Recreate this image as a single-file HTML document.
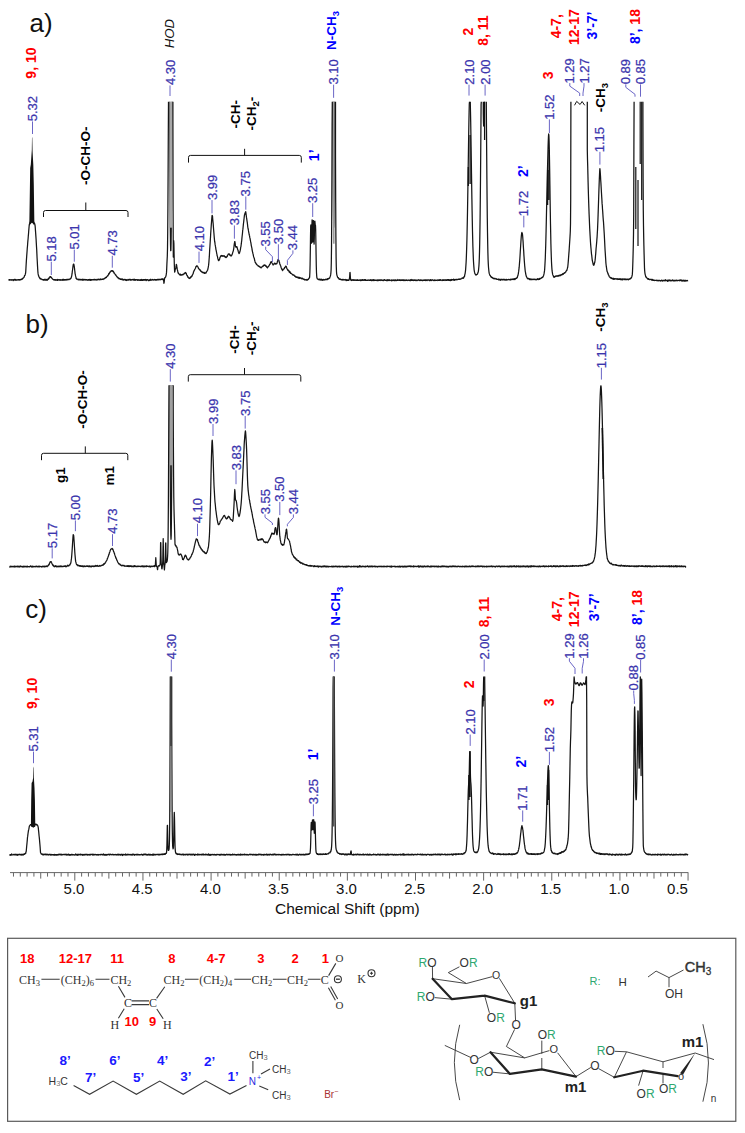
<!DOCTYPE html>
<html><head><meta charset="utf-8"><style>
html,body{margin:0;padding:0;background:#fff;}
svg{display:block;}
.sp{fill:none;stroke:#151515;stroke-width:1.25;stroke-linejoin:round;}
.nl{font-family:"Liberation Sans",sans-serif;font-size:13px;fill:#3b35ad;stroke:#3b35ad;stroke-width:0.25;}
.cn{fill:none;stroke:#5a55c0;stroke-width:0.9;}
.rd{font-family:"Liberation Sans",sans-serif;font-size:14px;font-weight:bold;fill:#f00;}
.bl{font-family:"Liberation Sans",sans-serif;font-size:13.5px;font-weight:bold;fill:#00f;}
.bk{font-family:"Liberation Sans",sans-serif;font-size:13.5px;font-weight:bold;fill:#000;}
.hod{font-family:"Liberation Sans",sans-serif;font-size:13.2px;font-style:italic;fill:#111;}
.pl{font-family:"Liberation Sans",sans-serif;font-size:26px;fill:#111;}
.br{fill:none;stroke:#111;stroke-width:1;}
.sf{font-family:"Liberation Serif",serif;font-size:12px;fill:#333;}
.sl{fill:none;stroke:#3a3a3a;stroke-width:1.1;}
.ss{font-family:"Liberation Sans",sans-serif;font-size:10px;fill:#333;}
.bb{font-family:"Liberation Sans",sans-serif;font-weight:bold;fill:#1a1aff;}
.sg{font-family:"Liberation Sans",sans-serif;fill:#333;}
.sgb{font-family:"Liberation Sans",sans-serif;font-weight:bold;fill:#222;}
.sgl{fill:none;stroke:#333;stroke-width:0.9;}
.sgb2{fill:none;stroke:#222;stroke-width:2.2;stroke-linecap:round;}
.ax{font-family:"Liberation Sans",sans-serif;font-size:14px;fill:#111;}
</style></head><body>
<svg width="745" height="1133" viewBox="0 0 745 1133">
<rect width="745" height="1133" fill="#fff"/>
<polyline class="sp" points="8.5,279.80 8.7,279.68 8.9,279.80 9.1,280.21 9.3,279.66 9.5,279.78 9.7,280.02 9.9,279.74 10.1,279.80 10.3,279.81 10.5,279.88 10.7,279.75 10.9,280.07 11.1,279.93 11.3,280.01 11.5,279.74 11.7,279.88 11.9,279.96 12.1,280.08 12.3,279.95 12.5,279.89 12.7,279.96 12.9,279.56 13.1,279.64 13.3,280.56 13.5,280.36 13.7,279.93 13.9,279.99 14.1,279.83 14.3,279.83 14.5,279.35 14.7,280.16 14.9,279.97 15.1,279.36 15.3,279.71 15.5,279.70 15.7,280.00 15.9,280.28 16.1,279.82 16.3,279.83 16.5,280.16 16.7,280.02 16.9,279.87 17.1,280.08 17.3,279.87 17.5,279.81 17.7,279.82 17.9,279.95 18.1,279.67 18.3,279.59 18.5,279.73 18.7,280.01 18.9,279.62 19.1,279.92 19.3,279.57 19.5,280.05 19.7,279.54 19.9,279.75 20.1,280.02 20.3,279.74 20.5,279.59 20.7,279.47 20.9,279.71 21.1,279.66 21.3,279.25 21.5,279.33 21.7,279.06 21.9,278.84 22.1,279.34 22.3,278.76 22.5,278.39 22.7,278.64 22.9,278.61 23.1,278.05 23.3,277.98 23.5,277.61 23.7,277.69 23.9,277.70 24.1,276.98 24.3,276.58 24.5,275.76 24.7,275.39 24.9,275.39 25.1,274.93 25.3,274.08 25.5,273.61 25.7,272.25 25.9,268.98 26.1,265.20 26.3,261.86 26.5,258.87 26.7,256.15 26.9,253.40 27.1,250.68 27.3,247.71 27.5,246.02 27.7,243.05 27.9,240.65 28.1,238.71 28.3,236.01 28.5,233.98 28.7,231.10 28.9,228.84 29.1,226.43 29.3,224.67 29.5,224.01 29.7,223.67 29.9,223.29 30.1,222.04 30.3,222.19 30.5,222.15 30.7,221.82 30.9,221.80 31.1,221.45 31.3,221.58 31.5,221.53 31.7,221.67 31.9,221.36 32.1,221.73 32.3,221.33 32.5,221.16 32.7,221.98 32.9,222.29 33.1,221.61 33.3,221.22 33.5,222.22 33.7,222.42 33.9,222.17 34.1,222.79 34.3,223.05 34.5,223.44 34.7,223.73 34.9,224.57 35.1,225.65 35.3,227.95 35.5,230.86 35.7,233.64 35.9,236.61 36.1,239.41 36.3,242.98 36.5,246.45 36.7,249.49 36.9,254.00 37.1,258.20 37.3,261.83 37.5,265.62 37.7,269.07 37.9,271.83 38.1,273.69 38.3,275.01 38.5,275.23 38.7,276.15 38.9,276.72 39.1,277.10 39.3,277.34 39.5,277.17 39.7,278.17 39.9,278.09 40.1,278.89 40.3,278.55 40.5,278.50 40.7,278.95 40.9,279.20 41.1,279.12 41.3,279.12 41.5,279.22 41.7,278.95 41.9,279.44 42.1,279.68 42.3,279.61 42.5,279.63 42.7,279.62 42.9,279.69 43.1,279.67 43.3,280.16 43.5,279.56 43.7,279.93 43.9,280.10 44.1,279.66 44.3,279.50 44.5,279.71 44.7,279.80 44.9,280.07 45.1,279.12 45.3,279.61 45.5,280.11 45.7,280.01 45.9,279.79 46.1,280.19 46.3,279.74 46.5,279.88 46.7,279.44 46.9,279.48 47.1,280.36 47.3,279.62 47.5,279.97 47.7,279.21 47.9,279.34 48.1,279.11 48.3,279.35 48.5,278.44 48.7,278.17 48.9,278.69 49.1,278.06 49.3,278.03 49.5,277.58 49.7,277.61 49.9,276.58 50.1,277.09 50.3,276.79 50.5,276.55 50.7,276.88 50.9,276.91 51.1,277.18 51.3,277.32 51.5,277.86 51.7,277.97 51.9,278.20 52.1,278.50 52.3,278.65 52.5,278.96 52.7,278.89 52.9,279.32 53.1,279.41 53.3,279.64 53.5,279.69 53.7,279.94 53.9,279.54 54.1,279.99 54.3,279.92 54.5,279.67 54.7,279.67 54.9,279.88 55.1,280.30 55.3,279.70 55.5,279.74 55.7,280.17 55.9,279.63 56.1,280.00 56.3,280.11 56.5,279.80 56.7,279.88 56.9,279.78 57.1,280.24 57.3,279.38 57.5,279.99 57.7,280.22 57.9,279.69 58.1,279.93 58.3,279.76 58.5,279.93 58.7,279.86 58.9,279.78 59.1,280.03 59.3,279.67 59.5,279.96 59.7,280.06 59.9,279.82 60.1,279.73 60.3,279.90 60.5,280.05 60.7,279.68 60.9,280.28 61.1,280.09 61.3,279.82 61.5,280.17 61.7,279.82 61.9,279.84 62.1,279.60 62.3,280.05 62.5,279.98 62.7,279.73 62.9,280.43 63.1,279.04 63.3,279.98 63.5,279.99 63.7,279.59 63.9,279.81 64.1,280.24 64.3,279.63 64.5,279.57 64.7,279.89 64.9,279.84 65.1,279.64 65.3,279.99 65.5,279.64 65.7,279.69 65.9,279.90 66.1,280.07 66.3,279.77 66.5,279.92 66.7,279.44 66.9,279.64 67.1,279.47 67.3,279.62 67.5,279.57 67.7,279.81 67.9,279.43 68.1,279.13 68.3,279.62 68.5,279.67 68.7,279.53 68.9,279.57 69.1,279.59 69.3,279.33 69.5,279.39 69.7,278.89 69.9,279.17 70.1,278.98 70.3,278.70 70.5,278.83 70.7,278.16 70.9,278.37 71.1,277.99 71.3,277.33 71.5,276.56 71.7,275.99 71.9,274.56 72.1,273.69 72.3,271.47 72.5,270.24 72.7,268.72 72.9,267.17 73.1,265.59 73.3,264.45 73.5,264.05 73.7,264.02 73.9,264.44 74.1,265.63 74.3,266.71 74.5,268.28 74.7,270.22 74.9,271.69 75.1,273.60 75.3,274.39 75.5,275.64 75.7,276.40 75.9,276.83 76.1,278.35 76.3,278.14 76.5,278.79 76.7,278.60 76.9,279.26 77.1,279.18 77.3,279.11 77.5,279.09 77.7,279.29 77.9,279.56 78.1,279.54 78.3,279.22 78.5,279.48 78.7,279.93 78.9,279.33 79.1,279.46 79.3,279.37 79.5,279.69 79.7,279.42 79.9,279.90 80.1,279.51 80.3,279.79 80.5,279.51 80.7,279.44 80.9,279.89 81.1,279.72 81.3,279.71 81.5,279.43 81.7,279.56 81.9,280.05 82.1,279.63 82.3,279.57 82.5,279.23 82.7,280.19 82.9,279.90 83.1,279.44 83.3,280.12 83.5,280.08 83.7,279.66 83.9,279.53 84.1,279.96 84.3,279.66 84.5,279.77 84.7,279.42 84.9,279.80 85.1,279.56 85.3,280.03 85.5,279.85 85.7,279.83 85.9,279.52 86.1,279.67 86.3,280.00 86.5,279.64 86.7,279.62 86.9,279.84 87.1,279.88 87.3,279.86 87.5,280.24 87.7,279.77 87.9,279.76 88.1,280.03 88.3,279.63 88.5,280.16 88.7,279.95 88.9,279.93 89.1,279.32 89.3,280.21 89.5,279.67 89.7,279.58 89.9,279.72 90.1,279.51 90.3,280.06 90.5,280.38 90.7,279.61 90.9,280.10 91.1,279.89 91.3,280.10 91.5,279.54 91.7,279.58 91.9,279.98 92.1,279.57 92.3,279.76 92.5,279.83 92.7,279.77 92.9,279.84 93.1,279.63 93.3,279.70 93.5,279.87 93.7,279.52 93.9,279.93 94.1,279.70 94.3,279.66 94.5,279.39 94.7,279.89 94.9,279.32 95.1,279.71 95.3,279.80 95.5,279.91 95.7,279.59 95.9,279.72 96.1,280.01 96.3,280.01 96.5,279.86 96.7,279.89 96.9,279.44 97.1,279.36 97.3,279.48 97.5,279.60 97.7,279.79 97.9,279.67 98.1,279.45 98.3,279.13 98.5,279.43 98.7,279.72 98.9,279.63 99.1,279.75 99.3,279.81 99.5,279.65 99.7,279.55 99.9,279.12 100.1,279.56 100.3,279.22 100.5,279.10 100.7,279.50 100.9,279.10 101.1,279.31 101.3,279.57 101.5,279.37 101.7,279.41 101.9,279.44 102.1,279.40 102.3,279.28 102.5,279.17 102.7,279.46 102.9,279.20 103.1,279.53 103.3,279.02 103.5,278.87 103.7,278.92 103.9,278.82 104.1,278.66 104.3,278.89 104.5,278.68 104.7,278.39 104.9,278.15 105.1,278.18 105.3,277.51 105.5,278.02 105.7,277.60 105.9,277.36 106.1,277.53 106.3,277.52 106.5,277.40 106.7,276.85 106.9,276.39 107.1,276.36 107.3,276.14 107.5,276.02 107.7,275.51 107.9,275.91 108.1,275.03 108.3,274.79 108.5,274.84 108.7,273.65 108.9,274.23 109.1,273.85 109.3,273.57 109.5,272.69 109.7,272.90 109.9,272.23 110.1,271.98 110.3,271.80 110.5,271.96 110.7,271.57 110.9,270.81 111.1,271.40 111.3,271.16 111.5,270.90 111.7,270.60 111.9,270.72 112.1,270.62 112.3,271.12 112.5,270.71 112.7,270.93 112.9,271.63 113.1,271.04 113.3,271.06 113.5,272.06 113.7,272.11 113.9,272.05 114.1,273.05 114.3,273.47 114.5,273.60 114.7,273.72 114.9,274.03 115.1,274.04 115.3,274.43 115.5,275.11 115.7,274.95 115.9,274.91 116.1,275.36 116.3,275.68 116.5,276.19 116.7,276.19 116.9,276.92 117.1,276.72 117.3,277.14 117.5,277.04 117.7,277.39 117.9,277.96 118.1,277.82 118.3,277.71 118.5,278.44 118.7,278.43 118.9,278.61 119.1,278.90 119.3,278.39 119.5,278.40 119.7,278.62 119.9,278.84 120.1,278.99 120.3,278.98 120.5,279.29 120.7,278.94 120.9,278.95 121.1,279.02 121.3,279.43 121.5,279.32 121.7,279.41 121.9,278.95 122.1,279.39 122.3,279.93 122.5,279.38 122.7,279.03 122.9,279.35 123.1,279.32 123.3,279.55 123.5,280.07 123.7,280.04 123.9,279.91 124.1,279.65 124.3,279.55 124.5,279.47 124.7,279.74 124.9,279.42 125.1,279.74 125.3,279.85 125.5,279.47 125.7,279.92 125.9,280.39 126.1,279.98 126.3,279.69 126.5,280.49 126.7,279.82 126.9,279.82 127.1,280.10 127.3,280.12 127.5,279.87 127.7,279.90 127.9,279.45 128.1,279.68 128.3,280.17 128.5,279.99 128.7,279.61 128.9,279.31 129.1,279.70 129.3,279.72 129.5,279.33 129.7,279.81 129.9,279.88 130.1,280.16 130.3,279.94 130.5,279.27 130.7,280.18 130.9,279.82 131.1,280.18 131.3,279.80 131.5,279.61 131.7,279.90 131.9,279.65 132.1,279.66 132.3,279.73 132.5,279.41 132.7,279.65 132.9,279.92 133.1,280.02 133.3,280.06 133.5,279.74 133.7,279.94 133.9,279.18 134.1,279.40 134.3,279.92 134.5,279.95 134.7,279.44 134.9,280.34 135.1,279.98 135.3,279.63 135.5,280.10 135.7,279.99 135.9,279.96 136.1,279.71 136.3,279.84 136.5,279.78 136.7,279.73 136.9,279.87 137.1,279.60 137.3,280.06 137.5,280.24 137.7,280.33 137.9,280.29 138.1,280.02 138.3,279.63 138.5,279.84 138.7,280.04 138.9,280.15 139.1,280.02 139.3,279.99 139.5,280.03 139.7,280.25 139.9,280.01 140.1,279.64 140.3,280.43 140.5,279.95 140.7,280.42 140.9,279.84 141.1,280.08 141.3,280.41 141.5,279.87 141.7,279.44 141.9,279.86 142.1,279.60 142.3,279.91 142.5,280.43 142.7,279.77 142.9,280.00 143.1,280.26 143.3,279.69 143.5,279.82 143.7,280.02 143.9,279.67 144.1,280.11 144.3,279.73 144.5,280.12 144.7,279.75 144.9,280.16 145.1,279.51 145.3,279.82 145.5,279.53 145.7,280.09 145.9,280.00 146.1,279.67 146.3,280.57 146.5,280.15 146.7,279.62 146.9,279.76 147.1,279.63 147.3,279.95 147.5,279.73 147.7,280.06 147.9,280.21 148.1,280.29 148.3,280.01 148.5,280.00 148.7,280.02 148.9,280.75 149.1,280.36 149.3,279.99 149.5,279.79 149.7,280.00 149.9,280.07 150.1,280.43 150.3,279.34 150.5,280.12 150.7,279.42 150.9,279.45 151.1,279.77 151.3,279.98 151.5,279.80 151.7,280.12 151.9,279.76 152.1,279.82 152.3,279.69 152.5,279.58 152.7,279.38 152.9,279.91 153.1,279.54 153.3,280.00 153.5,280.02 153.7,279.94 153.9,280.03 154.1,279.54 154.3,279.54 154.5,279.45 154.7,279.77 154.9,279.69 155.1,279.90 155.3,280.03 155.5,279.63 155.7,279.66 155.9,280.00 156.1,279.57 156.3,280.14 156.5,279.74 156.7,279.85 156.9,279.81 157.1,279.94 157.3,279.42 157.5,279.51 157.7,279.34 157.9,279.59 158.1,279.94 158.3,279.69 158.5,279.88 158.7,279.46 158.9,279.25 159.1,279.46 159.3,279.67 159.5,279.60 159.7,279.43 159.9,279.83 160.1,279.40 160.3,279.37 160.5,279.53 160.7,279.47 160.9,279.30 161.1,279.51 161.3,279.48 161.5,279.05 161.7,279.15 161.9,278.75 162.1,279.37 162.3,279.53 162.5,278.81 162.7,278.76 162.9,279.15 163.1,279.31 163.3,279.02 163.5,279.92 163.7,280.97 163.9,283.29 164.1,282.68 164.3,281.05 164.5,278.94 164.7,277.77 164.9,277.87 165.1,277.34 165.3,277.41 165.5,277.15 165.7,276.93 165.9,275.84 166.1,275.49 166.3,274.03 166.5,272.64 166.7,268.65 166.9,263.87 167.1,259.98 167.3,256.28 167.5,248.69 167.7,232.92 167.9,208.22 168.1,173.77 168.3,133.73 168.5,101.70"/><polyline class="sp" points="169.7,101.70 169.7,131.95 169.9,172.02 170.1,204.56 170.3,228.26 170.5,244.04 170.7,250.67 170.9,250.32 171.1,242.09 171.3,225.61 171.5,199.47 171.7,163.85 171.9,120.57 172.1,101.70"/><polyline class="sp" points="172.9,101.70 172.9,120.10 173.1,210.95 173.3,257.11 173.5,251.18 173.7,240.64 173.9,243.91 174.1,254.54 174.3,263.70 174.5,269.40 174.7,272.16 174.9,271.59 175.1,270.18 175.3,269.27 175.5,269.20 175.7,268.22 175.9,267.86 176.1,266.44 176.3,264.41 176.5,264.72 176.7,265.48 176.9,267.50 177.1,268.44 177.3,269.46 177.5,270.17 177.7,270.99 177.9,272.28 178.1,272.37 178.3,273.35 178.5,273.33 178.7,273.42 178.9,273.72 179.1,273.93 179.3,274.61 179.5,274.65 179.7,274.86 179.9,274.67 180.1,274.63 180.3,275.14 180.5,274.12 180.7,275.07 180.9,275.15 181.1,274.89 181.3,274.82 181.5,274.84 181.7,275.10 181.9,274.52 182.1,274.82 182.3,274.40 182.5,274.37 182.7,274.98 182.9,274.84 183.1,274.77 183.3,274.35 183.5,274.25 183.7,274.03 183.9,274.11 184.1,273.61 184.3,273.17 184.5,273.67 184.7,273.22 184.9,272.98 185.1,272.98 185.3,272.94 185.5,272.47 185.7,272.72 185.9,273.06 186.1,273.77 186.3,273.39 186.5,274.27 186.7,274.93 186.9,275.29 187.1,275.73 187.3,275.44 187.5,276.21 187.7,276.52 187.9,277.36 188.1,276.92 188.3,277.65 188.5,277.92 188.7,277.69 188.9,278.22 189.1,277.88 189.3,277.82 189.5,278.52 189.7,278.04 189.9,278.31 190.1,277.82 190.3,277.43 190.5,277.84 190.7,276.87 190.9,277.20 191.1,277.20 191.3,276.72 191.5,276.26 191.7,276.56 191.9,275.97 192.1,276.06 192.3,275.09 192.5,274.96 192.7,274.65 192.9,273.79 193.1,273.84 193.3,273.07 193.5,271.95 193.7,271.88 193.9,270.97 194.1,270.74 194.3,270.48 194.5,269.94 194.7,269.44 194.9,269.11 195.1,268.76 195.3,268.28 195.5,268.00 195.7,267.18 195.9,266.72 196.1,266.29 196.3,266.66 196.5,265.81 196.7,265.92 196.9,266.27 197.1,265.99 197.3,265.99 197.5,266.31 197.7,266.57 197.9,266.85 198.1,267.22 198.3,267.82 198.5,268.69 198.7,268.69 198.9,268.70 199.1,269.15 199.3,269.09 199.5,269.30 199.7,269.72 199.9,269.50 200.1,270.44 200.3,270.19 200.5,270.76 200.7,271.05 200.9,270.91 201.1,271.40 201.3,271.21 201.5,271.88 201.7,271.72 201.9,272.08 202.1,272.04 202.3,272.19 202.5,272.50 202.7,272.16 202.9,272.75 203.1,272.79 203.3,272.43 203.5,272.50 203.7,272.67 203.9,272.84 204.1,272.43 204.3,273.37 204.5,273.31 204.7,273.42 204.9,272.98 205.1,273.16 205.3,272.96 205.5,272.96 205.7,273.14 205.9,273.12 206.1,272.92 206.3,271.84 206.5,271.81 206.7,271.53 206.9,271.36 207.1,270.90 207.3,270.49 207.5,270.02 207.7,270.02 207.9,268.79 208.1,268.09 208.3,266.98 208.5,265.89 208.7,264.15 208.9,262.12 209.1,259.17 209.3,256.91 209.5,253.25 209.7,249.22 209.9,246.76 210.1,243.52 210.3,240.12 210.5,237.23 210.7,233.50 210.9,230.77 211.1,227.78 211.3,224.78 211.5,222.36 211.7,219.46 211.9,217.13 212.1,215.40 212.3,215.69 212.5,216.06 212.7,218.72 212.9,220.94 213.1,222.86 213.3,225.36 213.5,228.03 213.7,230.55 213.9,233.03 214.1,235.64 214.3,237.85 214.5,240.10 214.7,241.72 214.9,242.48 215.1,244.41 215.3,245.50 215.5,246.63 215.7,247.59 215.9,249.35 216.1,250.15 216.3,251.12 216.5,252.03 216.7,253.53 216.9,253.97 217.1,255.70 217.3,255.93 217.5,256.85 217.7,257.74 217.9,259.00 218.1,259.14 218.3,260.12 218.5,260.55 218.7,260.61 218.9,260.48 219.1,259.96 219.3,259.41 219.5,259.66 219.7,258.72 219.9,257.79 220.1,257.40 220.3,256.81 220.5,256.87 220.7,255.93 220.9,256.38 221.1,255.91 221.3,255.62 221.5,255.49 221.7,255.83 221.9,255.74 222.1,256.11 222.3,256.08 222.5,255.67 222.7,255.96 222.9,255.99 223.1,256.31 223.3,255.92 223.5,255.80 223.7,256.16 223.9,256.10 224.1,255.64 224.3,256.12 224.5,256.39 224.7,256.80 224.9,256.87 225.1,256.98 225.3,256.76 225.5,257.42 225.7,256.94 225.9,257.69 226.1,257.54 226.3,257.13 226.5,257.21 226.7,257.09 226.9,256.59 227.1,256.08 227.3,256.24 227.5,255.49 227.7,255.08 227.9,254.81 228.1,254.22 228.3,254.32 228.5,254.11 228.7,253.96 228.9,253.83 229.1,254.18 229.3,253.92 229.5,254.75 229.7,254.45 229.9,255.25 230.1,255.33 230.3,255.43 230.5,255.21 230.7,255.65 230.9,256.06 231.1,255.63 231.3,255.90 231.5,255.84 231.7,255.23 231.9,254.93 232.1,254.26 232.3,254.12 232.5,253.31 232.7,252.62 232.9,252.04 233.1,251.42 233.3,250.87 233.5,249.74 233.7,248.87 233.9,247.24 234.1,245.70 234.3,243.90 234.5,242.77 234.7,241.66 234.9,241.56 235.1,242.95 235.3,244.50 235.5,246.21 235.7,246.63 235.9,246.99 236.1,247.27 236.3,246.67 236.5,246.74 236.7,246.91 236.9,246.71 237.1,247.34 237.3,248.03 237.5,249.02 237.7,249.62 237.9,250.19 238.1,250.44 238.3,251.71 238.5,252.16 238.7,252.59 238.9,253.47 239.1,253.57 239.3,252.51 239.5,253.14 239.7,252.02 239.9,251.66 240.1,250.80 240.3,250.16 240.5,248.87 240.7,247.39 240.9,246.85 241.1,245.25 241.3,243.97 241.5,241.94 241.7,240.77 241.9,238.41 242.1,236.49 242.3,234.73 242.5,233.04 242.7,230.29 242.9,229.17 243.1,227.24 243.3,225.12 243.5,223.22 243.7,221.87 243.9,219.87 244.1,218.24 244.3,216.37 244.5,214.74 244.7,214.81 244.9,213.40 245.1,213.69 245.3,212.43 245.5,212.39 245.7,211.68 245.9,212.90 246.1,214.40 246.3,215.88 246.5,217.43 246.7,218.58 246.9,220.08 247.1,221.36 247.3,222.65 247.5,224.37 247.7,226.30 247.9,227.75 248.1,228.76 248.3,229.46 248.5,230.90 248.7,232.04 248.9,232.86 249.1,234.24 249.3,235.15 249.5,235.70 249.7,236.87 249.9,237.88 250.1,238.67 250.3,239.90 250.5,240.97 250.7,241.99 250.9,242.83 251.1,244.09 251.3,245.54 251.5,246.46 251.7,247.35 251.9,248.15 252.1,249.99 252.3,250.66 252.5,251.81 252.7,252.48 252.9,253.45 253.1,254.00 253.3,255.04 253.5,256.11 253.7,256.90 253.9,257.44 254.1,258.19 254.3,258.43 254.5,259.31 254.7,260.69 254.9,260.94 255.1,261.95 255.3,262.56 255.5,262.45 255.7,262.92 255.9,263.68 256.1,263.30 256.3,264.22 256.5,264.51 256.7,264.28 256.9,264.59 257.1,264.88 257.3,265.03 257.5,265.13 257.7,265.38 257.9,265.54 258.1,266.13 258.3,266.15 258.5,265.82 258.7,266.32 258.9,266.19 259.1,266.20 259.3,266.79 259.5,266.82 259.7,266.55 259.9,267.05 260.1,266.91 260.3,267.11 260.5,267.40 260.7,267.68 260.9,267.88 261.1,267.91 261.3,267.41 261.5,267.26 261.7,267.24 261.9,266.79 262.1,266.95 262.3,266.34 262.5,266.46 262.7,266.35 262.9,266.20 263.1,266.08 263.3,265.28 263.5,266.17 263.7,265.58 263.9,265.19 264.1,265.21 264.3,265.38 264.5,264.79 264.7,265.45 264.9,265.50 265.1,265.07 265.3,265.68 265.5,266.07 265.7,265.47 265.9,265.74 266.1,266.00 266.3,266.57 266.5,266.66 266.7,267.19 266.9,266.72 267.1,267.12 267.3,267.24 267.5,267.96 267.7,267.22 267.9,266.93 268.1,266.80 268.3,266.67 268.5,266.58 268.7,266.35 268.9,265.78 269.1,265.50 269.3,265.21 269.5,265.04 269.7,264.22 269.9,264.53 270.1,263.81 270.3,263.51 270.5,262.68 270.7,262.20 270.9,261.93 271.1,261.85 271.3,262.32 271.5,261.54 271.7,262.19 271.9,262.71 272.1,263.10 272.3,263.63 272.5,263.84 272.7,264.18 272.9,264.53 273.1,265.10 273.3,264.41 273.5,264.19 273.7,264.05 273.9,264.08 274.1,263.78 274.3,263.49 274.5,263.74 274.7,263.16 274.9,263.96 275.1,263.79 275.3,263.74 275.5,264.20 275.7,263.94 275.9,263.47 276.1,263.56 276.3,263.91 276.5,263.53 276.7,263.75 276.9,263.53 277.1,262.76 277.3,262.16 277.5,261.21 277.7,261.08 277.9,259.87 278.1,259.83 278.3,259.35 278.5,260.08 278.7,260.17 278.9,260.60 279.1,261.08 279.3,262.36 279.5,262.41 279.7,263.43 279.9,264.32 280.1,264.41 280.3,265.21 280.5,265.51 280.7,265.78 280.9,266.74 281.1,267.61 281.3,268.12 281.5,268.35 281.7,268.87 281.9,269.52 282.1,269.78 282.3,269.66 282.5,269.35 282.7,270.60 282.9,269.69 283.1,269.78 283.3,269.33 283.5,269.07 283.7,269.01 283.9,269.00 284.1,268.82 284.3,268.67 284.5,267.65 284.7,267.74 284.9,267.51 285.1,267.11 285.3,267.08 285.5,266.43 285.7,266.04 285.9,266.09 286.1,266.93 286.3,266.50 286.5,267.44 286.7,268.18 286.9,268.50 287.1,268.91 287.3,269.10 287.5,269.70 287.7,270.11 287.9,270.08 288.1,269.80 288.3,270.72 288.5,270.68 288.7,271.02 288.9,270.61 289.1,271.98 289.3,271.45 289.5,272.26 289.7,272.29 289.9,272.37 290.1,271.74 290.3,272.91 290.5,273.38 290.7,272.76 290.9,273.46 291.1,273.48 291.3,273.59 291.5,273.72 291.7,273.94 291.9,273.98 292.1,274.10 292.3,274.13 292.5,274.59 292.7,274.81 292.9,275.03 293.1,274.75 293.3,275.04 293.5,275.02 293.7,275.16 293.9,275.00 294.1,275.50 294.3,275.49 294.5,276.11 294.7,276.20 294.9,276.13 295.1,276.47 295.3,276.11 295.5,276.73 295.7,276.48 295.9,277.22 296.1,276.98 296.3,276.89 296.5,276.96 296.7,277.43 296.9,277.04 297.1,276.90 297.3,277.06 297.5,277.45 297.7,277.50 297.9,277.72 298.1,277.33 298.3,277.18 298.5,277.73 298.7,278.08 298.9,277.66 299.1,277.59 299.3,278.49 299.5,277.83 299.7,277.37 299.9,277.76 300.1,277.87 300.3,277.96 300.5,277.84 300.7,278.39 300.9,278.41 301.1,278.15 301.3,278.47 301.5,278.28 301.7,278.88 301.9,278.26 302.1,278.30 302.3,278.55 302.5,278.58 302.7,278.28 302.9,279.02 303.1,279.05 303.3,279.18 303.5,279.11 303.7,279.35 303.9,279.19 304.1,279.46 304.3,279.76 304.5,279.88 304.7,279.28 304.9,279.68 305.1,279.79 305.3,279.78 305.5,279.85 305.7,279.66 305.9,279.71 306.1,279.98 306.3,280.02 306.5,280.06 306.7,280.07 306.9,279.38 307.1,279.92 307.3,280.16 307.5,279.82 307.7,279.75 307.9,279.41 308.1,279.63 308.3,279.19 308.5,279.12 308.7,278.76 308.9,278.37 309.1,277.97 309.3,277.99 309.5,277.91 309.7,276.07 309.9,272.06 310.1,263.90 310.3,251.92 310.5,237.04 310.7,226.19 310.9,224.90 311.1,232.91 311.3,241.85 311.5,243.18 311.7,236.02 311.9,225.57 312.1,219.88 312.3,224.84 312.5,235.60 312.7,242.07 312.9,239.57 313.1,229.86 313.3,220.51 313.5,220.73 313.7,230.09 313.9,240.48 314.1,244.10 314.3,238.50 314.5,228.13 314.7,221.44 314.9,221.25 315.1,223.53 315.3,224.67 315.5,225.56 315.7,230.51 315.9,242.31 316.1,255.02 316.3,266.32 316.5,272.83 316.7,275.85 316.9,277.86 317.1,277.96 317.3,278.83 317.5,278.78 317.7,279.08 317.9,279.16 318.1,279.20 318.3,279.34 318.5,279.65 318.7,279.23 318.9,279.32 319.1,279.22 319.3,279.23 319.5,279.94 319.7,279.31 319.9,279.33 320.1,279.81 320.3,279.43 320.5,279.34 320.7,279.85 320.9,280.07 321.1,279.82 321.3,279.04 321.5,279.69 321.7,280.05 321.9,279.81 322.1,280.00 322.3,279.85 322.5,279.72 322.7,280.39 322.9,279.65 323.1,279.38 323.3,279.78 323.5,279.82 323.7,279.44 323.9,280.02 324.1,280.00 324.3,280.03 324.5,279.70 324.7,279.55 324.9,279.65 325.1,279.47 325.3,279.38 325.5,279.44 325.7,279.74 325.9,279.58 326.1,279.17 326.3,279.71 326.5,279.47 326.7,279.47 326.9,279.36 327.1,279.54 327.3,279.55 327.5,278.51 327.7,278.84 327.9,279.17 328.1,278.92 328.3,278.63 328.5,278.77 328.7,278.40 328.9,278.56 329.1,278.31 329.3,278.04 329.5,277.89 329.7,278.10 329.9,277.13 330.1,276.65 330.3,276.07 330.5,275.75 330.7,274.43 330.9,272.80 331.1,270.01 331.3,263.09 331.5,248.03 331.7,222.04 331.9,180.26 332.1,126.34 332.3,101.70"/><polyline class="sp" points="333.1,101.70 333.1,124.01 333.3,174.59 333.5,211.04 333.7,227.27 333.9,222.16 334.1,195.20 334.3,150.34 334.5,101.70"/><polyline class="sp" points="335.5,101.70 335.5,154.66 335.7,202.76 335.9,236.95 336.1,256.98 336.3,266.84 336.5,271.86 336.7,274.03 336.9,275.12 337.1,275.91 337.3,276.17 337.5,277.22 337.7,277.27 337.9,277.80 338.1,277.60 338.3,277.53 338.5,278.28 338.7,278.10 338.9,278.80 339.1,279.19 339.3,279.22 339.5,279.40 339.7,279.33 339.9,279.23 340.1,278.95 340.3,279.13 340.5,279.24 340.7,279.51 340.9,279.64 341.1,279.49 341.3,279.50 341.5,279.51 341.7,279.51 341.9,279.67 342.1,280.15 342.3,279.97 342.5,279.92 342.7,279.31 342.9,279.87 343.1,279.61 343.3,279.43 343.5,279.73 343.7,279.93 343.9,279.92 344.1,280.12 344.3,279.80 344.5,279.60 344.7,279.76 344.9,279.72 345.1,279.74 345.3,279.43 345.5,280.10 345.7,279.91 345.9,279.78 346.1,279.65 346.3,280.57 346.5,280.10 346.7,280.03 346.9,280.24 347.1,279.77 347.3,279.93 347.5,280.09 347.7,280.40 347.9,280.32 348.1,280.23 348.3,279.86 348.5,280.26 348.7,280.45 348.9,280.26 349.1,279.96 349.3,279.16 349.5,278.02 349.7,276.26 349.9,272.61 350.1,272.50 350.3,275.83 350.5,278.69 350.7,279.93 350.9,279.97 351.1,280.40 351.3,279.92 351.5,279.82 351.7,280.51 351.9,280.07 352.1,279.99 352.3,279.76 352.5,279.74 352.7,279.89 352.9,280.27 353.1,280.20 353.3,279.81 353.5,280.26 353.7,280.13 353.9,279.73 354.1,280.09 354.3,280.47 354.5,280.20 354.7,279.97 354.9,280.18 355.1,279.85 355.3,279.82 355.5,280.30 355.7,280.27 355.9,280.17 356.1,280.45 356.3,280.06 356.5,280.20 356.7,279.96 356.9,280.30 357.1,280.38 357.3,279.70 357.5,280.38 357.7,280.31 357.9,280.35 358.1,280.24 358.3,280.39 358.5,280.18 358.7,280.34 358.9,280.27 359.1,280.08 359.3,280.00 359.5,280.06 359.7,280.36 359.9,280.08 360.1,280.21 360.3,280.20 360.5,280.61 360.7,280.01 360.9,280.21 361.1,279.75 361.3,280.02 361.5,280.46 361.7,280.53 361.9,279.90 362.1,280.40 362.3,280.01 362.5,280.26 362.7,279.66 362.9,280.17 363.1,279.81 363.3,279.86 363.5,280.31 363.7,280.27 363.9,279.82 364.1,280.19 364.3,280.41 364.5,279.89 364.7,279.55 364.9,280.20 365.1,279.84 365.3,280.23 365.5,279.85 365.7,280.25 365.9,279.86 366.1,280.06 366.3,280.24 366.5,280.13 366.7,280.33 366.9,280.47 367.1,280.46 367.3,280.21 367.5,280.46 367.7,280.08 367.9,280.06 368.1,280.07 368.3,280.31 368.5,280.18 368.7,280.20 368.9,279.86 369.1,280.39 369.3,280.29 369.5,280.25 369.7,280.23 369.9,280.38 370.1,280.35 370.3,279.94 370.5,280.35 370.7,279.96 370.9,279.69 371.1,279.87 371.3,280.65 371.5,280.00 371.7,280.08 371.9,280.06 372.1,280.60 372.3,280.01 372.5,280.47 372.7,279.87 372.9,279.93 373.1,279.56 373.3,280.30 373.5,280.58 373.7,279.94 373.9,279.98 374.1,280.30 374.3,279.86 374.5,280.03 374.7,280.53 374.9,280.29 375.1,280.32 375.3,280.23 375.5,280.16 375.7,280.38 375.9,280.25 376.1,280.06 376.3,280.22 376.5,280.27 376.7,280.28 376.9,280.23 377.1,280.69 377.3,280.17 377.5,280.47 377.7,280.18 377.9,280.58 378.1,279.98 378.3,280.15 378.5,280.55 378.7,280.15 378.9,280.40 379.1,279.76 379.3,280.09 379.5,280.41 379.7,280.15 379.9,280.22 380.1,279.91 380.3,280.12 380.5,280.08 380.7,280.49 380.9,280.01 381.1,279.69 381.3,280.05 381.5,280.22 381.7,280.17 381.9,280.45 382.1,280.17 382.3,280.49 382.5,280.20 382.7,280.31 382.9,280.42 383.1,280.07 383.3,280.59 383.5,280.22 383.7,280.54 383.9,279.76 384.1,279.72 384.3,280.00 384.5,279.74 384.7,280.07 384.9,280.08 385.1,280.32 385.3,280.44 385.5,280.18 385.7,280.35 385.9,280.32 386.1,280.03 386.3,280.25 386.5,280.61 386.7,280.27 386.9,280.41 387.1,280.29 387.3,280.49 387.5,279.92 387.7,279.74 387.9,280.50 388.1,280.06 388.3,280.07 388.5,280.49 388.7,280.19 388.9,279.87 389.1,280.01 389.3,279.81 389.5,280.51 389.7,280.41 389.9,280.15 390.1,280.13 390.3,280.21 390.5,280.32 390.7,280.32 390.9,280.37 391.1,280.11 391.3,280.91 391.5,279.82 391.7,280.36 391.9,280.58 392.1,280.09 392.3,280.58 392.5,280.13 392.7,280.33 392.9,280.08 393.1,280.03 393.3,279.90 393.5,280.35 393.7,280.30 393.9,280.23 394.1,280.58 394.3,280.08 394.5,280.20 394.7,280.56 394.9,279.93 395.1,279.89 395.3,280.56 395.5,280.09 395.7,279.92 395.9,280.02 396.1,280.47 396.3,280.58 396.5,280.26 396.7,280.35 396.9,280.23 397.1,280.26 397.3,280.10 397.5,280.37 397.7,280.27 397.9,279.49 398.1,280.26 398.3,280.05 398.5,280.16 398.7,280.18 398.9,280.46 399.1,280.10 399.3,280.25 399.5,280.03 399.7,279.72 399.9,280.19 400.1,280.04 400.3,280.49 400.5,280.20 400.7,279.85 400.9,280.25 401.1,280.39 401.3,280.18 401.5,280.28 401.7,280.29 401.9,280.33 402.1,279.74 402.3,280.45 402.5,280.34 402.7,280.38 402.9,279.92 403.1,280.30 403.3,279.91 403.5,280.19 403.7,280.24 403.9,280.60 404.1,279.93 404.3,280.10 404.5,280.13 404.7,280.26 404.9,280.34 405.1,280.55 405.3,280.00 405.5,280.17 405.7,280.32 405.9,280.39 406.1,280.20 406.3,280.26 406.5,279.82 406.7,280.04 406.9,280.38 407.1,280.51 407.3,280.29 407.5,280.46 407.7,280.21 407.9,280.13 408.1,280.07 408.3,280.13 408.5,280.28 408.7,280.08 408.9,280.45 409.1,280.25 409.3,280.03 409.5,280.16 409.7,280.55 409.9,280.52 410.1,280.63 410.3,279.78 410.5,280.62 410.7,280.26 410.9,279.77 411.1,279.96 411.3,279.90 411.5,280.35 411.7,280.04 411.9,279.47 412.1,280.24 412.3,280.12 412.5,280.30 412.7,280.23 412.9,280.13 413.1,279.88 413.3,280.45 413.5,280.58 413.7,280.22 413.9,280.17 414.1,279.87 414.3,280.04 414.5,280.38 414.7,280.08 414.9,279.94 415.1,280.15 415.3,280.31 415.5,280.05 415.7,280.31 415.9,280.69 416.1,279.89 416.3,280.54 416.5,280.30 416.7,280.30 416.9,280.30 417.1,280.29 417.3,280.58 417.5,280.09 417.7,280.21 417.9,280.21 418.1,279.95 418.3,279.94 418.5,279.88 418.7,279.76 418.9,280.11 419.1,280.60 419.3,280.16 419.5,280.21 419.7,280.20 419.9,280.37 420.1,280.44 420.3,280.02 420.5,279.97 420.7,280.49 420.9,280.08 421.1,280.26 421.3,280.31 421.5,280.04 421.7,280.23 421.9,280.35 422.1,280.20 422.3,280.71 422.5,280.36 422.7,280.32 422.9,280.56 423.1,280.17 423.3,280.14 423.5,280.36 423.7,280.25 423.9,280.04 424.1,279.95 424.3,280.40 424.5,280.12 424.7,279.95 424.9,280.22 425.1,280.40 425.3,280.40 425.5,280.29 425.7,280.47 425.9,279.70 426.1,280.35 426.3,280.11 426.5,280.16 426.7,280.05 426.9,280.30 427.1,280.53 427.3,279.79 427.5,280.22 427.7,280.17 427.9,280.15 428.1,279.89 428.3,280.01 428.5,279.91 428.7,279.99 428.9,280.16 429.1,280.13 429.3,280.38 429.5,280.68 429.7,280.25 429.9,280.46 430.1,279.55 430.3,279.80 430.5,279.90 430.7,280.33 430.9,279.67 431.1,280.61 431.3,280.49 431.5,280.38 431.7,280.42 431.9,280.15 432.1,280.13 432.3,279.70 432.5,279.93 432.7,279.87 432.9,280.07 433.1,280.21 433.3,280.35 433.5,280.55 433.7,280.39 433.9,280.27 434.1,279.98 434.3,280.59 434.5,280.51 434.7,280.11 434.9,280.43 435.1,280.08 435.3,280.27 435.5,280.35 435.7,280.49 435.9,280.18 436.1,280.34 436.3,280.31 436.5,280.31 436.7,280.11 436.9,280.12 437.1,280.58 437.3,280.19 437.5,280.05 437.7,279.89 437.9,279.95 438.1,280.09 438.3,280.43 438.5,280.33 438.7,279.91 438.9,280.31 439.1,279.88 439.3,279.81 439.5,280.39 439.7,280.02 439.9,280.15 440.1,279.62 440.3,279.91 440.5,280.25 440.7,280.01 440.9,280.34 441.1,280.15 441.3,280.06 441.5,280.07 441.7,280.03 441.9,280.33 442.1,280.56 442.3,280.19 442.5,280.32 442.7,280.27 442.9,279.55 443.1,279.79 443.3,280.13 443.5,280.44 443.7,280.40 443.9,279.98 444.1,279.80 444.3,280.14 444.5,280.03 444.7,280.00 444.9,279.79 445.1,280.52 445.3,280.01 445.5,279.94 445.7,279.80 445.9,279.94 446.1,280.31 446.3,280.17 446.5,280.41 446.7,279.97 446.9,279.97 447.1,279.88 447.3,280.25 447.5,280.29 447.7,279.62 447.9,279.95 448.1,279.55 448.3,279.87 448.5,280.34 448.7,279.77 448.9,279.66 449.1,280.07 449.3,280.43 449.5,279.78 449.7,279.98 449.9,279.86 450.1,280.60 450.3,279.81 450.5,280.60 450.7,280.12 450.9,279.68 451.1,280.35 451.3,280.35 451.5,279.99 451.7,279.45 451.9,279.45 452.1,280.00 452.3,279.59 452.5,279.69 452.7,279.75 452.9,279.72 453.1,279.98 453.3,279.59 453.5,279.51 453.7,279.09 453.9,279.53 454.1,280.36 454.3,280.03 454.5,279.63 454.7,279.69 454.9,280.15 455.1,279.71 455.3,279.75 455.5,279.66 455.7,279.66 455.9,279.38 456.1,279.23 456.3,279.40 456.5,279.83 456.7,279.75 456.9,279.68 457.1,279.51 457.3,279.58 457.5,279.53 457.7,279.65 457.9,279.16 458.1,279.16 458.3,279.10 458.5,279.33 458.7,279.17 458.9,279.47 459.1,279.47 459.3,279.31 459.5,278.99 459.7,279.14 459.9,279.34 460.1,278.99 460.3,278.86 460.5,278.87 460.7,279.03 460.9,278.79 461.1,278.85 461.3,278.76 461.5,278.64 461.7,278.36 461.9,278.01 462.1,277.99 462.3,278.14 462.5,278.30 462.7,278.17 462.9,278.04 463.1,277.56 463.3,278.39 463.5,277.47 463.7,277.84 463.9,277.11 464.1,276.49 464.3,276.69 464.5,276.58 464.7,275.10 464.9,274.29 465.1,273.57 465.3,272.11 465.5,270.98 465.7,268.38 465.9,265.58 466.1,262.49 466.3,258.42 466.5,253.10 466.7,247.04 466.9,240.30 467.1,231.39 467.3,221.99 467.5,211.43 467.7,199.41 467.9,186.90 468.1,173.74 468.3,160.54 468.5,146.79 468.7,134.39 468.9,122.29 469.1,112.36 469.3,104.07 469.5,101.70"/><polyline class="sp" points="470.3,101.70 470.3,103.43 470.5,111.98 470.7,122.01 470.9,133.84 471.1,146.78 471.3,160.04 471.5,173.55 471.7,186.78 471.9,199.24 472.1,210.78 472.3,220.96 472.5,231.17 472.7,239.15 472.9,246.78 473.1,252.04 473.3,257.52 473.5,261.48 473.7,264.46 473.9,267.12 474.1,269.75 474.3,270.78 474.5,272.14 474.7,272.80 474.9,273.55 475.1,273.86 475.3,274.29 475.5,274.61 475.7,274.41 475.9,275.15 476.1,274.89 476.3,274.98 476.5,274.71 476.7,274.67 476.9,274.45 477.1,274.34 477.3,274.10 477.5,274.11 477.7,273.34 477.9,272.79 478.1,272.40 478.3,271.60 478.5,270.45 478.7,268.24 478.9,266.29 479.1,262.93 479.3,258.43 479.5,252.03 479.7,243.42 479.9,231.41 480.1,217.75 480.3,199.56 480.5,178.83 480.7,155.40 480.9,130.43 481.1,104.54 481.3,101.70"/><polyline class="sp" points="483.3,101.70 483.3,113.57 483.5,123.07 483.7,126.04 483.9,123.17 484.1,113.88 484.3,101.70"/><polyline class="sp" points="486.3,101.70 486.3,104.20 486.5,130.28 486.7,155.59 486.9,179.26 487.1,199.94 487.3,218.05 487.5,232.23 487.7,243.73 487.9,252.94 488.1,259.75 488.3,263.85 488.5,267.23 488.7,269.26 488.9,271.24 489.1,272.59 489.3,273.69 489.5,274.06 489.7,274.72 489.9,275.29 490.1,275.43 490.3,275.46 490.5,275.99 490.7,276.54 490.9,276.43 491.1,277.00 491.3,277.32 491.5,276.98 491.7,277.40 491.9,277.14 492.1,277.48 492.3,277.89 492.5,277.75 492.7,277.59 492.9,278.07 493.1,278.38 493.3,278.37 493.5,278.50 493.7,278.67 493.9,278.77 494.1,278.41 494.3,278.30 494.5,278.73 494.7,278.50 494.9,278.53 495.1,278.38 495.3,278.90 495.5,278.99 495.7,278.84 495.9,278.96 496.1,278.95 496.3,278.74 496.5,279.20 496.7,279.07 496.9,279.41 497.1,279.23 497.3,279.39 497.5,279.44 497.7,279.33 497.9,279.41 498.1,279.23 498.3,279.14 498.5,279.74 498.7,279.14 498.9,279.96 499.1,279.37 499.3,279.27 499.5,279.63 499.7,279.54 499.9,279.69 500.1,279.29 500.3,280.32 500.5,279.78 500.7,280.04 500.9,279.52 501.1,279.25 501.3,279.29 501.5,279.43 501.7,279.55 501.9,279.81 502.1,279.32 502.3,279.48 502.5,279.86 502.7,279.97 502.9,279.82 503.1,279.40 503.3,279.36 503.5,279.28 503.7,279.88 503.9,279.78 504.1,279.35 504.3,279.64 504.5,279.51 504.7,280.04 504.9,279.80 505.1,279.72 505.3,279.81 505.5,279.82 505.7,280.13 505.9,279.32 506.1,279.69 506.3,280.09 506.5,279.45 506.7,279.71 506.9,279.54 507.1,279.77 507.3,279.92 507.5,279.91 507.7,279.63 507.9,279.52 508.1,279.59 508.3,279.54 508.5,279.40 508.7,279.62 508.9,279.44 509.1,279.41 509.3,279.61 509.5,279.69 509.7,279.77 509.9,279.96 510.1,280.03 510.3,279.31 510.5,279.63 510.7,279.75 510.9,279.21 511.1,279.35 511.3,279.56 511.5,279.31 511.7,279.59 511.9,279.44 512.1,279.05 512.3,279.22 512.5,279.53 512.7,279.27 512.9,279.12 513.1,279.42 513.3,279.47 513.5,278.86 513.7,279.37 513.9,279.59 514.1,279.19 514.3,278.61 514.5,278.98 514.7,278.85 514.9,279.57 515.1,279.11 515.3,278.60 515.5,278.93 515.7,278.42 515.9,278.53 516.1,278.44 516.3,277.98 516.5,278.37 516.7,278.17 516.9,277.79 517.1,277.48 517.3,277.60 517.5,276.43 517.7,276.14 517.9,275.58 518.1,274.57 518.3,273.85 518.5,272.29 518.7,271.19 518.9,269.41 519.1,267.95 519.3,265.68 519.5,263.14 519.7,260.85 519.9,257.94 520.1,254.77 520.3,251.32 520.5,248.19 520.7,244.96 520.9,242.02 521.1,239.02 521.3,236.36 521.5,234.69 521.7,233.20 521.9,232.42 522.1,233.07 522.3,233.33 522.5,234.62 522.7,236.56 522.9,239.32 523.1,241.85 523.3,245.34 523.5,248.42 523.7,251.17 523.9,255.09 524.1,257.79 524.3,260.65 524.5,263.25 524.7,265.73 524.9,267.56 525.1,269.85 525.3,271.52 525.5,272.45 525.7,274.04 525.9,274.62 526.1,275.51 526.3,276.35 526.5,276.81 526.7,277.18 526.9,277.40 527.1,277.95 527.3,278.08 527.5,278.57 527.7,278.44 527.9,278.98 528.1,278.62 528.3,278.82 528.5,278.27 528.7,278.54 528.9,278.96 529.1,278.74 529.3,278.96 529.5,279.36 529.7,279.72 529.9,278.88 530.1,279.09 530.3,279.71 530.5,279.09 530.7,279.05 530.9,279.47 531.1,279.13 531.3,279.77 531.5,279.42 531.7,279.37 531.9,279.20 532.1,279.31 532.3,279.36 532.5,279.29 532.7,279.60 532.9,279.07 533.1,279.53 533.3,279.25 533.5,279.46 533.7,279.52 533.9,279.31 534.1,279.35 534.3,279.12 534.5,279.19 534.7,279.59 534.9,279.32 535.1,279.41 535.3,279.63 535.5,279.70 535.7,279.35 535.9,279.54 536.1,279.74 536.3,279.40 536.5,279.30 536.7,279.32 536.9,279.62 537.1,279.45 537.3,278.94 537.5,279.45 537.7,279.31 537.9,278.63 538.1,279.08 538.3,279.26 538.5,279.59 538.7,278.99 538.9,279.37 539.1,278.99 539.3,279.15 539.5,279.30 539.7,278.41 539.9,278.79 540.1,278.47 540.3,278.44 540.5,278.73 540.7,278.44 540.9,278.46 541.1,278.04 541.3,278.06 541.5,278.14 541.7,277.51 541.9,277.65 542.1,277.51 542.3,277.64 542.5,277.15 542.7,277.40 542.9,276.66 543.1,276.71 543.3,276.07 543.5,275.74 543.7,275.06 543.9,274.30 544.1,273.46 544.3,272.20 544.5,270.90 544.7,268.82 544.9,265.22 545.1,261.83 545.3,257.92 545.5,251.74 545.7,246.09 545.9,238.55 546.1,230.48 546.3,221.78 546.5,212.43 546.7,203.55 546.9,194.02 547.1,185.27 547.3,176.81 547.5,168.85 547.7,161.11 547.9,153.54 548.1,146.04 548.3,140.39 548.5,135.75 548.7,133.99 548.9,135.58 549.1,140.45 549.3,148.71 549.5,159.86 549.7,172.23 549.9,185.23 550.1,199.41 550.3,212.07 550.5,224.00 550.7,233.80 550.9,243.67 551.1,250.86 551.3,256.74 551.5,262.04 551.7,265.61 551.9,268.62 552.1,270.93 552.3,272.22 552.5,273.28 552.7,274.41 552.9,274.97 553.1,275.38 553.3,275.70 553.5,276.67 553.7,276.49 553.9,276.97 554.1,277.37 554.3,277.11 554.5,276.71 554.7,276.72 554.9,276.96 555.1,276.16 555.3,276.33 555.5,276.33 555.7,276.34 555.9,276.03 556.1,276.19 556.3,275.78 556.5,275.96 556.7,275.85 556.9,276.05 557.1,276.32 557.3,275.79 557.5,276.15 557.7,275.89 557.9,275.84 558.1,276.00 558.3,275.55 558.5,276.09 558.7,275.33 558.9,275.81 559.1,275.37 559.3,275.24 559.5,275.73 559.7,275.63 559.9,275.15 560.1,275.26 560.3,275.21 560.5,275.61 560.7,275.49 560.9,274.86 561.1,274.55 561.3,275.00 561.5,274.94 561.7,274.58 561.9,274.42 562.1,274.30 562.3,274.44 562.5,274.71 562.7,273.75 562.9,274.12 563.1,273.57 563.3,274.26 563.5,273.56 563.7,273.65 563.9,273.68 564.1,273.04 564.3,272.83 564.5,273.15 564.7,272.69 564.9,272.95 565.1,272.65 565.3,272.36 565.5,272.16 565.7,271.68 565.9,271.88 566.1,271.05 566.3,270.72 566.5,270.64 566.7,270.46 566.9,270.28 567.1,269.16 567.3,268.71 567.5,267.81 567.7,267.23 567.9,265.51 568.1,263.53 568.3,261.14 568.5,258.51 568.7,255.89 568.9,253.17 569.1,250.86 569.3,247.54 569.5,244.56 569.7,241.47 569.9,238.46 570.1,235.11 570.3,231.57 570.5,223.91 570.7,199.72 570.9,101.70"/><polyline class="sp" points="587.3,101.70 587.3,149.63 587.5,159.22 587.7,165.70 587.9,174.09 588.1,182.17 588.3,189.80 588.5,196.83 588.7,203.00 588.9,208.54 589.1,214.09 589.3,218.57 589.5,223.52 589.7,228.21 589.9,231.76 590.1,235.50 590.3,238.97 590.5,242.24 590.7,244.84 590.9,247.33 591.1,249.48 591.3,252.01 591.5,254.04 591.7,255.12 591.9,257.03 592.1,258.83 592.3,260.50 592.5,261.30 592.7,262.08 592.9,263.09 593.1,263.91 593.3,264.76 593.5,264.87 593.7,265.32 593.9,265.04 594.1,264.61 594.3,264.04 594.5,262.67 594.7,262.75 594.9,261.34 595.1,260.19 595.3,258.35 595.5,255.81 595.7,253.85 595.9,251.09 596.1,248.21 596.3,246.55 596.5,244.11 596.7,242.04 596.9,239.14 597.1,236.83 597.3,233.32 597.5,229.95 597.7,225.16 597.9,220.56 598.1,214.87 598.3,208.89 598.5,203.08 598.7,196.85 598.9,190.60 599.1,185.13 599.3,179.75 599.5,175.11 599.7,170.53 599.9,168.61 600.1,170.31 600.3,173.07 600.5,176.11 600.7,179.91 600.9,182.67 601.1,186.20 601.3,189.89 601.5,193.21 601.7,196.60 601.9,199.80 602.1,203.65 602.3,205.53 602.5,208.95 602.7,211.42 602.9,214.54 603.1,217.49 603.3,220.08 603.5,221.95 603.7,225.10 603.9,228.48 604.1,231.52 604.3,234.86 604.5,238.81 604.7,242.83 604.9,246.73 605.1,250.55 605.3,253.39 605.5,256.64 605.7,259.55 605.9,263.01 606.1,264.78 606.3,266.48 606.5,267.53 606.7,269.08 606.9,270.28 607.1,271.45 607.3,271.63 607.5,272.40 607.7,272.73 607.9,273.68 608.1,273.40 608.3,274.71 608.5,274.85 608.7,275.30 608.9,275.51 609.1,276.19 609.3,276.70 609.5,277.00 609.7,276.81 609.9,277.20 610.1,277.32 610.3,277.75 610.5,277.63 610.7,277.73 610.9,277.74 611.1,278.36 611.3,278.28 611.5,277.75 611.7,278.37 611.9,278.37 612.1,278.53 612.3,278.87 612.5,278.83 612.7,278.53 612.9,278.84 613.1,278.21 613.3,279.14 613.5,279.28 613.7,278.92 613.9,279.15 614.1,278.52 614.3,278.98 614.5,278.76 614.7,279.26 614.9,278.76 615.1,278.78 615.3,278.64 615.5,278.91 615.7,278.85 615.9,278.95 616.1,278.77 616.3,279.12 616.5,278.89 616.7,279.18 616.9,278.88 617.1,279.13 617.3,279.24 617.5,279.26 617.7,278.73 617.9,279.50 618.1,279.49 618.3,278.97 618.5,279.39 618.7,279.27 618.9,279.28 619.1,278.60 619.3,279.34 619.5,279.37 619.7,279.29 619.9,279.14 620.1,279.09 620.3,279.59 620.5,279.11 620.7,278.74 620.9,279.69 621.1,279.10 621.3,279.06 621.5,279.22 621.7,279.32 621.9,279.86 622.1,278.98 622.3,279.37 622.5,279.34 622.7,278.99 622.9,279.89 623.1,279.32 623.3,279.16 623.5,279.13 623.7,279.17 623.9,278.81 624.1,279.26 624.3,279.08 624.5,279.14 624.7,279.71 624.9,279.53 625.1,278.82 625.3,279.41 625.5,279.36 625.7,279.68 625.9,279.44 626.1,279.68 626.3,279.51 626.5,279.22 626.7,279.57 626.9,279.52 627.1,279.03 627.3,279.25 627.5,279.24 627.7,279.12 627.9,279.50 628.1,279.46 628.3,279.86 628.5,279.14 628.7,279.33 628.9,279.23 629.1,279.43 629.3,278.93 629.5,278.84 629.7,278.86 629.9,279.20 630.1,278.91 630.3,278.59 630.5,278.68 630.7,278.24 630.9,277.94 631.1,278.19 631.3,277.82 631.5,277.65 631.7,276.87 631.9,276.47 632.1,275.50 632.3,274.66 632.5,271.69 632.7,266.66 632.9,260.86 633.1,253.75 633.3,245.49 633.5,234.26 633.7,214.21 633.9,146.44 634.1,101.70"/><polyline class="sp" points="642.9,101.70 642.9,113.55 643.1,178.61 643.3,210.24 643.5,225.89 643.7,237.13 643.9,245.97 644.1,253.98 644.3,261.03 644.5,267.87 644.7,270.98 644.9,272.86 645.1,274.11 645.3,274.90 645.5,275.64 645.7,276.69 645.9,276.52 646.1,277.35 646.3,277.14 646.5,277.65 646.7,277.63 646.9,277.93 647.1,278.33 647.3,278.31 647.5,278.92 647.7,279.04 647.9,278.93 648.1,278.61 648.3,279.23 648.5,279.27 648.7,278.78 648.9,279.24 649.1,279.30 649.3,279.61 649.5,279.37 649.7,279.29 649.9,279.49 650.1,279.33 650.3,279.48 650.5,279.34 650.7,279.43 650.9,279.71 651.1,279.50 651.3,279.30 651.5,279.71 651.7,280.13 651.9,279.81 652.1,279.94 652.3,279.28 652.5,279.77 652.7,280.27 652.9,280.07 653.1,279.69 653.3,280.37 653.5,280.23 653.7,280.13 653.9,280.20 654.1,280.33 654.3,280.18 654.5,280.59 654.7,280.40 654.9,280.43 655.1,280.38 655.3,280.40 655.5,280.34 655.7,280.45 655.9,280.48 656.1,280.30 656.3,280.19 656.5,280.18 656.7,280.73 656.9,280.39 657.1,280.28 657.3,280.54 657.5,280.37 657.7,280.55 657.9,280.41 658.1,280.90 658.3,280.41 658.5,280.65 658.7,280.72 658.9,280.62 659.1,280.30 659.3,280.31 659.5,280.49 659.7,280.34 659.9,280.66 660.1,280.87 660.3,281.02 660.5,280.57 660.7,280.59 660.9,280.55 661.1,280.54 661.3,280.25 661.5,280.79 661.7,280.75 661.9,280.08 662.1,280.37 662.3,280.64 662.5,281.07 662.7,280.77 662.9,280.65 663.1,280.58 663.3,280.52 663.5,280.62 663.7,280.28 663.9,280.86 664.1,280.64 664.3,280.73 664.5,280.37 664.7,280.52 664.9,280.37 665.1,280.55 665.3,279.63 665.5,280.39 665.7,280.75 665.9,280.57 666.1,280.67 666.3,280.38 666.5,280.32 666.7,280.47 666.9,280.61 667.1,280.73 667.3,280.17 667.5,280.29 667.7,281.30 667.9,280.55 668.1,280.78 668.3,280.66 668.5,280.14 668.7,280.85 668.9,280.83 669.1,279.95 669.3,280.69 669.5,280.63 669.7,280.28 669.9,280.69 670.1,280.56 670.3,280.50 670.5,280.21 670.7,280.97 670.9,280.77 671.1,280.60 671.3,280.34 671.5,280.73 671.7,280.45 671.9,280.69 672.1,280.67 672.3,280.25 672.5,280.63 672.7,279.83 672.9,280.48 673.1,280.29 673.3,280.38 673.5,280.96 673.7,280.95 673.9,280.45 674.1,280.85 674.3,280.71 674.5,280.65 674.7,280.80 674.9,280.27 675.1,280.38 675.3,280.53 675.5,280.43 675.7,280.80 675.9,280.35 676.1,280.78 676.3,280.18 676.5,280.74 676.7,280.71 676.9,280.28 677.1,280.41 677.3,280.81 677.5,280.42 677.7,280.57 677.9,280.57 678.1,280.42 678.3,280.42 678.5,280.32 678.7,280.45 678.9,280.49 679.1,280.60 679.3,280.20 679.5,280.77 679.7,280.10 679.9,280.03 680.1,280.03 680.3,280.61 680.5,280.05 680.7,280.29 680.9,280.31 681.1,279.75 681.3,280.53 681.5,280.43 681.7,280.89 681.9,281.13 682.1,280.50 682.3,280.47 682.5,280.40 682.7,280.50 682.9,281.08 683.1,280.48 683.3,280.30 683.5,280.18 683.7,280.82 683.9,280.80 684.1,280.75 684.3,280.74 684.5,280.99 684.7,280.75 684.9,280.18 685.1,280.85 685.3,281.05 685.5,280.65 685.7,280.71 685.9,280.41 686.1,280.77 686.3,280.63 686.5,280.79 686.7,280.83 686.9,280.49 687.1,280.55 687.3,280.60 687.5,280.46 687.7,280.79 687.9,280.58"/>
<polyline class="sp" style="stroke-width:1.0" points="574.5,105.3 576.7,101.4 580.1,104.5 582.1,101.5 584.7,105.3"/>
<path d="M470.1,135V184 M468.3,167V186 M549.0,150V200 M547.6,170V205 M484.6,101.7V140" stroke="#111" stroke-width="1.3" fill="none"/>
<path d="M635.8,167V229 M638.0,180V246 M640.2,101.7V164 M641.7,101.7V200" stroke="#111" stroke-width="1.2" fill="none"/>
<rect x="169.4" y="101.7" width="2.8" height="126" fill="#a8a8a8"/>
<polygon points="29.3,225.5 29.7,200 30.2,168 30.8,164.5 31.8,150 32.0,137.5 32.3,137.5 32.6,152 33.3,164.5 33.8,185 34.4,225.5 32,222.5" fill="#111"/>
<rect x="333.0" y="101.7" width="1.6" height="142" fill="#9a9a9a"/>
<text class="nl" style="font-size:13.0px" transform="translate(37.00,121.33) rotate(-90)">5.32</text><line class="cn" x1="32.50" y1="121.42" x2="32.50" y2="134.00"/>
<text class="nl" style="font-size:13.0px" transform="translate(55.80,261.62) rotate(-90)">5.18</text><line class="cn" x1="51.30" y1="261.73" x2="51.30" y2="275.00"/>
<text class="nl" style="font-size:13.0px" transform="translate(78.80,249.53) rotate(-90)">5.01</text><line class="cn" x1="74.30" y1="249.62" x2="74.30" y2="261.70"/>
<text class="nl" style="font-size:13.0px" transform="translate(116.80,255.45) rotate(-90)">4.73</text><line class="cn" x1="112.30" y1="255.80" x2="112.30" y2="267.70"/>
<text class="nl" style="font-size:13.0px" transform="translate(174.50,85.11) rotate(-90)">4.30</text><line class="cn" x1="170.00" y1="85.46" x2="170.00" y2="96.00"/>
<text class="nl" style="font-size:13.0px" transform="translate(203.50,251.26) rotate(-90)">4.10</text><line class="cn" x1="199.00" y1="251.61" x2="199.00" y2="262.90"/>
<text class="nl" style="font-size:13.0px" transform="translate(216.50,199.97) rotate(-90)">3.99</text><line class="cn" x1="212.00" y1="200.07" x2="212.00" y2="213.40"/>
<text class="nl" style="font-size:13.0px" transform="translate(238.90,225.32) rotate(-90)">3.83</text><line class="cn" x1="234.40" y1="225.42" x2="234.40" y2="238.70"/>
<text class="nl" style="font-size:13.0px" transform="translate(250.30,196.39) rotate(-90)">3.75</text><line class="cn" x1="245.80" y1="196.49" x2="245.80" y2="209.70"/>
<text class="nl" style="font-size:13.0px" transform="translate(270.20,246.59) rotate(-90)">3.55</text><polyline class="cn" points="265.70,246.69 265.70,249.69 272.40,256.69 272.40,262.00"/>
<text class="nl" style="font-size:13.0px" transform="translate(282.90,244.19) rotate(-90)">3.50</text><line class="cn" x1="278.40" y1="244.29" x2="278.40" y2="260.50"/>
<text class="nl" style="font-size:13.0px" transform="translate(297.40,250.25) rotate(-90)">3.44</text><polyline class="cn" points="292.90,250.35 292.90,253.35 287.40,260.35 287.40,265.00"/>
<text class="nl" style="font-size:13.0px" transform="translate(317.20,203.09) rotate(-90)">3.25</text><line class="cn" x1="312.70" y1="203.19" x2="312.70" y2="217.00"/>
<text class="nl" style="font-size:13.0px" transform="translate(338.10,84.59) rotate(-90)">3.10</text><line class="cn" x1="333.60" y1="84.69" x2="333.60" y2="97.80"/>
<text class="nl" style="font-size:13.0px" transform="translate(473.50,84.70) rotate(-90)">2.10</text><line class="cn" x1="469.00" y1="84.67" x2="469.00" y2="95.60"/>
<text class="nl" style="font-size:13.0px" transform="translate(489.60,84.70) rotate(-90)">2.00</text><line class="cn" x1="485.10" y1="84.67" x2="485.10" y2="95.60"/>
<text class="nl" style="font-size:13.0px" transform="translate(528.36,216.18) rotate(-90)">1.72</text><line class="cn" x1="523.80" y1="215.78" x2="523.80" y2="227.40"/>
<text class="nl" style="font-size:13.0px" transform="translate(553.90,119.78) rotate(-90)">1.52</text><line class="cn" x1="549.40" y1="119.38" x2="549.40" y2="133.00"/>
<text class="nl" style="font-size:13.0px" transform="translate(574.30,83.53) rotate(-90)">1.29</text><polyline class="cn" points="569.80,83.12 569.80,86.12 579.70,93.12 579.70,96.00"/>
<text class="nl" style="font-size:13.0px" transform="translate(588.56,83.53) rotate(-90)">1.27</text><polyline class="cn" points="584.00,83.12 584.00,86.12 583.00,93.12 583.00,96.00"/>
<text class="nl" style="font-size:13.0px" transform="translate(604.34,152.24) rotate(-90)">1.15</text><line class="cn" x1="599.90" y1="151.84" x2="599.90" y2="164.60"/>
<text class="nl" style="font-size:13.0px" transform="translate(630.30,84.22) rotate(-90)">0.89</text><polyline class="cn" points="625.80,84.32 625.80,87.32 635.00,94.32 635.00,96.70"/>
<text class="nl" style="font-size:13.0px" transform="translate(645.00,84.29) rotate(-90)">0.85</text><line class="cn" x1="640.50" y1="84.39" x2="640.50" y2="96.70"/>
<text class="pl" style="font-size:26px" x="29.44" y="31.60">a)</text>
<text class="rd" style="font-size:14px" transform="translate(35.51,78.66) rotate(-90)">9, 10</text>
<text class="bk" style="font-size:13.5px" transform="translate(90.12,185.05) rotate(-90)">-O-CH-O-</text>
<text class="hod" style="font-size:13.2px" transform="translate(174.11,48.29) rotate(-90)">HOD</text>
<text class="bk" style="font-size:13.5px" transform="translate(239.77,128.50) rotate(-90)">-CH-</text><text class="bk" style="font-size:13.5px" transform="translate(256.49,130.53) rotate(-90)">-CH<tspan font-size="9.5px" dy="3.00">2</tspan><tspan dy="-3.00">-</tspan></text>
<text class="bl" style="font-size:14px" transform="translate(319.41,161.16) rotate(-90)">1’</text>
<text class="bl" style="font-size:13.5px" transform="translate(336.12,50.01) rotate(-90)">N-CH<tspan font-size="9.5px" dy="3.00">3</tspan></text>
<text class="rd" style="font-size:14px" transform="translate(472.83,35.52) rotate(-90)">2</text>
<text class="rd" style="font-size:14px" transform="translate(488.41,45.79) rotate(-90)">8, 11</text>
<text class="bl" style="font-size:14px" transform="translate(527.88,177.12) rotate(-90)">2’</text>
<text class="rd" style="font-size:14px" transform="translate(553.41,79.31) rotate(-90)">3</text>
<text class="rd" style="font-size:14px" transform="translate(561.10,38.35) rotate(-90)">4-7,</text>
<text class="rd" style="font-size:14px" transform="translate(578.73,45.00) rotate(-90)">12-17</text>
<text class="bl" style="font-size:14px" transform="translate(596.76,39.55) rotate(-90)">3’-7’</text>
<text class="bk" style="font-size:13.5px" transform="translate(604.62,112.25) rotate(-90)">-CH<tspan font-size="9.5px" dy="3.00">3</tspan></text>

<path class="br" d="M43.5,217.0 L43.5,212.5 Q43.5,210.5 45.5,210.5 L126.0,210.5 Q128.0,210.5 128.0,212.5 L128.0,217.0 M85.8,210.5 L85.8,202.5"/>
<path class="br" d="M188.5,162.6 L188.5,157.4 Q188.5,155.4 190.5,155.4 L299.3,155.4 Q301.3,155.4 301.3,157.4 L301.3,162.6 M244.6,155.4 L244.6,148.8"/>
<polyline class="sp" points="9.4,566.53 9.6,566.71 9.8,566.68 10.0,567.19 10.2,566.13 10.4,566.29 10.6,566.66 10.8,566.38 11.0,566.51 11.2,566.72 11.4,566.33 11.6,566.65 11.8,566.66 12.0,566.77 12.2,566.46 12.4,566.60 12.6,566.44 12.8,566.73 13.0,566.54 13.2,566.80 13.4,566.37 13.6,566.53 13.8,566.49 14.0,566.47 14.2,566.83 14.4,566.38 14.6,566.06 14.8,566.98 15.0,567.01 15.2,566.95 15.4,566.36 15.6,566.54 15.8,566.30 16.0,566.39 16.2,566.52 16.4,566.50 16.6,566.61 16.8,566.36 17.0,566.85 17.2,566.68 17.4,566.51 17.6,566.12 17.8,566.76 18.0,566.84 18.2,566.71 18.4,566.33 18.6,566.63 18.8,566.24 19.0,567.04 19.2,566.29 19.4,566.31 19.6,566.92 19.8,566.53 20.0,566.26 20.2,566.55 20.4,566.32 20.6,565.97 20.8,566.50 21.0,566.64 21.2,566.76 21.4,566.41 21.6,566.62 21.8,566.61 22.0,566.59 22.2,566.40 22.4,566.83 22.6,566.95 22.8,567.17 23.0,566.27 23.2,566.55 23.4,566.19 23.6,566.57 23.8,566.75 24.0,566.44 24.2,566.58 24.4,566.88 24.6,566.78 24.8,566.12 25.0,566.47 25.2,566.46 25.4,566.63 25.6,566.73 25.8,566.34 26.0,566.59 26.2,566.75 26.4,566.59 26.6,566.79 26.8,566.51 27.0,566.28 27.2,566.77 27.4,566.20 27.6,566.73 27.8,566.52 28.0,566.77 28.2,566.61 28.4,566.55 28.6,566.67 28.8,566.73 29.0,566.73 29.2,566.76 29.4,566.95 29.6,566.62 29.8,566.45 30.0,566.33 30.2,566.39 30.4,565.94 30.6,566.47 30.8,566.67 31.0,566.08 31.2,566.81 31.4,566.31 31.6,566.79 31.8,566.46 32.0,567.04 32.2,566.32 32.4,566.59 32.6,566.79 32.8,566.13 33.0,566.36 33.2,566.53 33.4,566.73 33.6,566.56 33.8,566.59 34.0,566.36 34.2,566.34 34.4,566.71 34.6,566.68 34.8,566.67 35.0,566.88 35.2,566.69 35.4,566.56 35.6,566.37 35.8,566.21 36.0,566.74 36.2,566.40 36.4,566.65 36.6,566.02 36.8,566.55 37.0,566.41 37.2,566.77 37.4,566.73 37.6,566.48 37.8,566.63 38.0,566.44 38.2,566.92 38.4,566.36 38.6,566.75 38.8,566.09 39.0,566.60 39.2,566.25 39.4,566.87 39.6,566.41 39.8,566.74 40.0,566.64 40.2,566.51 40.4,566.59 40.6,566.45 40.8,566.32 41.0,566.35 41.2,566.53 41.4,566.85 41.6,566.70 41.8,566.55 42.0,567.03 42.2,566.31 42.4,566.55 42.6,566.55 42.8,566.25 43.0,566.32 43.2,566.43 43.4,566.73 43.6,566.40 43.8,566.38 44.0,566.69 44.2,566.20 44.4,566.33 44.6,566.94 44.8,566.41 45.0,566.75 45.2,566.15 45.4,566.22 45.6,566.69 45.8,566.62 46.0,566.36 46.2,566.43 46.4,565.98 46.6,566.15 46.8,566.38 47.0,566.12 47.2,566.73 47.4,566.07 47.6,565.85 47.8,566.00 48.0,565.99 48.2,565.49 48.4,564.92 48.6,565.08 48.8,565.10 49.0,564.10 49.2,564.53 49.4,563.50 49.6,563.33 49.8,562.51 50.0,562.55 50.2,561.66 50.4,561.67 50.6,562.04 50.8,562.10 51.0,561.82 51.2,561.66 51.4,562.30 51.6,562.72 51.8,563.23 52.0,563.43 52.2,563.95 52.4,564.37 52.6,565.05 52.8,564.82 53.0,565.04 53.2,565.93 53.4,565.21 53.6,565.74 53.8,566.16 54.0,566.59 54.2,566.02 54.4,566.09 54.6,566.41 54.8,566.74 55.0,566.03 55.2,566.47 55.4,566.46 55.6,565.64 55.8,565.82 56.0,566.12 56.2,566.48 56.4,566.21 56.6,566.95 56.8,566.35 57.0,566.57 57.2,566.71 57.4,566.78 57.6,566.26 57.8,566.37 58.0,566.35 58.2,566.18 58.4,566.60 58.6,566.70 58.8,566.83 59.0,566.47 59.2,566.20 59.4,566.42 59.6,566.22 59.8,566.68 60.0,566.50 60.2,566.57 60.4,566.69 60.6,565.91 60.8,566.16 61.0,566.56 61.2,566.55 61.4,566.37 61.6,566.71 61.8,566.24 62.0,566.67 62.2,566.43 62.4,566.59 62.6,566.45 62.8,566.65 63.0,566.71 63.2,566.55 63.4,566.47 63.6,566.36 63.8,566.26 64.0,565.89 64.2,566.06 64.4,566.31 64.6,566.06 64.8,566.40 65.0,565.85 65.2,566.06 65.4,566.52 65.6,565.98 65.8,565.94 66.0,566.80 66.2,566.29 66.4,566.20 66.6,566.54 66.8,566.30 67.0,566.24 67.2,565.84 67.4,565.86 67.6,565.24 67.8,565.95 68.0,565.52 68.2,565.73 68.4,565.63 68.6,565.92 68.8,566.03 69.0,565.66 69.2,565.18 69.4,564.86 69.6,564.96 69.8,564.81 70.0,564.92 70.2,564.02 70.4,563.67 70.6,563.60 70.8,562.76 71.0,562.05 71.2,560.20 71.4,558.89 71.6,557.08 71.8,554.62 72.0,551.91 72.2,549.10 72.4,546.08 72.6,542.83 72.8,539.89 73.0,536.79 73.2,534.63 73.4,535.01 73.6,535.15 73.8,536.80 74.0,539.69 74.2,542.45 74.4,546.04 74.6,548.69 74.8,552.15 75.0,554.68 75.2,556.87 75.4,559.09 75.6,561.00 75.8,561.91 76.0,562.54 76.2,563.47 76.4,563.92 76.6,564.65 76.8,564.64 77.0,564.73 77.2,565.08 77.4,564.75 77.6,565.39 77.8,565.70 78.0,565.93 78.2,565.31 78.4,565.67 78.6,565.46 78.8,565.65 79.0,565.40 79.2,565.53 79.4,565.98 79.6,565.85 79.8,565.68 80.0,566.29 80.2,565.64 80.4,565.72 80.6,565.80 80.8,566.12 81.0,566.01 81.2,566.38 81.4,566.10 81.6,566.28 81.8,566.12 82.0,566.28 82.2,566.09 82.4,565.88 82.6,566.51 82.8,565.96 83.0,566.70 83.2,566.75 83.4,566.24 83.6,566.22 83.8,566.12 84.0,566.64 84.2,566.25 84.4,566.21 84.6,565.93 84.8,566.27 85.0,566.12 85.2,566.50 85.4,566.30 85.6,566.37 85.8,566.09 86.0,566.51 86.2,566.47 86.4,566.12 86.6,565.82 86.8,566.17 87.0,566.19 87.2,566.35 87.4,566.00 87.6,566.13 87.8,565.83 88.0,566.18 88.2,566.50 88.4,566.41 88.6,566.51 88.8,566.58 89.0,565.95 89.2,566.06 89.4,566.57 89.6,565.81 89.8,566.19 90.0,566.49 90.2,566.15 90.4,566.26 90.6,566.44 90.8,566.73 91.0,566.23 91.2,566.16 91.4,566.88 91.6,566.09 91.8,566.07 92.0,566.34 92.2,566.19 92.4,566.28 92.6,566.42 92.8,566.29 93.0,565.86 93.2,566.55 93.4,566.13 93.6,566.13 93.8,566.35 94.0,566.28 94.2,566.51 94.4,566.37 94.6,566.14 94.8,566.06 95.0,566.35 95.2,565.36 95.4,566.26 95.6,566.07 95.8,566.15 96.0,566.19 96.2,565.75 96.4,566.19 96.6,565.72 96.8,565.76 97.0,566.29 97.2,565.76 97.4,566.17 97.6,565.31 97.8,566.08 98.0,566.20 98.2,566.43 98.4,566.26 98.6,566.06 98.8,566.15 99.0,566.19 99.2,566.03 99.4,565.89 99.6,565.45 99.8,566.21 100.0,565.90 100.2,565.97 100.4,566.08 100.6,565.99 100.8,565.86 101.0,565.42 101.2,565.60 101.4,565.64 101.6,565.30 101.8,565.33 102.0,565.39 102.2,565.17 102.4,565.40 102.6,564.96 102.8,564.91 103.0,565.03 103.2,565.12 103.4,564.32 103.6,564.54 103.8,563.66 104.0,564.43 104.2,563.88 104.4,564.01 104.6,563.63 104.8,563.27 105.0,563.43 105.2,563.00 105.4,562.65 105.6,562.36 105.8,561.91 106.0,561.45 106.2,561.13 106.4,560.88 106.6,560.61 106.8,560.36 107.0,559.80 107.2,559.26 107.4,558.45 107.6,558.19 107.8,557.86 108.0,556.83 108.2,556.62 108.4,556.02 108.6,555.29 108.8,554.52 109.0,554.64 109.2,553.72 109.4,552.81 109.6,552.37 109.8,551.94 110.0,551.33 110.2,550.35 110.4,550.35 110.6,549.64 110.8,549.25 111.0,549.25 111.2,548.78 111.4,548.83 111.6,548.76 111.8,548.85 112.0,548.39 112.2,548.81 112.4,549.03 112.6,549.42 112.8,549.00 113.0,549.63 113.2,550.26 113.4,550.87 113.6,551.57 113.8,551.65 114.0,552.21 114.2,553.20 114.4,553.15 114.6,553.84 114.8,554.88 115.0,555.37 115.2,555.94 115.4,556.38 115.6,557.03 115.8,557.96 116.0,557.73 116.2,558.54 116.4,558.82 116.6,559.30 116.8,560.13 117.0,560.44 117.2,560.76 117.4,561.14 117.6,561.75 117.8,562.21 118.0,562.37 118.2,562.89 118.4,563.11 118.6,563.74 118.8,563.45 119.0,563.95 119.2,564.04 119.4,564.11 119.6,564.19 119.8,563.95 120.0,564.52 120.2,565.05 120.4,564.78 120.6,565.08 120.8,564.93 121.0,565.29 121.2,565.37 121.4,565.40 121.6,565.49 121.8,565.86 122.0,565.62 122.2,565.51 122.4,565.25 122.6,565.67 122.8,565.73 123.0,565.53 123.2,565.57 123.4,565.34 123.6,565.62 123.8,565.80 124.0,565.48 124.2,565.46 124.4,565.98 124.6,565.84 124.8,566.32 125.0,566.01 125.2,566.16 125.4,566.01 125.6,566.09 125.8,566.03 126.0,566.02 126.2,565.89 126.4,565.97 126.6,566.18 126.8,566.37 127.0,565.75 127.2,565.72 127.4,566.20 127.6,565.95 127.8,566.48 128.0,566.50 128.2,566.19 128.4,565.76 128.6,566.40 128.8,566.36 129.0,565.75 129.2,566.64 129.4,566.01 129.6,566.06 129.8,566.24 130.0,566.14 130.2,565.54 130.4,566.49 130.6,566.29 130.8,566.28 131.0,566.39 131.2,566.56 131.4,565.83 131.6,566.18 131.8,566.68 132.0,566.42 132.2,566.15 132.4,566.16 132.6,566.62 132.8,566.29 133.0,566.20 133.2,566.18 133.4,566.18 133.6,566.74 133.8,565.82 134.0,566.24 134.2,565.84 134.4,565.58 134.6,566.34 134.8,566.61 135.0,566.09 135.2,566.35 135.4,566.42 135.6,566.57 135.8,565.89 136.0,566.43 136.2,566.67 136.4,566.43 136.6,566.61 136.8,566.29 137.0,566.43 137.2,566.60 137.4,566.18 137.6,566.50 137.8,566.16 138.0,566.02 138.2,566.43 138.4,566.50 138.6,566.29 138.8,566.12 139.0,566.35 139.2,566.31 139.4,566.36 139.6,566.27 139.8,566.20 140.0,566.53 140.2,566.48 140.4,566.34 140.6,566.52 140.8,566.32 141.0,566.22 141.2,566.37 141.4,566.51 141.6,566.56 141.8,565.92 142.0,566.14 142.2,566.64 142.4,566.57 142.6,565.90 142.8,565.99 143.0,566.33 143.2,566.08 143.4,566.74 143.6,566.37 143.8,566.18 144.0,566.83 144.2,566.56 144.4,566.17 144.6,566.08 144.8,566.51 145.0,566.29 145.2,565.97 145.4,566.46 145.6,566.70 145.8,566.38 146.0,566.46 146.2,566.04 146.4,566.32 146.6,566.56 146.8,565.76 147.0,566.49 147.2,566.24 147.4,566.19 147.6,566.16 147.8,566.31 148.0,566.21 148.2,566.37 148.4,566.71 148.6,566.41 148.8,566.40 149.0,566.39 149.2,566.31 149.4,566.50 149.6,566.01 149.8,565.95 150.0,566.89 150.2,566.34 150.4,566.51 150.6,566.99 150.8,566.23 151.0,566.48 151.2,566.42 151.4,566.49 151.6,566.05 151.8,566.01 152.0,566.24 152.2,566.13 152.4,566.33 152.6,566.26 152.8,566.48 153.0,566.28 153.2,566.46 153.4,566.18 153.6,566.06 153.8,566.17 154.0,565.94 154.2,565.55 154.4,566.72 154.6,566.16 154.8,566.26 155.0,566.14 155.2,566.10 155.4,564.48 155.6,560.82 155.8,557.71 156.0,560.82 156.2,564.63 156.4,566.34 156.6,565.76 156.8,566.23 157.0,566.66 157.2,567.32 157.4,569.32 157.6,569.70 157.8,567.17 158.0,566.83 158.2,566.22 158.4,566.06 158.6,565.70 158.8,565.69 159.0,565.90 159.2,566.06 159.4,565.89 159.6,565.39 159.8,565.01 160.0,564.90 160.2,563.41 160.4,555.66 160.6,542.69 160.8,542.68 161.0,555.94 161.2,563.06 161.4,565.14 161.6,566.51 161.8,568.72 162.0,568.91 162.2,567.31 162.4,565.69 162.6,564.12 162.8,560.16 163.0,547.98 163.2,538.56 163.4,548.47 163.6,559.74 163.8,563.70 164.0,565.47 164.2,567.59 164.4,569.84 164.6,567.83 164.8,564.91 165.0,564.39 165.2,561.97 165.4,555.30 165.6,543.18 165.8,542.93 166.0,554.68 166.2,561.61 166.4,562.57 166.6,562.43 166.8,561.72 167.0,561.69 167.2,560.76 167.4,559.32 167.6,556.42 167.8,552.32 168.0,543.20 168.2,526.49 168.4,501.07 168.6,463.20 168.8,417.27 169.0,385.30"/><polyline class="sp" points="170.0,385.30 170.0,414.95 170.2,460.69 170.4,496.93 170.6,521.74 170.8,535.26 171.0,539.29 171.2,535.77 171.4,521.57 171.6,497.44 171.8,461.32 172.0,416.25 172.2,385.30"/><polyline class="sp" points="173.2,385.30 173.2,406.81 173.4,446.96 173.6,477.58 173.8,497.68 174.0,509.22 174.2,516.87 174.4,523.02 174.6,530.37 174.8,536.93 175.0,544.17 175.2,544.99 175.4,545.05 175.6,545.81 175.8,545.22 176.0,545.80 176.2,546.64 176.4,547.07 176.6,546.95 176.8,546.95 177.0,547.44 177.2,548.42 177.4,549.25 177.6,550.27 177.8,551.21 178.0,552.75 178.2,553.78 178.4,554.21 178.6,554.73 178.8,554.74 179.0,554.78 179.2,555.16 179.4,554.55 179.6,554.51 179.8,554.30 180.0,554.77 180.2,554.61 180.4,554.11 180.6,554.23 180.8,553.95 181.0,554.52 181.2,554.42 181.4,555.05 181.6,555.39 181.8,556.29 182.0,556.80 182.2,557.43 182.4,558.23 182.6,559.43 182.8,559.14 183.0,559.42 183.2,559.74 183.4,559.51 183.6,558.99 183.8,558.48 184.0,558.31 184.2,558.14 184.4,557.20 184.6,556.78 184.8,555.80 185.0,556.40 185.2,555.20 185.4,555.26 185.6,555.63 185.8,555.44 186.0,556.09 186.2,556.23 186.4,557.08 186.6,557.35 186.8,558.11 187.0,558.72 187.2,558.85 187.4,559.34 187.6,559.34 187.8,559.37 188.0,559.81 188.2,559.73 188.4,559.64 188.6,560.00 188.8,559.37 189.0,559.27 189.2,559.10 189.4,559.15 189.6,559.16 189.8,558.50 190.0,558.13 190.2,557.64 190.4,557.41 190.6,557.01 190.8,556.94 191.0,556.36 191.2,556.30 191.4,555.66 191.6,555.14 191.8,554.23 192.0,554.36 192.2,554.24 192.4,553.07 192.6,553.10 192.8,552.39 193.0,551.93 193.2,551.51 193.4,550.27 193.6,549.70 193.8,549.18 194.0,548.14 194.2,547.35 194.4,546.16 194.6,545.47 194.8,544.63 195.0,543.70 195.2,542.78 195.4,541.79 195.6,541.35 195.8,540.49 196.0,539.80 196.2,538.89 196.4,538.96 196.6,539.76 196.8,539.14 197.0,539.30 197.2,539.46 197.4,539.61 197.6,540.38 197.8,541.77 198.0,541.80 198.2,542.54 198.4,543.14 198.6,543.54 198.8,544.71 199.0,544.63 199.2,545.73 199.4,545.70 199.6,546.01 199.8,545.92 200.0,547.04 200.2,547.65 200.4,547.41 200.6,548.09 200.8,547.86 201.0,548.74 201.2,549.09 201.4,548.85 201.6,549.41 201.8,549.43 202.0,550.28 202.2,549.74 202.4,550.54 202.6,550.42 202.8,551.12 203.0,551.49 203.2,551.40 203.4,551.52 203.6,551.39 203.8,551.91 204.0,552.02 204.2,552.23 204.4,551.80 204.6,552.94 204.8,552.57 205.0,553.05 205.2,553.06 205.4,553.35 205.6,552.99 205.8,553.64 206.0,553.67 206.2,553.33 206.4,553.41 206.6,552.68 206.8,552.27 207.0,552.25 207.2,551.35 207.4,551.14 207.6,550.35 207.8,549.66 208.0,548.47 208.2,548.04 208.4,547.04 208.6,545.48 208.8,543.08 209.0,541.61 209.2,538.82 209.4,535.81 209.6,531.84 209.8,525.52 210.0,518.37 210.2,511.20 210.4,503.91 210.6,495.77 210.8,486.44 211.0,475.85 211.2,466.68 211.4,458.27 211.6,452.04 211.8,446.35 212.0,441.83 212.2,440.08 212.4,441.70 212.6,445.62 212.8,450.20 213.0,455.30 213.2,460.59 213.4,466.93 213.6,473.45 213.8,479.68 214.0,485.22 214.2,488.87 214.4,492.38 214.6,495.88 214.8,499.25 215.0,502.03 215.2,503.66 215.4,505.77 215.6,507.90 215.8,510.04 216.0,511.08 216.2,512.65 216.4,514.34 216.6,515.65 216.8,517.37 217.0,518.00 217.2,519.87 217.4,520.52 217.6,521.64 217.8,522.80 218.0,523.27 218.2,524.39 218.4,524.58 218.6,524.67 218.8,524.73 219.0,524.70 219.2,523.97 219.4,523.77 219.6,523.46 219.8,522.94 220.0,522.32 220.2,521.23 220.4,521.24 220.6,520.83 220.8,520.60 221.0,520.28 221.2,520.14 221.4,519.32 221.6,519.10 221.8,519.11 222.0,518.97 222.2,518.43 222.4,518.23 222.6,518.17 222.8,517.46 223.0,517.17 223.2,516.89 223.4,516.35 223.6,516.40 223.8,515.63 224.0,516.02 224.2,515.50 224.4,515.42 224.6,515.73 224.8,515.81 225.0,516.57 225.2,517.06 225.4,517.21 225.6,517.82 225.8,517.95 226.0,518.48 226.2,518.63 226.4,518.88 226.6,518.91 226.8,518.82 227.0,518.71 227.2,518.45 227.4,517.49 227.6,518.08 227.8,517.34 228.0,516.72 228.2,516.61 228.4,516.19 228.6,516.34 228.8,516.85 229.0,516.78 229.2,517.30 229.4,517.00 229.6,517.23 229.8,518.06 230.0,518.16 230.2,518.71 230.4,519.24 230.6,519.19 230.8,519.67 231.0,519.62 231.2,519.63 231.4,519.70 231.6,519.74 231.8,520.32 232.0,520.32 232.2,520.40 232.4,520.46 232.6,521.38 232.8,520.88 233.0,519.76 233.2,518.30 233.4,515.14 233.6,511.65 233.8,508.82 234.0,505.03 234.2,500.75 234.4,495.71 234.6,491.79 234.8,489.50 235.0,491.74 235.2,495.56 235.4,499.21 235.6,500.24 235.8,500.19 236.0,500.49 236.2,500.67 236.4,501.64 236.6,502.80 236.8,504.42 237.0,506.47 237.2,508.00 237.4,509.38 237.6,510.63 237.8,511.59 238.0,513.38 238.2,513.61 238.4,515.10 238.6,515.29 238.8,516.03 239.0,516.60 239.2,516.15 239.4,515.80 239.6,514.99 239.8,513.92 240.0,513.05 240.2,511.70 240.4,510.14 240.6,508.76 240.8,506.80 241.0,504.95 241.2,502.90 241.4,500.30 241.6,497.36 241.8,493.59 242.0,490.54 242.2,486.16 242.4,482.07 242.6,477.67 242.8,473.70 243.0,469.81 243.2,466.04 243.4,461.51 243.6,457.54 243.8,452.84 244.0,449.15 244.2,444.32 244.4,441.02 244.6,438.82 244.8,436.13 245.0,433.95 245.2,432.00 245.4,430.89 245.6,431.84 245.8,434.49 246.0,437.54 246.2,441.37 246.4,444.90 246.6,449.36 246.8,455.44 247.0,462.00 247.2,468.92 247.4,476.03 247.6,481.21 247.8,485.64 248.0,488.12 248.2,490.95 248.4,492.22 248.6,494.27 248.8,495.56 249.0,496.71 249.2,498.65 249.4,499.81 249.6,500.39 249.8,502.10 250.0,503.26 250.2,504.07 250.4,505.43 250.6,506.28 250.8,507.46 251.0,508.57 251.2,509.33 251.4,510.01 251.6,511.57 251.8,512.16 252.0,513.23 252.2,514.49 252.4,515.41 252.6,516.77 252.8,517.69 253.0,518.47 253.2,519.54 253.4,520.19 253.6,521.82 253.8,522.54 254.0,523.59 254.2,524.41 254.4,525.02 254.6,526.53 254.8,526.92 255.0,528.16 255.2,529.01 255.4,529.67 255.6,531.02 255.8,531.84 256.0,533.04 256.2,534.17 256.4,535.25 256.6,536.57 256.8,537.24 257.0,537.84 257.2,538.55 257.4,539.56 257.6,539.38 257.8,539.77 258.0,540.34 258.2,540.27 258.4,539.86 258.6,540.40 258.8,540.11 259.0,539.90 259.2,539.87 259.4,539.79 259.6,539.62 259.8,539.86 260.0,539.72 260.2,539.02 260.4,539.82 260.6,539.52 260.8,539.32 261.0,539.45 261.2,538.94 261.4,539.18 261.6,538.97 261.8,539.79 262.0,538.82 262.2,538.82 262.4,539.36 262.6,539.00 262.8,539.50 263.0,539.63 263.2,539.74 263.4,540.53 263.6,541.17 263.8,541.26 264.0,541.88 264.2,542.00 264.4,542.15 264.6,542.22 264.8,541.81 265.0,541.95 265.2,542.44 265.4,541.99 265.6,542.74 265.8,542.52 266.0,542.43 266.2,542.13 266.4,542.27 266.6,542.36 266.8,542.17 267.0,542.32 267.2,542.16 267.4,542.66 267.6,542.77 267.8,542.26 268.0,541.70 268.2,541.55 268.4,541.05 268.6,540.72 268.8,540.37 269.0,539.87 269.2,539.83 269.4,538.94 269.6,539.05 269.8,538.41 270.0,538.36 270.2,537.46 270.4,537.49 270.6,536.21 270.8,536.33 271.0,535.36 271.2,534.91 271.4,534.59 271.6,533.63 271.8,533.71 272.0,533.01 272.2,533.56 272.4,533.53 272.6,533.89 272.8,533.35 273.0,533.36 273.2,533.65 273.4,533.86 273.6,534.14 273.8,533.39 274.0,533.82 274.2,534.18 274.4,533.05 274.6,532.57 274.8,530.31 275.0,529.00 275.2,528.07 275.4,527.70 275.6,527.55 275.8,528.17 276.0,528.78 276.2,530.58 276.4,532.10 276.6,533.66 276.8,534.66 277.0,534.78 277.2,533.76 277.4,532.02 277.6,529.08 277.8,526.04 278.0,522.86 278.2,520.21 278.4,518.19 278.6,518.35 278.8,519.72 279.0,522.53 279.2,526.12 279.4,529.98 279.6,533.27 279.8,536.45 280.0,537.50 280.2,539.16 280.4,540.47 280.6,540.93 280.8,542.45 281.0,542.98 281.2,543.75 281.4,544.00 281.6,544.37 281.8,544.29 282.0,544.18 282.2,544.97 282.4,545.31 282.6,544.49 282.8,544.85 283.0,544.73 283.2,545.05 283.4,544.61 283.6,544.49 283.8,544.90 284.0,543.78 284.2,543.21 284.4,542.37 284.6,540.82 284.8,539.29 285.0,538.45 285.2,537.12 285.4,535.26 285.6,534.39 285.8,532.82 286.0,531.66 286.2,530.20 286.4,529.19 286.6,529.29 286.8,530.84 287.0,532.85 287.2,535.69 287.4,537.95 287.6,538.46 287.8,538.61 288.0,538.54 288.2,539.24 288.4,539.35 288.6,539.45 288.8,539.87 289.0,540.22 289.2,540.53 289.4,540.82 289.6,541.66 289.8,542.67 290.0,543.40 290.2,544.80 290.4,545.24 290.6,546.35 290.8,547.51 291.0,549.05 291.2,549.15 291.4,551.38 291.6,551.81 291.8,552.62 292.0,552.95 292.2,554.12 292.4,554.16 292.6,554.65 292.8,555.06 293.0,555.13 293.2,555.32 293.4,555.90 293.6,556.37 293.8,557.16 294.0,556.48 294.2,557.18 294.4,557.82 294.6,557.55 294.8,557.45 295.0,558.06 295.2,558.53 295.4,557.87 295.6,558.48 295.8,558.74 296.0,558.76 296.2,559.75 296.4,559.41 296.6,559.62 296.8,559.18 297.0,560.07 297.2,560.24 297.4,560.63 297.6,560.65 297.8,560.66 298.0,560.70 298.2,560.98 298.4,560.58 298.6,561.12 298.8,561.23 299.0,561.19 299.2,561.52 299.4,561.95 299.6,562.35 299.8,562.00 300.0,562.43 300.2,562.02 300.4,562.67 300.6,563.16 300.8,562.70 301.0,562.55 301.2,562.99 301.4,562.99 301.6,563.10 301.8,562.80 302.0,563.26 302.2,563.44 302.4,563.67 302.6,564.02 302.8,563.33 303.0,563.48 303.2,564.09 303.4,563.78 303.6,563.93 303.8,564.19 304.0,564.25 304.2,564.06 304.4,564.63 304.6,564.54 304.8,564.50 305.0,564.55 305.2,564.68 305.4,564.64 305.6,564.63 305.8,565.06 306.0,564.87 306.2,565.09 306.4,564.64 306.6,565.44 306.8,565.20 307.0,565.02 307.2,565.33 307.4,565.39 307.6,565.50 307.8,565.33 308.0,565.75 308.2,565.52 308.4,565.57 308.6,565.96 308.8,565.56 309.0,565.78 309.2,565.62 309.4,565.51 309.6,565.67 309.8,566.09 310.0,565.73 310.2,566.24 310.4,566.05 310.6,565.46 310.8,565.90 311.0,565.53 311.2,565.99 311.4,565.97 311.6,566.27 311.8,565.77 312.0,566.08 312.2,565.89 312.4,565.96 312.6,565.96 312.8,566.03 313.0,566.14 313.2,566.15 313.4,566.34 313.6,566.72 313.8,566.08 314.0,565.69 314.2,565.96 314.4,565.66 314.6,566.15 314.8,566.53 315.0,566.55 315.2,566.12 315.4,566.24 315.6,566.38 315.8,566.17 316.0,566.59 316.2,566.25 316.4,566.46 316.6,566.36 316.8,566.11 317.0,566.46 317.2,566.08 317.4,566.10 317.6,566.64 317.8,565.87 318.0,566.78 318.2,566.49 318.4,566.29 318.6,567.06 318.8,566.22 319.0,566.20 319.2,566.52 319.4,566.42 319.6,566.44 319.8,566.55 320.0,566.22 320.2,566.59 320.4,566.51 320.6,566.40 320.8,566.28 321.0,566.22 321.2,566.87 321.4,567.01 321.6,566.53 321.8,566.51 322.0,566.77 322.2,566.42 322.4,566.34 322.6,566.40 322.8,566.08 323.0,566.76 323.2,566.49 323.4,566.01 323.6,566.32 323.8,566.78 324.0,566.44 324.2,566.20 324.4,565.97 324.6,566.33 324.8,566.20 325.0,566.78 325.2,566.56 325.4,566.19 325.6,566.74 325.8,566.51 326.0,566.97 326.2,566.12 326.4,566.53 326.6,566.35 326.8,566.88 327.0,566.83 327.2,566.04 327.4,566.58 327.6,566.63 327.8,566.37 328.0,566.36 328.2,566.99 328.4,566.74 328.6,566.48 328.8,566.50 329.0,566.41 329.2,566.61 329.4,566.57 329.6,566.44 329.8,566.67 330.0,566.71 330.2,566.64 330.4,566.49 330.6,566.53 330.8,566.62 331.0,566.56 331.2,566.51 331.4,566.42 331.6,566.40 331.8,566.82 332.0,566.25 332.2,566.90 332.4,566.36 332.6,566.68 332.8,566.35 333.0,566.23 333.2,566.97 333.4,566.35 333.6,566.43 333.8,566.61 334.0,566.40 334.2,566.62 334.4,566.47 334.6,566.76 334.8,566.30 335.0,566.35 335.2,566.31 335.4,566.66 335.6,566.03 335.8,566.00 336.0,566.52 336.2,566.60 336.4,566.60 336.6,566.32 336.8,566.24 337.0,566.69 337.2,567.01 337.4,566.38 337.6,566.51 337.8,566.45 338.0,566.37 338.2,566.78 338.4,566.48 338.6,566.57 338.8,566.40 339.0,566.19 339.2,566.50 339.4,566.72 339.6,566.19 339.8,566.32 340.0,566.55 340.2,566.95 340.4,566.72 340.6,566.46 340.8,566.36 341.0,566.63 341.2,566.39 341.4,566.66 341.6,566.61 341.8,566.37 342.0,566.57 342.2,566.47 342.4,566.28 342.6,566.22 342.8,566.65 343.0,566.57 343.2,566.84 343.4,566.83 343.6,566.43 343.8,566.64 344.0,566.97 344.2,566.37 344.4,566.72 344.6,566.58 344.8,566.40 345.0,566.41 345.2,566.52 345.4,567.01 345.6,566.36 345.8,566.65 346.0,566.86 346.2,567.06 346.4,566.17 346.6,566.47 346.8,566.48 347.0,566.35 347.2,566.52 347.4,566.88 347.6,566.33 347.8,566.25 348.0,566.37 348.2,566.12 348.4,566.03 348.6,566.70 348.8,566.61 349.0,566.28 349.2,566.46 349.4,566.45 349.6,566.27 349.8,566.32 350.0,566.61 350.2,566.47 350.4,566.68 350.6,566.55 350.8,566.78 351.0,566.99 351.2,566.63 351.4,566.65 351.6,566.28 351.8,566.11 352.0,566.49 352.2,566.38 352.4,566.66 352.6,566.73 352.8,566.57 353.0,566.57 353.2,566.42 353.4,566.47 353.6,566.08 353.8,566.55 354.0,566.91 354.2,566.47 354.4,566.66 354.6,566.45 354.8,566.22 355.0,566.66 355.2,566.52 355.4,566.37 355.6,566.73 355.8,566.44 356.0,566.36 356.2,566.29 356.4,566.22 356.6,566.36 356.8,566.40 357.0,566.84 357.2,567.16 357.4,566.74 357.6,566.14 357.8,566.46 358.0,567.06 358.2,566.60 358.4,566.40 358.6,566.96 358.8,566.35 359.0,566.78 359.2,566.23 359.4,566.48 359.6,565.72 359.8,566.82 360.0,566.42 360.2,566.86 360.4,566.20 360.6,566.46 360.8,566.26 361.0,566.46 361.2,566.78 361.4,566.65 361.6,566.80 361.8,566.75 362.0,566.45 362.2,566.22 362.4,566.27 362.6,566.36 362.8,566.63 363.0,566.36 363.2,566.70 363.4,566.44 363.6,566.28 363.8,566.53 364.0,566.60 364.2,566.60 364.4,566.33 364.6,566.56 364.8,566.84 365.0,566.59 365.2,566.75 365.4,566.11 365.6,566.48 365.8,566.85 366.0,566.42 366.2,566.31 366.4,566.39 366.6,566.58 366.8,566.45 367.0,566.42 367.2,566.24 367.4,566.40 367.6,565.92 367.8,566.54 368.0,566.11 368.2,566.48 368.4,566.91 368.6,566.78 368.8,566.94 369.0,566.91 369.2,566.19 369.4,566.65 369.6,566.34 369.8,566.71 370.0,566.49 370.2,566.75 370.4,566.27 370.6,566.55 370.8,566.60 371.0,566.53 371.2,565.94 371.4,566.37 371.6,566.28 371.8,566.79 372.0,566.65 372.2,566.41 372.4,566.95 372.6,566.15 372.8,566.42 373.0,566.49 373.2,566.53 373.4,566.54 373.6,566.61 373.8,566.14 374.0,566.31 374.2,566.17 374.4,566.56 374.6,566.70 374.8,566.15 375.0,566.79 375.2,566.64 375.4,566.31 375.6,566.21 375.8,566.81 376.0,566.55 376.2,566.48 376.4,566.52 376.6,566.70 376.8,566.32 377.0,566.61 377.2,566.54 377.4,567.04 377.6,566.51 377.8,566.97 378.0,566.31 378.2,566.36 378.4,566.61 378.6,566.44 378.8,566.46 379.0,566.52 379.2,566.39 379.4,566.51 379.6,566.60 379.8,566.68 380.0,566.07 380.2,566.43 380.4,566.49 380.6,566.30 380.8,566.58 381.0,566.58 381.2,566.32 381.4,566.23 381.6,566.32 381.8,566.85 382.0,566.47 382.2,566.49 382.4,566.37 382.6,566.70 382.8,566.74 383.0,566.51 383.2,566.70 383.4,566.75 383.6,566.50 383.8,566.25 384.0,566.45 384.2,566.20 384.4,566.73 384.6,566.31 384.8,566.48 385.0,566.70 385.2,566.59 385.4,566.69 385.6,566.53 385.8,566.67 386.0,566.17 386.2,566.57 386.4,566.83 386.6,566.53 386.8,566.39 387.0,566.56 387.2,566.27 387.4,566.71 387.6,566.69 387.8,566.08 388.0,566.48 388.2,566.35 388.4,566.36 388.6,566.34 388.8,566.47 389.0,566.53 389.2,566.21 389.4,566.60 389.6,566.45 389.8,566.31 390.0,566.58 390.2,566.86 390.4,566.37 390.6,566.21 390.8,566.42 391.0,566.89 391.2,566.32 391.4,565.99 391.6,566.86 391.8,567.15 392.0,566.54 392.2,566.46 392.4,566.29 392.6,566.28 392.8,566.45 393.0,566.34 393.2,566.39 393.4,566.45 393.6,566.49 393.8,566.51 394.0,566.30 394.2,566.38 394.4,566.58 394.6,566.21 394.8,566.65 395.0,566.53 395.2,566.44 395.4,566.94 395.6,566.57 395.8,566.27 396.0,566.28 396.2,566.77 396.4,566.68 396.6,566.74 396.8,566.53 397.0,566.49 397.2,566.86 397.4,566.40 397.6,566.46 397.8,566.49 398.0,566.64 398.2,566.52 398.4,566.91 398.6,566.42 398.8,566.42 399.0,566.50 399.2,566.76 399.4,566.16 399.6,566.20 399.8,566.93 400.0,566.37 400.2,566.44 400.4,567.10 400.6,566.35 400.8,566.32 401.0,566.30 401.2,566.43 401.4,566.63 401.6,566.60 401.8,566.35 402.0,566.19 402.2,566.59 402.4,566.54 402.6,566.30 402.8,567.00 403.0,566.36 403.2,566.53 403.4,567.01 403.6,566.28 403.8,566.69 404.0,566.28 404.2,566.14 404.4,566.77 404.6,566.76 404.8,566.47 405.0,566.90 405.2,566.29 405.4,566.43 405.6,566.23 405.8,566.92 406.0,566.42 406.2,566.36 406.4,566.91 406.6,566.25 406.8,566.80 407.0,566.42 407.2,566.79 407.4,566.28 407.6,566.05 407.8,566.45 408.0,566.46 408.2,566.15 408.4,566.57 408.6,566.45 408.8,566.26 409.0,566.36 409.2,566.08 409.4,566.17 409.6,565.99 409.8,566.46 410.0,566.18 410.2,566.66 410.4,566.23 410.6,566.03 410.8,565.88 411.0,566.76 411.2,566.49 411.4,566.28 411.6,566.66 411.8,566.31 412.0,566.32 412.2,566.57 412.4,566.58 412.6,566.67 412.8,566.37 413.0,566.14 413.2,566.38 413.4,565.77 413.6,566.81 413.8,566.59 414.0,566.28 414.2,566.72 414.4,566.36 414.6,566.25 414.8,566.40 415.0,566.50 415.2,566.22 415.4,566.34 415.6,566.27 415.8,566.31 416.0,566.61 416.2,566.71 416.4,566.54 416.6,566.40 416.8,566.49 417.0,566.21 417.2,566.38 417.4,566.21 417.6,566.42 417.8,566.62 418.0,566.24 418.2,566.32 418.4,566.65 418.6,566.55 418.8,565.76 419.0,567.28 419.2,566.17 419.4,566.43 419.6,566.47 419.8,566.52 420.0,566.58 420.2,565.87 420.4,566.56 420.6,566.53 420.8,566.25 421.0,566.36 421.2,566.50 421.4,566.52 421.6,566.78 421.8,566.19 422.0,566.71 422.2,567.05 422.4,566.20 422.6,566.27 422.8,566.37 423.0,566.58 423.2,566.16 423.4,566.72 423.6,567.00 423.8,566.42 424.0,566.26 424.2,566.30 424.4,565.94 424.6,566.25 424.8,566.51 425.0,566.51 425.2,566.24 425.4,566.47 425.6,566.49 425.8,566.90 426.0,566.54 426.2,566.78 426.4,566.40 426.6,566.43 426.8,566.28 427.0,566.01 427.2,566.50 427.4,566.10 427.6,566.74 427.8,566.42 428.0,566.22 428.2,565.97 428.4,566.73 428.6,566.52 428.8,566.42 429.0,566.48 429.2,566.70 429.4,566.86 429.6,566.76 429.8,566.48 430.0,566.79 430.2,566.02 430.4,566.15 430.6,566.93 430.8,566.58 431.0,566.13 431.2,566.10 431.4,566.18 431.6,566.81 431.8,566.55 432.0,566.14 432.2,566.43 432.4,566.57 432.6,566.33 432.8,566.21 433.0,566.42 433.2,566.40 433.4,566.19 433.6,566.60 433.8,566.69 434.0,566.27 434.2,566.76 434.4,566.33 434.6,566.64 434.8,566.25 435.0,566.75 435.2,566.17 435.4,566.39 435.6,566.53 435.8,566.67 436.0,566.50 436.2,566.69 436.4,566.76 436.6,566.19 436.8,566.31 437.0,566.15 437.2,566.80 437.4,566.94 437.6,566.85 437.8,566.29 438.0,566.26 438.2,566.92 438.4,566.20 438.6,566.57 438.8,566.76 439.0,566.48 439.2,566.32 439.4,566.51 439.6,566.50 439.8,566.67 440.0,566.81 440.2,566.55 440.4,566.86 440.6,566.31 440.8,566.67 441.0,566.13 441.2,566.86 441.4,566.11 441.6,566.68 441.8,566.68 442.0,566.38 442.2,566.23 442.4,566.47 442.6,566.55 442.8,565.96 443.0,566.33 443.2,566.76 443.4,566.52 443.6,566.03 443.8,566.38 444.0,566.25 444.2,565.95 444.4,566.61 444.6,566.36 444.8,566.62 445.0,566.46 445.2,566.32 445.4,566.79 445.6,566.42 445.8,566.42 446.0,566.19 446.2,566.61 446.4,566.78 446.6,566.36 446.8,566.74 447.0,566.41 447.2,566.31 447.4,566.68 447.6,566.49 447.8,566.72 448.0,567.17 448.2,566.82 448.4,566.98 448.6,566.45 448.8,566.73 449.0,566.49 449.2,566.47 449.4,566.19 449.6,566.55 449.8,566.56 450.0,566.33 450.2,566.05 450.4,566.48 450.6,566.37 450.8,566.51 451.0,566.63 451.2,566.84 451.4,566.48 451.6,566.52 451.8,566.52 452.0,565.96 452.2,566.54 452.4,566.37 452.6,566.54 452.8,566.16 453.0,566.53 453.2,565.99 453.4,566.52 453.6,566.26 453.8,566.20 454.0,566.51 454.2,566.24 454.4,566.44 454.6,566.64 454.8,566.62 455.0,566.37 455.2,566.01 455.4,566.58 455.6,566.32 455.8,566.66 456.0,566.39 456.2,566.78 456.4,566.65 456.6,566.46 456.8,566.64 457.0,566.52 457.2,566.20 457.4,566.48 457.6,566.63 457.8,566.76 458.0,566.59 458.2,566.16 458.4,566.47 458.6,566.49 458.8,566.27 459.0,566.24 459.2,566.20 459.4,566.54 459.6,566.68 459.8,566.87 460.0,566.62 460.2,566.54 460.4,566.27 460.6,566.37 460.8,566.59 461.0,566.23 461.2,566.77 461.4,566.71 461.6,566.75 461.8,566.72 462.0,566.51 462.2,566.66 462.4,566.64 462.6,566.12 462.8,566.82 463.0,566.71 463.2,566.51 463.4,566.34 463.6,566.33 463.8,566.52 464.0,566.54 464.2,566.52 464.4,566.26 464.6,566.68 464.8,567.04 465.0,566.40 465.2,566.74 465.4,566.46 465.6,566.10 465.8,566.42 466.0,565.99 466.2,566.85 466.4,566.39 466.6,566.35 466.8,566.24 467.0,566.63 467.2,566.41 467.4,566.42 467.6,566.43 467.8,566.79 468.0,566.88 468.2,566.31 468.4,566.36 468.6,566.44 468.8,566.29 469.0,566.18 469.2,566.74 469.4,566.25 469.6,566.07 469.8,566.19 470.0,566.30 470.2,566.27 470.4,566.80 470.6,566.57 470.8,566.18 471.0,566.07 471.2,566.32 471.4,566.55 471.6,566.47 471.8,566.22 472.0,565.93 472.2,566.24 472.4,566.57 472.6,566.28 472.8,566.33 473.0,565.83 473.2,566.28 473.4,566.42 473.6,566.45 473.8,566.74 474.0,566.70 474.2,566.55 474.4,566.63 474.6,566.38 474.8,566.41 475.0,566.20 475.2,566.05 475.4,566.39 475.6,566.48 475.8,566.89 476.0,566.33 476.2,566.26 476.4,566.62 476.6,566.53 476.8,566.60 477.0,566.16 477.2,566.27 477.4,566.12 477.6,566.73 477.8,565.76 478.0,566.64 478.2,566.68 478.4,566.38 478.6,566.57 478.8,565.97 479.0,566.53 479.2,566.60 479.4,566.19 479.6,566.12 479.8,566.64 480.0,566.55 480.2,566.52 480.4,566.47 480.6,566.00 480.8,566.12 481.0,566.16 481.2,566.11 481.4,566.43 481.6,566.21 481.8,566.45 482.0,566.62 482.2,566.01 482.4,566.87 482.6,566.43 482.8,566.58 483.0,566.85 483.2,566.53 483.4,566.42 483.6,566.32 483.8,566.64 484.0,566.24 484.2,566.36 484.4,566.23 484.6,566.92 484.8,566.55 485.0,566.59 485.2,566.29 485.4,566.62 485.6,566.56 485.8,566.72 486.0,566.73 486.2,566.67 486.4,566.19 486.6,566.70 486.8,567.04 487.0,566.36 487.2,566.55 487.4,566.30 487.6,566.30 487.8,566.51 488.0,566.54 488.2,566.57 488.4,566.44 488.6,566.63 488.8,566.39 489.0,566.09 489.2,566.60 489.4,566.59 489.6,566.60 489.8,566.28 490.0,566.27 490.2,566.08 490.4,566.26 490.6,566.40 490.8,566.32 491.0,566.76 491.2,566.29 491.4,566.39 491.6,565.91 491.8,566.09 492.0,566.64 492.2,566.57 492.4,566.21 492.6,566.95 492.8,566.66 493.0,566.34 493.2,566.27 493.4,566.38 493.6,566.14 493.8,566.50 494.0,566.41 494.2,566.48 494.4,566.70 494.6,566.42 494.8,566.57 495.0,566.41 495.2,567.08 495.4,566.40 495.6,566.56 495.8,566.58 496.0,566.42 496.2,566.54 496.4,566.20 496.6,566.12 496.8,566.21 497.0,566.19 497.2,566.34 497.4,566.42 497.6,566.75 497.8,566.52 498.0,566.12 498.2,566.23 498.4,566.55 498.6,566.40 498.8,566.16 499.0,566.46 499.2,566.02 499.4,566.61 499.6,566.23 499.8,566.25 500.0,566.38 500.2,566.35 500.4,566.29 500.6,566.99 500.8,566.30 501.0,566.14 501.2,566.32 501.4,566.14 501.6,566.72 501.8,566.44 502.0,566.34 502.2,566.49 502.4,566.12 502.6,566.30 502.8,566.55 503.0,566.22 503.2,566.22 503.4,566.53 503.6,566.26 503.8,566.32 504.0,566.33 504.2,566.73 504.4,566.10 504.6,566.26 504.8,566.42 505.0,566.33 505.2,566.33 505.4,566.49 505.6,566.56 505.8,566.39 506.0,566.57 506.2,566.54 506.4,566.71 506.6,566.49 506.8,566.17 507.0,566.36 507.2,566.40 507.4,566.49 507.6,566.52 507.8,566.79 508.0,566.00 508.2,566.60 508.4,566.79 508.6,566.32 508.8,566.35 509.0,566.54 509.2,566.78 509.4,566.76 509.6,566.02 509.8,566.44 510.0,566.58 510.2,565.95 510.4,566.55 510.6,566.64 510.8,566.28 511.0,566.32 511.2,566.02 511.4,566.80 511.6,566.34 511.8,566.84 512.0,566.30 512.2,566.58 512.4,566.53 512.6,566.59 512.8,566.20 513.0,566.00 513.2,566.43 513.4,566.47 513.6,566.54 513.8,566.28 514.0,566.67 514.2,565.52 514.4,566.47 514.6,565.98 514.8,566.37 515.0,566.75 515.2,566.80 515.4,566.51 515.6,566.59 515.8,566.47 516.0,566.70 516.2,565.82 516.4,565.88 516.6,566.86 516.8,566.29 517.0,566.11 517.2,566.49 517.4,566.46 517.6,566.13 517.8,566.27 518.0,566.71 518.2,566.10 518.4,566.53 518.6,565.94 518.8,566.65 519.0,566.98 519.2,566.38 519.4,566.10 519.6,566.28 519.8,566.37 520.0,566.64 520.2,566.18 520.4,566.87 520.6,566.21 520.8,566.71 521.0,566.56 521.2,566.74 521.4,566.64 521.6,566.04 521.8,566.71 522.0,566.36 522.2,566.61 522.4,566.15 522.6,566.75 522.8,566.41 523.0,566.18 523.2,565.84 523.4,566.71 523.6,566.63 523.8,566.42 524.0,566.04 524.2,566.67 524.4,566.20 524.6,566.57 524.8,566.67 525.0,566.81 525.2,566.38 525.4,566.16 525.6,566.44 525.8,566.95 526.0,566.55 526.2,566.16 526.4,566.19 526.6,566.34 526.8,566.04 527.0,566.73 527.2,566.72 527.4,565.80 527.6,566.24 527.8,566.46 528.0,566.53 528.2,567.06 528.4,566.19 528.6,566.93 528.8,566.91 529.0,566.42 529.2,566.02 529.4,566.51 529.6,566.31 529.8,566.51 530.0,566.30 530.2,566.83 530.4,565.87 530.6,566.65 530.8,566.26 531.0,566.92 531.2,565.95 531.4,566.29 531.6,565.89 531.8,566.57 532.0,566.13 532.2,566.44 532.4,566.41 532.6,566.07 532.8,566.63 533.0,566.21 533.2,565.90 533.4,565.95 533.6,566.12 533.8,566.31 534.0,566.64 534.2,566.02 534.4,566.56 534.6,566.08 534.8,566.47 535.0,566.38 535.2,566.39 535.4,566.23 535.6,566.50 535.8,566.34 536.0,566.52 536.2,566.25 536.4,566.31 536.6,566.27 536.8,566.60 537.0,566.30 537.2,566.37 537.4,566.23 537.6,566.36 537.8,566.62 538.0,566.19 538.2,566.55 538.4,566.30 538.6,566.90 538.8,566.25 539.0,566.21 539.2,566.61 539.4,566.23 539.6,566.47 539.8,566.02 540.0,566.20 540.2,566.69 540.4,566.42 540.6,566.82 540.8,566.45 541.0,566.23 541.2,566.16 541.4,566.40 541.6,566.43 541.8,566.33 542.0,566.52 542.2,566.28 542.4,566.08 542.6,566.31 542.8,566.14 543.0,566.56 543.2,566.48 543.4,566.27 543.6,565.84 543.8,566.10 544.0,565.92 544.2,566.34 544.4,566.04 544.6,566.78 544.8,566.22 545.0,566.88 545.2,566.03 545.4,566.22 545.6,566.05 545.8,566.24 546.0,566.47 546.2,566.53 546.4,566.29 546.6,565.96 546.8,566.18 547.0,566.47 547.2,566.48 547.4,566.51 547.6,566.39 547.8,566.35 548.0,566.45 548.2,566.33 548.4,566.73 548.6,565.93 548.8,566.26 549.0,565.94 549.2,566.25 549.4,566.37 549.6,566.30 549.8,566.26 550.0,566.49 550.2,566.41 550.4,565.83 550.6,566.08 550.8,566.44 551.0,566.18 551.2,566.52 551.4,565.95 551.6,566.56 551.8,566.08 552.0,566.30 552.2,566.30 552.4,566.51 552.6,566.37 552.8,566.49 553.0,566.52 553.2,566.18 553.4,565.66 553.6,566.38 553.8,566.04 554.0,566.30 554.2,566.47 554.4,565.95 554.6,566.13 554.8,566.00 555.0,566.26 555.2,566.25 555.4,566.49 555.6,566.35 555.8,565.86 556.0,566.85 556.2,566.18 556.4,565.91 556.6,566.07 556.8,566.05 557.0,566.34 557.2,565.99 557.4,565.98 557.6,566.28 557.8,565.84 558.0,566.39 558.2,566.89 558.4,566.26 558.6,566.29 558.8,566.47 559.0,566.37 559.2,566.39 559.4,566.71 559.6,565.94 559.8,566.25 560.0,565.57 560.2,566.25 560.4,566.14 560.6,566.62 560.8,565.98 561.0,566.51 561.2,566.10 561.4,566.00 561.6,566.04 561.8,566.44 562.0,566.43 562.2,566.03 562.4,565.92 562.6,565.86 562.8,566.23 563.0,566.24 563.2,565.76 563.4,566.36 563.6,566.02 563.8,566.29 564.0,566.56 564.2,566.48 564.4,566.09 564.6,566.14 564.8,566.07 565.0,566.28 565.2,566.32 565.4,566.12 565.6,566.23 565.8,566.59 566.0,566.29 566.2,565.75 566.4,566.37 566.6,566.03 566.8,566.19 567.0,565.98 567.2,566.38 567.4,566.48 567.6,566.04 567.8,566.33 568.0,566.16 568.2,566.23 568.4,565.90 568.6,566.08 568.8,566.10 569.0,566.38 569.2,566.52 569.4,566.34 569.6,565.91 569.8,565.94 570.0,565.97 570.2,566.21 570.4,566.36 570.6,565.81 570.8,566.05 571.0,565.96 571.2,566.32 571.4,566.26 571.6,565.92 571.8,565.89 572.0,566.32 572.2,565.99 572.4,566.35 572.6,565.75 572.8,565.88 573.0,565.47 573.2,565.66 573.4,566.20 573.6,565.98 573.8,566.14 574.0,565.98 574.2,565.81 574.4,566.00 574.6,565.98 574.8,566.32 575.0,565.84 575.2,565.98 575.4,565.81 575.6,565.70 575.8,565.94 576.0,565.77 576.2,566.09 576.4,565.69 576.6,565.93 576.8,566.06 577.0,565.96 577.2,566.25 577.4,566.05 577.6,565.98 577.8,565.86 578.0,565.88 578.2,566.01 578.4,565.88 578.6,566.36 578.8,565.79 579.0,565.67 579.2,565.60 579.4,565.51 579.6,565.82 579.8,565.78 580.0,565.86 580.2,565.85 580.4,565.69 580.6,565.37 580.8,566.11 581.0,565.80 581.2,565.59 581.4,565.89 581.6,565.53 581.8,565.95 582.0,565.68 582.2,565.99 582.4,565.49 582.6,565.74 582.8,565.36 583.0,565.58 583.2,565.72 583.4,565.57 583.6,565.41 583.8,565.42 584.0,565.46 584.2,565.46 584.4,565.34 584.6,565.11 584.8,565.43 585.0,565.15 585.2,565.56 585.4,564.97 585.6,565.08 585.8,565.22 586.0,565.19 586.2,565.49 586.4,565.01 586.6,565.05 586.8,565.30 587.0,565.02 587.2,564.72 587.4,564.78 587.6,564.71 587.8,564.86 588.0,564.46 588.2,564.63 588.4,564.35 588.6,563.96 588.8,564.94 589.0,564.50 589.2,564.31 589.4,564.42 589.6,563.91 589.8,564.17 590.0,563.59 590.2,563.73 590.4,563.72 590.6,563.73 590.8,563.41 591.0,563.39 591.2,563.03 591.4,563.17 591.6,562.88 591.8,562.89 592.0,562.76 592.2,563.06 592.4,562.48 592.6,562.18 592.8,562.34 593.0,562.13 593.2,561.57 593.4,561.09 593.6,561.19 593.8,560.24 594.0,559.55 594.2,559.22 594.4,558.36 594.6,557.43 594.8,556.67 595.0,555.12 595.2,553.70 595.4,552.40 595.6,549.95 595.8,547.50 596.0,545.23 596.2,541.58 596.4,538.22 596.6,534.34 596.8,529.58 597.0,524.30 597.2,518.11 597.4,511.94 597.6,504.92 597.8,497.57 598.0,489.16 598.2,480.91 598.4,471.82 598.6,462.26 598.8,452.82 599.0,443.65 599.2,434.17 599.4,424.95 599.6,416.49 599.8,408.27 600.0,401.21 600.2,395.63 600.4,391.27 600.6,387.80 600.8,385.80 601.0,385.85 601.2,387.47 601.4,390.68 601.6,395.73 601.8,401.47 602.0,408.30 602.2,416.42 602.4,424.86 602.6,434.40 602.8,443.81 603.0,452.48 603.2,462.21 603.4,471.50 603.6,480.24 603.8,488.60 604.0,496.53 604.2,505.41 604.4,511.72 604.6,517.98 604.8,524.55 605.0,529.77 605.2,534.05 605.4,537.68 605.6,541.55 605.8,544.42 606.0,547.63 606.2,549.80 606.4,551.71 606.6,553.69 606.8,555.27 607.0,556.47 607.2,558.46 607.4,558.34 607.6,559.62 607.8,559.99 608.0,560.14 608.2,560.67 608.4,561.66 608.6,561.36 608.8,561.60 609.0,561.99 609.2,562.10 609.4,562.34 609.6,563.09 609.8,562.89 610.0,563.06 610.2,563.44 610.4,563.28 610.6,563.59 610.8,563.53 611.0,563.83 611.2,563.46 611.4,563.26 611.6,564.05 611.8,563.98 612.0,564.06 612.2,564.04 612.4,564.27 612.6,564.86 612.8,564.28 613.0,564.46 613.2,564.76 613.4,564.60 613.6,564.74 613.8,564.60 614.0,564.79 614.2,564.83 614.4,564.78 614.6,564.80 614.8,564.90 615.0,564.65 615.2,564.92 615.4,565.21 615.6,564.62 615.8,565.06 616.0,564.73 616.2,565.43 616.4,565.05 616.6,564.79 616.8,564.93 617.0,565.26 617.2,565.45 617.4,565.48 617.6,565.40 617.8,565.62 618.0,565.59 618.2,565.68 618.4,565.70 618.6,565.41 618.8,565.94 619.0,565.47 619.2,565.36 619.4,565.79 619.6,565.80 619.8,565.58 620.0,565.61 620.2,565.38 620.4,566.14 620.6,565.67 620.8,565.32 621.0,565.66 621.2,565.25 621.4,565.16 621.6,565.86 621.8,565.36 622.0,565.62 622.2,565.76 622.4,565.84 622.6,565.84 622.8,566.02 623.0,565.85 623.2,565.58 623.4,565.51 623.6,565.93 623.8,565.71 624.0,565.74 624.2,566.46 624.4,565.70 624.6,566.19 624.8,566.18 625.0,565.69 625.2,565.49 625.4,566.20 625.6,566.15 625.8,566.17 626.0,566.08 626.2,566.05 626.4,566.17 626.6,566.37 626.8,565.53 627.0,566.10 627.2,566.18 627.4,565.77 627.6,566.09 627.8,565.73 628.0,565.81 628.2,565.77 628.4,566.12 628.6,565.87 628.8,566.42 629.0,566.38 629.2,566.03 629.4,566.13 629.6,565.72 629.8,566.13 630.0,566.51 630.2,566.05 630.4,566.15 630.6,566.03 630.8,566.37 631.0,566.28 631.2,566.07 631.4,565.91 631.6,566.00 631.8,565.91 632.0,566.47 632.2,566.16 632.4,566.06 632.6,565.88 632.8,566.05 633.0,566.18 633.2,566.16 633.4,566.15 633.6,566.49 633.8,566.13 634.0,565.94 634.2,565.96 634.4,566.61 634.6,566.15 634.8,566.53 635.0,565.88 635.2,566.02 635.4,565.98 635.6,566.33 635.8,566.65 636.0,566.43 636.2,566.26 636.4,566.55 636.6,566.43 636.8,565.74 637.0,566.51 637.2,566.05 637.4,566.65 637.6,566.13 637.8,565.98 638.0,566.08 638.2,565.89 638.4,565.75 638.6,566.54 638.8,566.14 639.0,566.07 639.2,566.10 639.4,565.81 639.6,566.14 639.8,565.91 640.0,565.92 640.2,566.17 640.4,566.08 640.6,566.41 640.8,566.14 641.0,566.17 641.2,566.26 641.4,566.34 641.6,565.98 641.8,566.25 642.0,565.65 642.2,565.90 642.4,566.04 642.6,566.37 642.8,566.00 643.0,566.19 643.2,566.21 643.4,566.51 643.6,566.09 643.8,566.17 644.0,566.35 644.2,566.40 644.4,566.31 644.6,566.57 644.8,566.38 645.0,565.90 645.2,566.40 645.4,565.67 645.6,566.58 645.8,565.97 646.0,565.98 646.2,565.96 646.4,566.11 646.6,566.65 646.8,565.97 647.0,565.99 647.2,566.24 647.4,566.85 647.6,565.99 647.8,566.49 648.0,566.33 648.2,565.95 648.4,565.93 648.6,566.17 648.8,566.40 649.0,565.84 649.2,565.98 649.4,566.31 649.6,566.51 649.8,566.20 650.0,566.61 650.2,565.83 650.4,566.15 650.6,566.37 650.8,566.18 651.0,566.70 651.2,566.30 651.4,566.44 651.6,566.68 651.8,566.44 652.0,566.20 652.2,566.64 652.4,566.34 652.6,566.65 652.8,566.24 653.0,566.73 653.2,566.11 653.4,566.13 653.6,566.09 653.8,565.84 654.0,566.25 654.2,566.27 654.4,566.15 654.6,566.42 654.8,566.78 655.0,566.61 655.2,566.61 655.4,566.26 655.6,566.46 655.8,566.40 656.0,566.17 656.2,566.26 656.4,565.81 656.6,566.32 656.8,566.55 657.0,565.99 657.2,566.41 657.4,566.33 657.6,566.06 657.8,566.27 658.0,566.14 658.2,566.47 658.4,566.39 658.6,566.15 658.8,566.45 659.0,566.41 659.2,566.32 659.4,565.91 659.6,565.94 659.8,566.25 660.0,566.29 660.2,566.48 660.4,565.98 660.6,566.21 660.8,566.07 661.0,566.66 661.2,566.11 661.4,566.27 661.6,566.12 661.8,566.05 662.0,566.30 662.2,566.40 662.4,566.13 662.6,566.61 662.8,565.95 663.0,566.22 663.2,566.58 663.4,565.98 663.6,566.06 663.8,565.92 664.0,566.05 664.2,566.18 664.4,566.31 664.6,566.57 664.8,566.11 665.0,566.15 665.2,566.41 665.4,566.15 665.6,566.53 665.8,566.04 666.0,566.27 666.2,566.24 666.4,566.49 666.6,566.07 666.8,566.27 667.0,566.45 667.2,566.21 667.4,566.36 667.6,566.05 667.8,566.69 668.0,566.60 668.2,565.80 668.4,566.44 668.6,566.19 668.8,566.41 669.0,566.26 669.2,565.66 669.4,566.81 669.6,566.18 669.8,566.30 670.0,566.31 670.2,566.51 670.4,566.56 670.6,565.98 670.8,566.19 671.0,566.62 671.2,566.32 671.4,566.65 671.6,565.60 671.8,566.23 672.0,566.77 672.2,566.09 672.4,566.17 672.6,566.24 672.8,566.28 673.0,566.46 673.2,566.37 673.4,566.83 673.6,566.00 673.8,565.82 674.0,566.20 674.2,566.17 674.4,566.67 674.6,566.43 674.8,566.68 675.0,566.66 675.2,566.19 675.4,565.97 675.6,566.35 675.8,565.71 676.0,566.12 676.2,566.90 676.4,566.43 676.6,566.00 676.8,566.29 677.0,566.07 677.2,566.76 677.4,566.01 677.6,566.63 677.8,566.25 678.0,565.80 678.2,566.32 678.4,566.39 678.6,566.14 678.8,566.55 679.0,566.58 679.2,566.09 679.4,566.71 679.6,566.65 679.8,565.90 680.0,566.65 680.2,566.23 680.4,566.06 680.6,566.35 680.8,566.61 681.0,566.13 681.2,566.58 681.4,565.81 681.6,565.78 681.8,566.60 682.0,566.20 682.2,566.52 682.4,566.25 682.6,566.41 682.8,566.59 683.0,566.21 683.2,566.76 683.4,566.27 683.6,566.38 683.8,566.54 684.0,566.12 684.2,566.34 684.4,566.43 684.6,566.39 684.8,566.40 685.0,566.11 685.2,566.42 685.4,567.08 685.6,567.13 685.8,566.61 686.0,566.67"/>
<rect x="169.8" y="385.3" width="3.0" height="80" fill="#a0a0a0"/>
<path d="M602.3,428 L603.3,479" stroke="#111" stroke-width="1.6" fill="none"/>
<text class="nl" style="font-size:13.0px" transform="translate(56.64,548.17) rotate(-90)">5.17</text><line class="cn" x1="52.20" y1="548.27" x2="52.20" y2="558.40"/>
<text class="nl" style="font-size:13.0px" transform="translate(79.90,520.34) rotate(-90)">5.00</text><line class="cn" x1="75.40" y1="520.44" x2="75.40" y2="531.20"/>
<text class="nl" style="font-size:13.0px" transform="translate(117.00,533.85) rotate(-90)">4.73</text><line class="cn" x1="112.50" y1="534.20" x2="112.50" y2="546.00"/>
<text class="nl" style="font-size:13.0px" transform="translate(174.80,368.81) rotate(-90)">4.30</text><line class="cn" x1="170.30" y1="369.16" x2="170.30" y2="381.60"/>
<text class="nl" style="font-size:13.0px" transform="translate(202.00,523.36) rotate(-90)">4.10</text><line class="cn" x1="197.50" y1="523.71" x2="197.50" y2="536.10"/>
<text class="nl" style="font-size:13.0px" transform="translate(217.50,423.88) rotate(-90)">3.99</text><line class="cn" x1="213.00" y1="423.98" x2="213.00" y2="436.00"/>
<text class="nl" style="font-size:13.0px" transform="translate(240.50,470.27) rotate(-90)">3.83</text><line class="cn" x1="236.00" y1="470.38" x2="236.00" y2="484.20"/>
<text class="nl" style="font-size:13.0px" transform="translate(249.70,415.94) rotate(-90)">3.75</text><line class="cn" x1="245.20" y1="416.04" x2="245.20" y2="428.60"/>
<text class="nl" style="font-size:13.0px" transform="translate(269.50,514.24) rotate(-90)">3.55</text><polyline class="cn" points="265.00,514.34 265.00,517.34 272.40,523.00 272.40,525.00"/>
<text class="nl" style="font-size:13.0px" transform="translate(284.30,501.84) rotate(-90)">3.50</text><line class="cn" x1="279.80" y1="501.94" x2="279.80" y2="515.10"/>
<text class="nl" style="font-size:13.0px" transform="translate(297.90,514.30) rotate(-90)">3.44</text><polyline class="cn" points="293.40,514.40 293.40,517.40 287.40,524.30 287.40,526.30"/>
<text class="nl" style="font-size:13.0px" transform="translate(605.84,368.24) rotate(-90)">1.15</text><line class="cn" x1="601.40" y1="367.84" x2="601.40" y2="379.60"/>
<text class="pl" style="font-size:26px" x="25.54" y="333.35">b)</text>
<text class="bk" style="font-size:13.5px" transform="translate(87.47,428.80) rotate(-90)">-O-CH-O-</text>
<text class="bk" style="font-size:13.5px" transform="translate(64.85,482.89) rotate(-90)">g1</text>
<text class="bk" style="font-size:13.5px" transform="translate(113.68,485.55) rotate(-90)">m1</text>
<path class="br" d="M41.5,460.2 L41.5,455.3 Q41.5,453.3 43.5,453.3 L125.8,453.3 Q127.8,453.3 127.8,455.3 L127.8,460.2 M85.3,453.3 L85.3,446.4"/>
<text class="bk" style="font-size:13.5px" transform="translate(239.32,353.80) rotate(-90)">-CH-</text><text class="bk" style="font-size:13.5px" transform="translate(256.39,355.18) rotate(-90)">-CH<tspan font-size="9.5px" dy="3.00">2</tspan><tspan dy="-3.00">-</tspan></text>
<path class="br" d="M188.3,381.6 L188.3,376.7 Q188.3,374.7 190.3,374.7 L298.8,374.7 Q300.8,374.7 300.8,376.7 L300.8,381.6 M244.5,374.7 L244.5,368.0"/>
<text class="bk" style="font-size:13.5px" transform="translate(605.42,331.65) rotate(-90)">-CH<tspan font-size="9.5px" dy="3.00">3</tspan></text>
<polyline class="sp" points="9.9,854.19 10.1,855.34 10.3,854.59 10.5,854.84 10.7,854.81 10.9,854.75 11.1,855.20 11.3,854.76 11.5,854.91 11.7,853.87 11.9,854.64 12.1,854.79 12.3,854.77 12.5,854.86 12.7,854.96 12.9,854.79 13.1,854.58 13.3,854.76 13.5,854.46 13.7,854.74 13.9,854.69 14.1,854.31 14.3,854.56 14.5,854.82 14.7,854.73 14.9,854.55 15.1,854.20 15.3,854.75 15.5,854.74 15.7,854.43 15.9,854.90 16.1,854.75 16.3,854.45 16.5,854.53 16.7,854.65 16.9,854.50 17.1,855.37 17.3,854.41 17.5,854.90 17.7,855.07 17.9,854.58 18.1,854.47 18.3,854.75 18.5,854.91 18.7,854.63 18.9,854.64 19.1,854.27 19.3,854.43 19.5,854.57 19.7,854.33 19.9,854.66 20.1,854.83 20.3,854.45 20.5,854.44 20.7,854.64 20.9,854.77 21.1,854.51 21.3,855.19 21.5,854.38 21.7,854.43 21.9,854.95 22.1,854.52 22.3,854.77 22.5,854.33 22.7,855.02 22.9,854.73 23.1,854.31 23.3,854.18 23.5,854.97 23.7,854.51 23.9,854.24 24.1,854.41 24.3,853.77 24.5,854.37 24.7,853.88 24.9,854.12 25.1,853.38 25.3,853.55 25.5,853.39 25.7,853.39 25.9,852.11 26.1,851.81 26.3,850.53 26.5,848.23 26.7,846.00 26.9,844.13 27.1,842.04 27.3,839.88 27.5,837.28 27.7,836.15 27.9,834.42 28.1,832.96 28.3,831.54 28.5,830.28 28.7,829.68 28.9,828.86 29.1,827.58 29.3,826.46 29.5,825.86 29.7,825.49 29.9,825.38 30.1,825.05 30.3,825.02 30.5,824.62 30.7,824.91 30.9,824.58 31.1,824.58 31.3,824.38 31.5,824.44 31.7,823.91 31.9,824.31 32.1,824.51 32.3,825.64 32.5,825.48 32.7,825.82 32.9,825.78 33.1,826.68 33.3,825.95 33.5,826.03 33.7,826.57 33.9,826.35 34.1,826.11 34.3,825.65 34.5,825.24 34.7,824.62 34.9,824.94 35.1,824.49 35.3,824.51 35.5,824.06 35.7,824.32 35.9,824.18 36.1,824.83 36.3,824.65 36.5,824.87 36.7,824.37 36.9,824.68 37.1,825.03 37.3,825.20 37.5,825.11 37.7,825.57 37.9,826.18 38.1,826.94 38.3,827.88 38.5,830.06 38.7,831.76 38.9,833.82 39.1,835.96 39.3,837.69 39.5,839.78 39.7,842.17 39.9,844.33 40.1,846.74 40.3,849.46 40.5,852.38 40.7,852.82 40.9,853.20 41.1,853.80 41.3,853.97 41.5,854.20 41.7,854.17 41.9,853.96 42.1,854.35 42.3,854.35 42.5,854.17 42.7,854.26 42.9,854.05 43.1,855.03 43.3,854.32 43.5,854.68 43.7,854.55 43.9,854.38 44.1,854.33 44.3,854.35 44.5,854.57 44.7,854.22 44.9,854.70 45.1,854.67 45.3,854.44 45.5,854.78 45.7,854.10 45.9,854.39 46.1,854.11 46.3,854.66 46.5,854.76 46.7,854.62 46.9,854.48 47.1,854.82 47.3,854.58 47.5,854.68 47.7,854.27 47.9,854.85 48.1,854.42 48.3,854.85 48.5,854.93 48.7,854.86 48.9,854.99 49.1,854.65 49.3,854.43 49.5,854.65 49.7,854.53 49.9,854.28 50.1,854.62 50.3,854.64 50.5,854.76 50.7,855.09 50.9,854.50 51.1,855.13 51.3,854.53 51.5,854.69 51.7,854.41 51.9,854.71 52.1,854.90 52.3,854.60 52.5,854.83 52.7,854.74 52.9,854.68 53.1,854.72 53.3,854.74 53.5,854.90 53.7,854.74 53.9,855.22 54.1,854.73 54.3,854.99 54.5,854.41 54.7,854.37 54.9,855.18 55.1,854.65 55.3,854.72 55.5,854.95 55.7,854.56 55.9,854.81 56.1,855.13 56.3,854.76 56.5,854.73 56.7,854.66 56.9,855.00 57.1,854.54 57.3,854.51 57.5,854.98 57.7,854.85 57.9,854.71 58.1,854.83 58.3,854.25 58.5,854.64 58.7,854.94 58.9,854.89 59.1,854.70 59.3,854.12 59.5,854.73 59.7,854.66 59.9,854.56 60.1,854.70 60.3,854.12 60.5,854.82 60.7,854.50 60.9,854.65 61.1,854.53 61.3,854.98 61.5,854.25 61.7,854.72 61.9,854.68 62.1,854.92 62.3,854.87 62.5,854.55 62.7,854.44 62.9,854.50 63.1,854.39 63.3,854.51 63.5,854.68 63.7,854.48 63.9,854.54 64.1,854.71 64.3,854.51 64.5,854.37 64.7,854.63 64.9,854.78 65.1,854.51 65.3,854.21 65.5,854.74 65.7,854.71 65.9,854.72 66.1,854.38 66.3,855.15 66.5,854.60 66.7,854.39 66.9,854.89 67.1,854.32 67.3,854.55 67.5,854.83 67.7,854.64 67.9,855.07 68.1,854.83 68.3,854.23 68.5,854.91 68.7,854.23 68.9,854.71 69.1,854.44 69.3,854.68 69.5,855.25 69.7,854.83 69.9,854.64 70.1,854.98 70.3,855.02 70.5,854.60 70.7,854.85 70.9,855.11 71.1,854.86 71.3,854.47 71.5,854.81 71.7,854.45 71.9,854.31 72.1,854.68 72.3,854.97 72.5,855.01 72.7,854.69 72.9,854.47 73.1,854.62 73.3,854.55 73.5,854.80 73.7,854.61 73.9,854.80 74.1,854.77 74.3,855.01 74.5,855.08 74.7,854.81 74.9,854.96 75.1,854.93 75.3,854.52 75.5,854.71 75.7,853.96 75.9,854.45 76.1,854.84 76.3,854.49 76.5,854.60 76.7,854.86 76.9,854.41 77.1,854.88 77.3,855.45 77.5,854.49 77.7,854.84 77.9,854.31 78.1,854.85 78.3,854.98 78.5,854.30 78.7,854.95 78.9,854.63 79.1,854.32 79.3,854.66 79.5,854.71 79.7,854.66 79.9,854.48 80.1,854.89 80.3,854.53 80.5,854.54 80.7,854.10 80.9,854.77 81.1,854.91 81.3,854.50 81.5,854.78 81.7,854.61 81.9,854.65 82.1,854.39 82.3,854.85 82.5,854.71 82.7,855.32 82.9,854.91 83.1,854.30 83.3,854.85 83.5,854.86 83.7,854.99 83.9,854.54 84.1,854.64 84.3,854.98 84.5,854.52 84.7,854.62 84.9,854.50 85.1,854.84 85.3,854.25 85.5,854.58 85.7,854.71 85.9,854.81 86.1,854.75 86.3,854.47 86.5,854.75 86.7,854.41 86.9,854.54 87.1,854.35 87.3,854.48 87.5,854.70 87.7,855.16 87.9,854.61 88.1,854.49 88.3,854.64 88.5,854.54 88.7,854.80 88.9,854.78 89.1,854.92 89.3,854.34 89.5,854.64 89.7,854.81 89.9,855.02 90.1,854.72 90.3,854.32 90.5,854.57 90.7,854.86 90.9,854.33 91.1,854.33 91.3,854.44 91.5,854.49 91.7,854.39 91.9,854.55 92.1,854.49 92.3,854.88 92.5,854.31 92.7,854.62 92.9,854.18 93.1,855.19 93.3,854.51 93.5,854.44 93.7,854.77 93.9,854.57 94.1,854.49 94.3,854.54 94.5,854.82 94.7,854.72 94.9,854.43 95.1,854.36 95.3,854.66 95.5,854.66 95.7,854.63 95.9,854.42 96.1,854.94 96.3,855.01 96.5,854.65 96.7,854.96 96.9,854.83 97.1,854.66 97.3,854.56 97.5,854.95 97.7,854.48 97.9,855.12 98.1,854.54 98.3,855.08 98.5,855.00 98.7,854.52 98.9,854.78 99.1,854.88 99.3,854.79 99.5,854.56 99.7,854.69 99.9,854.69 100.1,854.42 100.3,854.86 100.5,854.80 100.7,854.81 100.9,854.39 101.1,854.43 101.3,854.36 101.5,854.69 101.7,854.72 101.9,854.47 102.1,854.78 102.3,854.47 102.5,854.50 102.7,854.85 102.9,854.70 103.1,854.71 103.3,854.25 103.5,854.03 103.7,854.70 103.9,854.68 104.1,855.25 104.3,854.63 104.5,854.68 104.7,854.95 104.9,854.48 105.1,855.07 105.3,854.73 105.5,854.64 105.7,854.99 105.9,854.46 106.1,854.41 106.3,855.03 106.5,855.03 106.7,854.53 106.9,854.69 107.1,854.98 107.3,854.75 107.5,854.70 107.7,854.71 107.9,854.47 108.1,854.58 108.3,854.24 108.5,854.33 108.7,854.51 108.9,854.41 109.1,854.35 109.3,854.50 109.5,854.98 109.7,854.46 109.9,854.66 110.1,854.27 110.3,854.65 110.5,854.55 110.7,854.59 110.9,854.26 111.1,854.63 111.3,854.74 111.5,854.60 111.7,854.79 111.9,854.64 112.1,854.68 112.3,854.61 112.5,854.20 112.7,854.78 112.9,854.67 113.1,854.73 113.3,854.51 113.5,854.97 113.7,854.85 113.9,854.69 114.1,854.54 114.3,854.69 114.5,854.80 114.7,854.89 114.9,854.55 115.1,854.31 115.3,854.59 115.5,854.63 115.7,854.56 115.9,854.91 116.1,854.75 116.3,854.74 116.5,854.60 116.7,854.68 116.9,854.98 117.1,854.39 117.3,854.25 117.5,854.74 117.7,854.57 117.9,854.61 118.1,854.48 118.3,855.04 118.5,854.27 118.7,854.79 118.9,854.36 119.1,854.65 119.3,854.77 119.5,854.71 119.7,854.45 119.9,854.89 120.1,854.77 120.3,854.79 120.5,855.10 120.7,854.35 120.9,854.53 121.1,854.68 121.3,854.38 121.5,854.91 121.7,854.69 121.9,854.24 122.1,854.43 122.3,855.23 122.5,855.50 122.7,854.93 122.9,854.41 123.1,854.79 123.3,854.73 123.5,854.52 123.7,854.89 123.9,854.62 124.1,854.47 124.3,854.55 124.5,854.57 124.7,854.82 124.9,854.54 125.1,854.78 125.3,854.34 125.5,854.03 125.7,854.85 125.9,855.21 126.1,854.78 126.3,854.58 126.5,854.41 126.7,854.40 126.9,854.86 127.1,854.87 127.3,854.35 127.5,854.94 127.7,854.40 127.9,854.72 128.1,854.48 128.3,854.49 128.5,854.47 128.7,854.46 128.9,854.91 129.1,854.59 129.3,854.66 129.5,854.59 129.7,854.36 129.9,854.73 130.1,854.84 130.3,854.85 130.5,854.74 130.7,854.48 130.9,854.87 131.1,854.38 131.3,854.59 131.5,854.72 131.7,855.00 131.9,854.60 132.1,854.49 132.3,855.11 132.5,854.37 132.7,854.25 132.9,854.58 133.1,854.54 133.3,854.06 133.5,854.36 133.7,854.89 133.9,854.67 134.1,854.70 134.3,854.70 134.5,855.25 134.7,854.47 134.9,854.82 135.1,854.62 135.3,854.70 135.5,854.44 135.7,854.74 135.9,854.86 136.1,854.53 136.3,854.31 136.5,854.74 136.7,854.32 136.9,854.59 137.1,854.79 137.3,854.28 137.5,854.86 137.7,854.40 137.9,854.78 138.1,854.55 138.3,854.97 138.5,854.87 138.7,854.39 138.9,854.61 139.1,854.65 139.3,854.77 139.5,854.54 139.7,855.00 139.9,854.94 140.1,854.69 140.3,854.86 140.5,854.83 140.7,854.67 140.9,854.69 141.1,854.71 141.3,854.24 141.5,854.40 141.7,854.34 141.9,854.66 142.1,854.78 142.3,855.01 142.5,854.74 142.7,855.17 142.9,854.80 143.1,854.46 143.3,854.24 143.5,854.41 143.7,854.86 143.9,854.52 144.1,854.84 144.3,854.44 144.5,854.67 144.7,854.43 144.9,854.00 145.1,854.41 145.3,854.06 145.5,854.60 145.7,854.72 145.9,854.31 146.1,854.21 146.3,854.78 146.5,854.62 146.7,855.00 146.9,854.69 147.1,854.42 147.3,854.66 147.5,854.78 147.7,854.99 147.9,854.54 148.1,854.43 148.3,854.48 148.5,854.57 148.7,854.95 148.9,854.19 149.1,854.64 149.3,854.67 149.5,854.45 149.7,855.17 149.9,854.64 150.1,854.66 150.3,854.53 150.5,854.29 150.7,854.50 150.9,855.08 151.1,854.70 151.3,854.57 151.5,854.58 151.7,854.94 151.9,855.03 152.1,854.48 152.3,854.53 152.5,854.62 152.7,855.04 152.9,854.16 153.1,855.33 153.3,854.70 153.5,854.08 153.7,854.64 153.9,854.54 154.1,854.89 154.3,854.26 154.5,854.92 154.7,854.53 154.9,854.56 155.1,854.85 155.3,854.36 155.5,854.94 155.7,854.75 155.9,854.58 156.1,854.68 156.3,854.45 156.5,854.34 156.7,854.64 156.9,854.70 157.1,854.69 157.3,854.65 157.5,854.35 157.7,854.60 157.9,854.44 158.1,854.56 158.3,854.75 158.5,854.31 158.7,854.78 158.9,854.52 159.1,854.14 159.3,854.78 159.5,854.52 159.7,854.89 159.9,854.62 160.1,854.86 160.3,854.56 160.5,854.60 160.7,854.42 160.9,854.05 161.1,854.37 161.3,854.26 161.5,854.43 161.7,854.47 161.9,854.60 162.1,854.83 162.3,854.35 162.5,853.94 162.7,854.21 162.9,854.44 163.1,853.88 163.3,854.37 163.5,854.40 163.7,854.52 163.9,854.42 164.1,854.21 164.3,853.61 164.5,854.12 164.7,854.27 164.9,854.11 165.1,853.94 165.3,854.24 165.5,853.68 165.7,853.41 165.9,853.35 166.1,853.08 166.3,853.24 166.5,852.72 166.7,850.20 166.9,845.28 167.1,836.25 167.3,825.51 167.5,825.38 167.7,835.19 167.9,844.57 168.1,849.29 168.3,850.41 168.5,850.46 168.7,850.11 168.9,849.83 169.1,848.82 169.3,845.52 169.5,839.04 169.7,822.80 169.9,790.84 170.1,739.35 170.3,676.50"/><polyline class="sp" points="171.7,676.50 171.7,718.89 171.9,768.34 172.1,806.13 172.3,829.95 172.5,841.46 172.7,846.43 172.9,847.98 173.1,848.94 173.3,848.17 173.5,845.91 173.7,839.27 173.9,828.94 174.1,817.99 174.3,812.26 174.5,818.33 174.7,829.70 174.9,840.84 175.1,847.89 175.3,850.33 175.5,852.08 175.7,852.91 175.9,853.16 176.1,853.64 176.3,853.46 176.5,853.83 176.7,853.31 176.9,853.61 177.1,854.27 177.3,854.30 177.5,854.13 177.7,854.52 177.9,854.11 178.1,854.14 178.3,854.36 178.5,854.33 178.7,854.10 178.9,853.90 179.1,853.90 179.3,854.29 179.5,854.10 179.7,854.52 179.9,854.25 180.1,854.61 180.3,854.20 180.5,854.70 180.7,854.65 180.9,854.42 181.1,854.29 181.3,854.80 181.5,854.58 181.7,854.42 181.9,854.41 182.1,854.68 182.3,854.46 182.5,854.56 182.7,854.14 182.9,854.36 183.1,854.84 183.3,855.06 183.5,854.49 183.7,854.23 183.9,854.48 184.1,854.31 184.3,854.66 184.5,854.88 184.7,854.36 184.9,854.52 185.1,854.38 185.3,854.90 185.5,854.51 185.7,854.72 185.9,854.36 186.1,854.71 186.3,854.72 186.5,854.72 186.7,854.26 186.9,854.57 187.1,854.77 187.3,854.84 187.5,854.85 187.7,854.22 187.9,855.04 188.1,854.80 188.3,854.43 188.5,854.30 188.7,854.63 188.9,854.40 189.1,854.41 189.3,854.35 189.5,854.59 189.7,854.19 189.9,854.55 190.1,854.22 190.3,854.88 190.5,854.37 190.7,854.92 190.9,854.98 191.1,854.48 191.3,854.81 191.5,854.50 191.7,854.88 191.9,854.21 192.1,854.61 192.3,854.89 192.5,854.57 192.7,854.39 192.9,854.80 193.1,854.48 193.3,854.10 193.5,854.39 193.7,854.61 193.9,854.75 194.1,854.47 194.3,854.99 194.5,855.37 194.7,854.78 194.9,854.89 195.1,854.18 195.3,854.58 195.5,854.86 195.7,854.91 195.9,854.49 196.1,854.82 196.3,854.76 196.5,854.64 196.7,854.60 196.9,854.59 197.1,854.59 197.3,854.29 197.5,854.19 197.7,855.03 197.9,853.97 198.1,854.59 198.3,854.31 198.5,854.80 198.7,854.54 198.9,854.57 199.1,854.59 199.3,854.41 199.5,854.46 199.7,854.87 199.9,854.65 200.1,854.44 200.3,854.45 200.5,854.71 200.7,854.69 200.9,854.66 201.1,854.90 201.3,854.95 201.5,854.23 201.7,854.72 201.9,854.60 202.1,854.81 202.3,854.30 202.5,854.19 202.7,854.68 202.9,854.50 203.1,854.81 203.3,854.19 203.5,854.40 203.7,854.84 203.9,854.31 204.1,854.54 204.3,854.52 204.5,854.54 204.7,854.80 204.9,854.76 205.1,854.47 205.3,854.64 205.5,854.87 205.7,854.12 205.9,854.68 206.1,854.77 206.3,854.80 206.5,854.46 206.7,854.39 206.9,854.57 207.1,854.41 207.3,855.01 207.5,854.72 207.7,854.75 207.9,854.63 208.1,854.51 208.3,855.14 208.5,853.85 208.7,854.85 208.9,854.55 209.1,854.43 209.3,854.42 209.5,854.57 209.7,855.36 209.9,854.91 210.1,854.45 210.3,854.87 210.5,854.90 210.7,855.23 210.9,854.33 211.1,854.51 211.3,854.86 211.5,854.67 211.7,854.67 211.9,854.92 212.1,854.71 212.3,854.58 212.5,854.51 212.7,854.33 212.9,854.64 213.1,854.76 213.3,854.55 213.5,854.80 213.7,854.96 213.9,854.36 214.1,854.74 214.3,854.62 214.5,854.49 214.7,854.92 214.9,854.49 215.1,854.54 215.3,854.67 215.5,854.55 215.7,854.84 215.9,855.20 216.1,854.72 216.3,854.88 216.5,854.43 216.7,854.58 216.9,854.78 217.1,854.64 217.3,854.31 217.5,854.37 217.7,854.56 217.9,854.54 218.1,854.72 218.3,854.68 218.5,854.50 218.7,854.68 218.9,854.57 219.1,854.93 219.3,855.07 219.5,855.07 219.7,854.76 219.9,854.32 220.1,854.35 220.3,854.90 220.5,855.04 220.7,854.45 220.9,854.53 221.1,854.99 221.3,854.39 221.5,854.61 221.7,854.32 221.9,854.56 222.1,854.43 222.3,854.57 222.5,854.89 222.7,854.71 222.9,854.82 223.1,854.44 223.3,854.90 223.5,855.03 223.7,854.48 223.9,854.36 224.1,854.29 224.3,854.38 224.5,855.03 224.7,854.83 224.9,854.79 225.1,854.66 225.3,855.19 225.5,854.65 225.7,854.58 225.9,854.89 226.1,854.62 226.3,854.35 226.5,854.64 226.7,854.39 226.9,854.40 227.1,854.55 227.3,854.56 227.5,854.74 227.7,854.34 227.9,854.77 228.1,854.83 228.3,854.48 228.5,854.83 228.7,854.55 228.9,854.39 229.1,854.63 229.3,854.63 229.5,854.42 229.7,854.46 229.9,855.04 230.1,854.98 230.3,854.32 230.5,854.55 230.7,855.17 230.9,854.99 231.1,854.64 231.3,854.90 231.5,854.53 231.7,854.63 231.9,854.53 232.1,854.94 232.3,854.49 232.5,854.16 232.7,854.85 232.9,854.32 233.1,854.40 233.3,854.49 233.5,854.67 233.7,854.94 233.9,854.87 234.1,854.46 234.3,854.40 234.5,854.34 234.7,854.41 234.9,854.42 235.1,854.76 235.3,854.95 235.5,854.60 235.7,854.52 235.9,854.63 236.1,855.03 236.3,854.78 236.5,855.02 236.7,854.61 236.9,854.91 237.1,854.69 237.3,854.57 237.5,854.61 237.7,854.31 237.9,854.92 238.1,855.19 238.3,854.41 238.5,854.30 238.7,854.29 238.9,854.58 239.1,854.51 239.3,854.62 239.5,854.97 239.7,854.79 239.9,854.52 240.1,854.79 240.3,854.17 240.5,855.03 240.7,854.75 240.9,854.37 241.1,854.80 241.3,854.93 241.5,854.99 241.7,854.83 241.9,854.27 242.1,854.54 242.3,854.52 242.5,854.78 242.7,854.43 242.9,854.62 243.1,854.88 243.3,854.76 243.5,854.59 243.7,854.35 243.9,854.66 244.1,854.52 244.3,854.14 244.5,854.84 244.7,854.95 244.9,854.40 245.1,854.53 245.3,854.67 245.5,854.58 245.7,854.73 245.9,854.51 246.1,854.73 246.3,854.44 246.5,854.94 246.7,854.85 246.9,854.61 247.1,854.76 247.3,854.47 247.5,854.65 247.7,854.78 247.9,854.59 248.1,854.77 248.3,855.03 248.5,854.93 248.7,854.84 248.9,854.76 249.1,854.62 249.3,854.41 249.5,854.50 249.7,854.20 249.9,854.32 250.1,854.69 250.3,854.23 250.5,854.35 250.7,854.75 250.9,854.56 251.1,854.37 251.3,854.58 251.5,854.39 251.7,854.54 251.9,854.46 252.1,854.72 252.3,854.54 252.5,854.73 252.7,854.47 252.9,855.06 253.1,854.56 253.3,854.33 253.5,854.49 253.7,854.65 253.9,854.50 254.1,854.85 254.3,854.85 254.5,854.73 254.7,854.68 254.9,854.40 255.1,854.86 255.3,854.39 255.5,855.03 255.7,854.84 255.9,854.65 256.1,854.35 256.3,854.79 256.5,855.17 256.7,854.53 256.9,854.65 257.1,854.91 257.3,854.90 257.5,854.81 257.7,854.61 257.9,854.47 258.1,855.01 258.3,854.07 258.5,854.65 258.7,854.73 258.9,854.47 259.1,854.61 259.3,854.05 259.5,854.36 259.7,854.73 259.9,854.74 260.1,854.76 260.3,854.72 260.5,854.47 260.7,854.80 260.9,854.23 261.1,854.66 261.3,854.67 261.5,854.40 261.7,855.13 261.9,854.87 262.1,854.49 262.3,854.63 262.5,854.64 262.7,854.54 262.9,854.79 263.1,854.68 263.3,854.98 263.5,855.11 263.7,854.32 263.9,854.87 264.1,854.82 264.3,854.29 264.5,854.37 264.7,854.77 264.9,854.77 265.1,854.66 265.3,854.88 265.5,854.50 265.7,854.60 265.9,854.60 266.1,854.45 266.3,854.46 266.5,854.18 266.7,854.26 266.9,855.06 267.1,854.41 267.3,854.92 267.5,854.99 267.7,854.46 267.9,854.81 268.1,854.71 268.3,854.37 268.5,854.80 268.7,854.86 268.9,854.55 269.1,854.33 269.3,854.50 269.5,855.02 269.7,854.80 269.9,854.67 270.1,854.15 270.3,854.41 270.5,854.42 270.7,854.33 270.9,854.71 271.1,854.51 271.3,854.51 271.5,854.88 271.7,854.64 271.9,854.49 272.1,854.90 272.3,854.43 272.5,854.44 272.7,854.37 272.9,854.83 273.1,854.61 273.3,854.27 273.5,854.43 273.7,854.83 273.9,854.58 274.1,854.28 274.3,854.65 274.5,854.54 274.7,853.99 274.9,854.64 275.1,854.66 275.3,854.88 275.5,854.80 275.7,854.26 275.9,854.67 276.1,854.93 276.3,854.86 276.5,854.63 276.7,854.44 276.9,854.82 277.1,854.45 277.3,854.75 277.5,854.54 277.7,854.50 277.9,854.48 278.1,854.74 278.3,854.68 278.5,854.51 278.7,854.96 278.9,854.59 279.1,854.51 279.3,854.37 279.5,854.64 279.7,854.68 279.9,854.60 280.1,854.82 280.3,854.69 280.5,854.53 280.7,854.56 280.9,854.90 281.1,854.72 281.3,855.16 281.5,854.44 281.7,854.77 281.9,854.58 282.1,854.91 282.3,854.66 282.5,854.52 282.7,854.39 282.9,854.98 283.1,854.43 283.3,854.68 283.5,854.83 283.7,854.52 283.9,854.71 284.1,854.71 284.3,854.81 284.5,854.58 284.7,854.63 284.9,854.68 285.1,854.87 285.3,854.76 285.5,854.54 285.7,854.32 285.9,854.64 286.1,854.28 286.3,854.64 286.5,854.91 286.7,854.48 286.9,854.88 287.1,854.53 287.3,854.37 287.5,854.71 287.7,854.65 287.9,854.02 288.1,854.57 288.3,854.57 288.5,854.44 288.7,854.66 288.9,854.65 289.1,854.54 289.3,855.23 289.5,854.28 289.7,854.90 289.9,854.90 290.1,854.49 290.3,854.62 290.5,854.94 290.7,854.57 290.9,854.91 291.1,854.80 291.3,855.00 291.5,854.83 291.7,854.53 291.9,854.59 292.1,854.55 292.3,854.39 292.5,854.63 292.7,854.79 292.9,854.69 293.1,854.21 293.3,854.61 293.5,854.54 293.7,854.64 293.9,854.56 294.1,854.51 294.3,854.62 294.5,854.66 294.7,854.81 294.9,854.83 295.1,854.51 295.3,854.43 295.5,854.38 295.7,854.60 295.9,854.82 296.1,854.45 296.3,854.46 296.5,854.98 296.7,854.41 296.9,854.46 297.1,854.19 297.3,854.89 297.5,854.92 297.7,854.41 297.9,855.05 298.1,854.78 298.3,854.87 298.5,854.85 298.7,855.07 298.9,854.66 299.1,854.35 299.3,854.48 299.5,854.48 299.7,854.68 299.9,854.23 300.1,854.46 300.3,854.32 300.5,854.97 300.7,854.50 300.9,854.86 301.1,854.49 301.3,854.53 301.5,854.85 301.7,854.53 301.9,854.28 302.1,854.44 302.3,854.42 302.5,854.77 302.7,854.73 302.9,854.83 303.1,854.52 303.3,854.25 303.5,854.43 303.7,854.54 303.9,854.81 304.1,854.42 304.3,854.59 304.5,855.00 304.7,854.95 304.9,854.59 305.1,854.73 305.3,854.09 305.5,854.48 305.7,854.74 305.9,854.59 306.1,854.07 306.3,854.69 306.5,854.25 306.7,854.32 306.9,854.05 307.1,854.27 307.3,854.48 307.5,854.23 307.7,854.32 307.9,854.07 308.1,854.30 308.3,853.76 308.5,854.24 308.7,854.05 308.9,854.27 309.1,854.00 309.3,853.94 309.5,853.79 309.7,853.44 309.9,853.51 310.1,852.97 310.3,850.99 310.5,848.08 310.7,842.30 310.9,833.64 311.1,825.56 311.3,822.31 311.5,823.70 311.7,827.97 311.9,830.00 312.1,827.71 312.3,822.02 312.5,819.85 312.7,822.32 312.9,827.20 313.1,829.57 313.3,826.92 313.5,821.85 313.7,819.66 313.9,822.60 314.1,829.34 314.3,833.25 314.5,831.69 314.7,826.94 314.9,821.93 315.1,822.94 315.3,829.48 315.5,838.11 315.7,845.29 315.9,849.95 316.1,852.12 316.3,852.92 316.5,853.20 316.7,853.68 316.9,853.67 317.1,853.70 317.3,854.27 317.5,854.45 317.7,853.71 317.9,853.82 318.1,854.17 318.3,854.12 318.5,854.47 318.7,854.59 318.9,854.19 319.1,854.65 319.3,854.06 319.5,854.47 319.7,854.24 319.9,853.83 320.1,853.85 320.3,854.39 320.5,854.06 320.7,854.58 320.9,854.47 321.1,854.24 321.3,853.98 321.5,854.47 321.7,854.19 321.9,854.30 322.1,854.63 322.3,854.35 322.5,853.94 322.7,854.33 322.9,854.17 323.1,854.08 323.3,854.46 323.5,853.97 323.7,853.89 323.9,853.85 324.1,853.91 324.3,854.34 324.5,854.36 324.7,854.39 324.9,854.41 325.1,854.36 325.3,853.90 325.5,853.76 325.7,854.26 325.9,853.88 326.1,854.37 326.3,854.11 326.5,854.24 326.7,854.37 326.9,853.91 327.1,853.86 327.3,853.94 327.5,853.92 327.7,853.98 327.9,853.71 328.1,853.76 328.3,853.48 328.5,853.76 328.7,853.31 328.9,853.14 329.1,852.84 329.3,852.76 329.5,852.82 329.7,852.87 329.9,852.95 330.1,852.27 330.3,851.64 330.5,851.26 330.7,851.92 330.9,851.00 331.1,850.25 331.3,849.49 331.5,847.68 331.7,845.09 331.9,840.52 332.1,832.13 332.3,818.77 332.5,797.44 332.7,767.63 332.9,729.41 333.1,687.62 333.3,676.50"/><polyline class="sp" points="334.3,676.50 334.3,687.11 334.5,729.41 334.7,766.85 334.9,797.02 335.1,818.02 335.3,832.13 335.5,840.37 335.7,844.71 335.9,847.59 336.1,848.88 336.3,849.99 336.5,850.28 336.7,850.70 336.9,851.89 337.1,851.54 337.3,852.17 337.5,852.39 337.7,852.73 337.9,852.70 338.1,853.31 338.3,853.34 338.5,853.47 338.7,853.31 338.9,853.24 339.1,853.37 339.3,853.53 339.5,853.84 339.7,854.19 339.9,853.71 340.1,853.82 340.3,853.81 340.5,853.59 340.7,854.03 340.9,854.07 341.1,854.63 341.3,853.94 341.5,854.12 341.7,854.32 341.9,854.06 342.1,854.44 342.3,854.33 342.5,853.73 342.7,854.05 342.9,854.02 343.1,854.08 343.3,854.12 343.5,854.25 343.7,853.74 343.9,854.34 344.1,854.15 344.3,854.40 344.5,854.44 344.7,854.97 344.9,854.85 345.1,853.99 345.3,854.02 345.5,854.51 345.7,854.41 345.9,854.26 346.1,854.67 346.3,853.98 346.5,854.69 346.7,854.62 346.9,855.13 347.1,854.07 347.3,854.44 347.5,854.05 347.7,854.71 347.9,854.38 348.1,854.45 348.3,854.42 348.5,853.95 348.7,853.90 348.9,854.13 349.1,854.57 349.3,854.24 349.5,854.12 349.7,854.31 349.9,854.29 350.1,854.27 350.3,854.50 350.5,853.75 350.7,852.18 350.9,851.21 351.1,850.95 351.3,852.38 351.5,854.17 351.7,854.33 351.9,854.84 352.1,854.61 352.3,854.83 352.5,854.72 352.7,854.63 352.9,854.59 353.1,854.58 353.3,855.13 353.5,854.14 353.7,854.61 353.9,854.82 354.1,854.70 354.3,854.47 354.5,854.80 354.7,854.66 354.9,854.67 355.1,854.42 355.3,854.75 355.5,854.45 355.7,854.48 355.9,854.60 356.1,854.26 356.3,854.56 356.5,854.86 356.7,854.50 356.9,854.54 357.1,854.58 357.3,854.52 357.5,853.99 357.7,854.52 357.9,854.46 358.1,854.64 358.3,854.25 358.5,854.59 358.7,854.78 358.9,854.89 359.1,854.45 359.3,854.40 359.5,854.98 359.7,854.77 359.9,854.43 360.1,854.33 360.3,854.92 360.5,854.69 360.7,854.38 360.9,854.72 361.1,854.70 361.3,854.73 361.5,854.92 361.7,854.58 361.9,854.52 362.1,854.94 362.3,854.57 362.5,854.32 362.7,854.54 362.9,854.36 363.1,854.73 363.3,854.25 363.5,854.79 363.7,854.13 363.9,854.71 364.1,854.78 364.3,854.82 364.5,854.70 364.7,854.72 364.9,854.77 365.1,854.68 365.3,854.43 365.5,854.38 365.7,854.69 365.9,854.29 366.1,854.85 366.3,854.86 366.5,854.89 366.7,854.45 366.9,854.99 367.1,854.95 367.3,854.28 367.5,854.18 367.7,854.27 367.9,854.98 368.1,854.60 368.3,854.40 368.5,854.58 368.7,855.01 368.9,854.69 369.1,855.03 369.3,854.92 369.5,854.07 369.7,854.44 369.9,854.98 370.1,854.98 370.3,854.50 370.5,854.76 370.7,854.47 370.9,854.77 371.1,854.66 371.3,854.55 371.5,854.87 371.7,855.09 371.9,854.91 372.1,854.79 372.3,854.66 372.5,854.63 372.7,854.63 372.9,854.48 373.1,854.84 373.3,854.26 373.5,854.11 373.7,854.52 373.9,854.57 374.1,854.30 374.3,854.45 374.5,854.57 374.7,854.66 374.9,854.80 375.1,854.91 375.3,854.45 375.5,854.32 375.7,854.88 375.9,854.63 376.1,854.56 376.3,854.72 376.5,854.81 376.7,854.71 376.9,855.11 377.1,854.63 377.3,854.69 377.5,854.09 377.7,854.38 377.9,854.70 378.1,854.62 378.3,854.19 378.5,854.22 378.7,854.57 378.9,854.65 379.1,854.98 379.3,854.70 379.5,854.66 379.7,854.80 379.9,854.19 380.1,855.09 380.3,854.65 380.5,854.52 380.7,854.51 380.9,854.20 381.1,854.97 381.3,854.81 381.5,854.59 381.7,854.59 381.9,854.71 382.1,854.81 382.3,854.35 382.5,854.88 382.7,854.76 382.9,854.26 383.1,854.18 383.3,854.40 383.5,854.83 383.7,854.83 383.9,854.84 384.1,854.90 384.3,854.72 384.5,854.30 384.7,854.56 384.9,854.81 385.1,854.81 385.3,854.91 385.5,854.32 385.7,855.12 385.9,854.55 386.1,854.98 386.3,854.88 386.5,854.99 386.7,854.38 386.9,854.64 387.1,853.94 387.3,854.88 387.5,854.89 387.7,854.47 387.9,854.48 388.1,854.69 388.3,855.13 388.5,854.26 388.7,854.48 388.9,854.52 389.1,854.77 389.3,854.46 389.5,854.76 389.7,854.61 389.9,854.67 390.1,854.31 390.3,854.74 390.5,854.71 390.7,854.35 390.9,854.57 391.1,854.63 391.3,854.69 391.5,854.39 391.7,854.79 391.9,854.51 392.1,854.12 392.3,854.53 392.5,854.82 392.7,854.93 392.9,854.59 393.1,854.93 393.3,855.03 393.5,854.82 393.7,854.90 393.9,854.41 394.1,854.99 394.3,854.23 394.5,854.82 394.7,854.60 394.9,854.46 395.1,854.57 395.3,854.45 395.5,854.88 395.7,855.20 395.9,854.68 396.1,855.05 396.3,854.78 396.5,854.39 396.7,854.68 396.9,854.78 397.1,854.91 397.3,854.70 397.5,854.67 397.7,855.03 397.9,854.56 398.1,854.90 398.3,854.58 398.5,854.74 398.7,854.38 398.9,854.42 399.1,854.63 399.3,854.66 399.5,854.52 399.7,854.28 399.9,854.36 400.1,854.59 400.3,854.55 400.5,854.23 400.7,855.03 400.9,854.49 401.1,854.85 401.3,854.28 401.5,854.75 401.7,854.65 401.9,854.89 402.1,854.62 402.3,854.42 402.5,854.20 402.7,854.93 402.9,854.73 403.1,853.64 403.3,854.38 403.5,854.62 403.7,854.48 403.9,855.28 404.1,854.21 404.3,854.57 404.5,854.97 404.7,854.32 404.9,854.77 405.1,854.87 405.3,854.48 405.5,854.51 405.7,854.72 405.9,854.63 406.1,854.94 406.3,854.97 406.5,854.38 406.7,854.28 406.9,854.50 407.1,854.51 407.3,854.71 407.5,854.64 407.7,854.84 407.9,854.17 408.1,854.75 408.3,854.50 408.5,854.61 408.7,854.96 408.9,854.12 409.1,854.70 409.3,854.80 409.5,854.58 409.7,854.83 409.9,854.60 410.1,854.84 410.3,854.46 410.5,854.59 410.7,854.95 410.9,854.34 411.1,854.56 411.3,854.88 411.5,854.51 411.7,854.50 411.9,854.14 412.1,854.82 412.3,854.39 412.5,854.62 412.7,854.45 412.9,854.67 413.1,854.61 413.3,854.48 413.5,854.90 413.7,855.13 413.9,854.60 414.1,854.71 414.3,854.58 414.5,854.44 414.7,854.65 414.9,854.30 415.1,854.61 415.3,854.57 415.5,854.39 415.7,854.45 415.9,854.62 416.1,854.56 416.3,854.78 416.5,854.75 416.7,854.57 416.9,854.39 417.1,854.70 417.3,854.38 417.5,854.10 417.7,854.05 417.9,854.58 418.1,854.32 418.3,854.43 418.5,854.39 418.7,854.38 418.9,854.45 419.1,854.38 419.3,854.54 419.5,854.65 419.7,854.52 419.9,854.46 420.1,854.27 420.3,854.49 420.5,854.39 420.7,854.22 420.9,854.81 421.1,854.64 421.3,854.44 421.5,854.57 421.7,854.83 421.9,854.33 422.1,854.60 422.3,854.83 422.5,854.10 422.7,854.90 422.9,854.58 423.1,854.75 423.3,854.55 423.5,854.44 423.7,854.78 423.9,854.60 424.1,854.61 424.3,854.83 424.5,854.28 424.7,854.53 424.9,854.65 425.1,854.74 425.3,854.66 425.5,854.54 425.7,854.69 425.9,854.26 426.1,855.21 426.3,855.11 426.5,854.64 426.7,855.03 426.9,854.59 427.1,854.74 427.3,854.43 427.5,854.47 427.7,854.24 427.9,854.34 428.1,854.26 428.3,854.44 428.5,854.30 428.7,854.44 428.9,854.72 429.1,854.88 429.3,854.87 429.5,854.45 429.7,855.16 429.9,854.52 430.1,854.75 430.3,854.38 430.5,854.51 430.7,854.75 430.9,854.56 431.1,855.13 431.3,854.49 431.5,854.44 431.7,855.02 431.9,854.35 432.1,854.59 432.3,854.52 432.5,854.91 432.7,854.41 432.9,854.41 433.1,854.56 433.3,854.80 433.5,854.36 433.7,854.24 433.9,854.45 434.1,854.30 434.3,854.70 434.5,854.51 434.7,854.45 434.9,854.51 435.1,853.84 435.3,854.44 435.5,854.68 435.7,854.34 435.9,854.81 436.1,854.45 436.3,854.35 436.5,854.66 436.7,854.62 436.9,854.77 437.1,854.50 437.3,854.70 437.5,854.10 437.7,854.37 437.9,854.58 438.1,854.88 438.3,854.02 438.5,854.20 438.7,854.41 438.9,854.47 439.1,854.48 439.3,854.64 439.5,854.05 439.7,854.47 439.9,854.88 440.1,854.68 440.3,855.16 440.5,854.35 440.7,854.32 440.9,854.07 441.1,853.99 441.3,854.71 441.5,854.40 441.7,854.26 441.9,854.31 442.1,854.63 442.3,854.30 442.5,854.38 442.7,854.16 442.9,854.51 443.1,854.56 443.3,854.63 443.5,854.59 443.7,854.69 443.9,854.58 444.1,854.37 444.3,854.38 444.5,854.16 444.7,854.22 444.9,854.34 445.1,854.78 445.3,854.35 445.5,854.20 445.7,854.81 445.9,854.77 446.1,854.72 446.3,854.74 446.5,854.56 446.7,854.72 446.9,854.38 447.1,854.78 447.3,854.51 447.5,854.60 447.7,854.72 447.9,854.21 448.1,854.46 448.3,854.33 448.5,854.55 448.7,854.29 448.9,854.31 449.1,854.50 449.3,854.90 449.5,854.25 449.7,854.28 449.9,854.40 450.1,854.39 450.3,854.41 450.5,854.39 450.7,854.69 450.9,854.45 451.1,854.35 451.3,854.58 451.5,854.67 451.7,853.96 451.9,854.27 452.1,854.49 452.3,854.53 452.5,855.07 452.7,854.76 452.9,854.46 453.1,854.07 453.3,854.91 453.5,854.56 453.7,853.90 453.9,854.21 454.1,854.27 454.3,854.07 454.5,854.39 454.7,854.40 454.9,854.17 455.1,854.13 455.3,854.61 455.5,853.95 455.7,854.76 455.9,854.50 456.1,853.55 456.3,854.44 456.5,854.14 456.7,854.54 456.9,854.36 457.1,854.46 457.3,854.37 457.5,854.09 457.7,853.81 457.9,854.02 458.1,853.84 458.3,854.34 458.5,853.84 458.7,854.05 458.9,853.84 459.1,854.27 459.3,854.21 459.5,853.80 459.7,853.97 459.9,854.08 460.1,854.26 460.3,854.10 460.5,853.93 460.7,853.85 460.9,854.15 461.1,854.07 461.3,853.85 461.5,854.21 461.7,853.67 461.9,853.88 462.1,853.88 462.3,854.41 462.5,854.17 462.7,853.99 462.9,853.83 463.1,853.91 463.3,853.49 463.5,853.49 463.7,853.52 463.9,853.89 464.1,852.95 464.3,853.27 464.5,852.95 464.7,853.14 464.9,852.83 465.1,852.48 465.3,852.37 465.5,851.88 465.7,851.73 465.9,850.55 466.1,850.57 466.3,848.82 466.5,846.37 466.7,843.77 466.9,839.86 467.1,835.07 467.3,828.02 467.5,821.44 467.7,812.78 467.9,804.63 468.1,796.79 468.3,790.28 468.5,786.34 468.7,783.64 468.9,781.26 469.1,777.59 469.3,769.47 469.5,759.79 469.7,751.78 469.9,752.11 470.1,759.70 470.3,769.86 470.5,777.21 470.7,781.48 470.9,783.20 471.1,786.32 471.3,791.25 471.5,796.77 471.7,804.63 471.9,812.96 472.1,820.12 472.3,828.07 472.5,834.66 472.7,839.56 472.9,843.22 473.1,846.24 473.3,847.90 473.5,849.32 473.7,850.70 473.9,851.09 474.1,851.34 474.3,851.86 474.5,852.06 474.7,851.85 474.9,852.05 475.1,852.58 475.3,852.42 475.5,852.42 475.7,852.36 475.9,852.52 476.1,852.00 476.3,852.55 476.5,852.55 476.7,852.17 476.9,852.70 477.1,852.29 477.3,851.74 477.5,852.04 477.7,851.66 477.9,850.84 478.1,850.54 478.3,850.04 478.5,849.18 478.7,848.35 478.9,846.70 479.1,845.01 479.3,842.00 479.5,839.54 479.7,836.06 479.9,831.42 480.1,825.84 480.3,819.54 480.5,811.56 480.7,801.89 480.9,792.27 481.1,780.48 481.3,767.37 481.5,753.60 481.7,739.95 481.9,724.96 482.1,712.01 482.3,700.93 482.5,695.82 482.7,697.15 482.9,702.49 483.1,706.07 483.3,700.34 483.5,684.26 483.7,676.50"/><polyline class="sp" points="484.7,676.50 484.7,680.61 484.9,694.15 485.1,708.54 485.3,724.01 485.5,739.09 485.7,753.87 485.9,767.37 486.1,780.09 486.3,792.37 486.5,801.90 486.7,811.08 486.9,818.67 487.1,826.16 487.3,831.51 487.5,836.11 487.7,840.17 487.9,843.04 488.1,845.43 488.3,846.90 488.5,848.34 488.7,849.21 488.9,850.48 489.1,851.37 489.3,851.39 489.5,851.78 489.7,851.99 489.9,852.07 490.1,852.71 490.3,852.51 490.5,853.08 490.7,852.90 490.9,852.85 491.1,853.14 491.3,853.12 491.5,853.59 491.7,853.47 491.9,853.32 492.1,853.71 492.3,853.68 492.5,852.90 492.7,853.48 492.9,853.80 493.1,853.89 493.3,853.32 493.5,854.40 493.7,853.82 493.9,853.61 494.1,853.94 494.3,853.70 494.5,854.12 494.7,853.88 494.9,853.89 495.1,853.92 495.3,853.91 495.5,853.96 495.7,853.70 495.9,854.07 496.1,854.17 496.3,854.11 496.5,854.13 496.7,854.45 496.9,854.56 497.1,854.43 497.3,854.03 497.5,854.28 497.7,854.23 497.9,853.42 498.1,853.87 498.3,854.21 498.5,854.33 498.7,853.83 498.9,854.38 499.1,853.89 499.3,854.06 499.5,853.86 499.7,854.40 499.9,854.00 500.1,854.68 500.3,854.28 500.5,853.97 500.7,854.07 500.9,854.71 501.1,854.09 501.3,854.15 501.5,854.29 501.7,854.45 501.9,854.35 502.1,854.42 502.3,854.05 502.5,854.17 502.7,854.02 502.9,854.12 503.1,854.62 503.3,854.27 503.5,853.77 503.7,854.58 503.9,854.24 504.1,854.50 504.3,854.53 504.5,854.26 504.7,854.08 504.9,854.12 505.1,854.20 505.3,854.08 505.5,854.72 505.7,854.11 505.9,854.21 506.1,854.36 506.3,854.32 506.5,854.53 506.7,854.02 506.9,854.50 507.1,854.68 507.3,854.31 507.5,854.45 507.7,854.32 507.9,853.92 508.1,854.33 508.3,854.27 508.5,853.73 508.7,854.64 508.9,854.19 509.1,853.99 509.3,853.90 509.5,853.71 509.7,854.43 509.9,854.11 510.1,854.28 510.3,854.36 510.5,854.42 510.7,854.60 510.9,854.14 511.1,854.03 511.3,854.48 511.5,854.01 511.7,854.33 511.9,854.44 512.1,854.83 512.3,853.88 512.5,853.96 512.7,854.21 512.9,854.21 513.1,854.43 513.3,853.95 513.5,854.08 513.7,853.91 513.9,853.98 514.1,854.35 514.3,854.37 514.5,853.84 514.7,854.34 514.9,853.82 515.1,853.62 515.3,854.13 515.5,853.59 515.7,853.70 515.9,853.52 516.1,853.75 516.3,853.51 516.5,853.30 516.7,852.84 516.9,852.97 517.1,852.86 517.3,853.10 517.5,852.43 517.7,852.36 517.9,851.81 518.1,851.24 518.3,850.49 518.5,849.89 518.7,849.16 518.9,848.26 519.1,846.80 519.3,846.10 519.5,844.45 519.7,842.55 519.9,841.26 520.1,839.20 520.3,837.30 520.5,835.11 520.7,833.42 520.9,832.28 521.1,830.17 521.3,828.61 521.5,827.27 521.7,826.53 521.9,825.72 522.1,825.92 522.3,826.93 522.5,827.64 522.7,829.20 522.9,829.74 523.1,831.91 523.3,833.75 523.5,836.02 523.7,837.65 523.9,839.31 524.1,841.32 524.3,843.01 524.5,844.63 524.7,845.39 524.9,847.29 525.1,848.63 525.3,849.35 525.5,850.14 525.7,850.77 525.9,851.39 526.1,852.09 526.3,852.25 526.5,852.42 526.7,853.14 526.9,852.49 527.1,852.73 527.3,853.76 527.5,853.51 527.7,853.25 527.9,853.25 528.1,853.20 528.3,854.18 528.5,854.04 528.7,853.93 528.9,853.70 529.1,854.14 529.3,853.79 529.5,853.81 529.7,853.77 529.9,854.30 530.1,853.95 530.3,854.00 530.5,854.14 530.7,853.72 530.9,854.13 531.1,853.70 531.3,854.24 531.5,853.66 531.7,853.69 531.9,854.32 532.1,854.03 532.3,854.05 532.5,854.38 532.7,853.94 532.9,853.99 533.1,854.37 533.3,854.13 533.5,853.93 533.7,854.19 533.9,854.34 534.1,853.74 534.3,854.41 534.5,854.07 534.7,853.87 534.9,853.95 535.1,854.62 535.3,854.23 535.5,854.18 535.7,854.19 535.9,853.97 536.1,853.99 536.3,854.09 536.5,854.04 536.7,853.85 536.9,853.78 537.1,854.57 537.3,853.52 537.5,854.20 537.7,853.85 537.9,854.45 538.1,854.15 538.3,854.33 538.5,853.71 538.7,853.75 538.9,853.95 539.1,853.97 539.3,853.81 539.5,854.12 539.7,854.01 539.9,854.02 540.1,853.59 540.3,853.75 540.5,854.04 540.7,853.59 540.9,853.50 541.1,853.23 541.3,853.67 541.5,853.37 541.7,852.88 541.9,853.42 542.1,853.35 542.3,853.04 542.5,853.20 542.7,852.96 542.9,852.96 543.1,852.88 543.3,852.28 543.5,852.38 543.7,852.26 543.9,851.73 544.1,851.22 544.3,850.48 544.5,849.47 544.7,848.12 544.9,847.36 545.1,845.12 545.3,842.98 545.5,839.31 545.7,835.41 545.9,831.22 546.1,826.15 546.3,820.45 546.5,814.38 546.7,807.29 546.9,800.26 547.1,794.36 547.3,787.22 547.5,781.62 547.7,776.40 547.9,771.08 548.1,767.35 548.3,765.67 548.5,766.89 548.7,770.92 548.9,779.21 549.1,789.04 549.3,800.06 549.5,811.28 549.7,821.32 549.9,829.58 550.1,835.87 550.3,840.71 550.5,844.89 550.7,847.15 550.9,848.31 551.1,850.32 551.3,850.54 551.5,851.12 551.7,851.42 551.9,852.31 552.1,852.11 552.3,852.77 552.5,852.26 552.7,852.98 552.9,852.81 553.1,853.24 553.3,853.11 553.5,853.64 553.7,853.27 553.9,853.27 554.1,853.50 554.3,853.15 554.5,853.53 554.7,853.48 554.9,853.61 555.1,853.31 555.3,853.99 555.5,853.93 555.7,853.96 555.9,853.78 556.1,853.90 556.3,853.77 556.5,853.92 556.7,854.13 556.9,854.00 557.1,853.86 557.3,854.52 557.5,853.56 557.7,854.01 557.9,853.92 558.1,853.71 558.3,853.79 558.5,854.03 558.7,853.66 558.9,853.19 559.1,853.21 559.3,853.10 559.5,853.49 559.7,853.34 559.9,852.95 560.1,852.77 560.3,853.07 560.5,853.26 560.7,853.42 560.9,852.49 561.1,853.15 561.3,852.57 561.5,852.36 561.7,851.65 561.9,852.34 562.1,852.31 562.3,852.06 562.5,851.94 562.7,851.61 562.9,851.66 563.1,851.92 563.3,852.15 563.5,851.42 563.7,851.56 563.9,850.92 564.1,851.50 564.3,850.98 564.5,851.08 564.7,850.97 564.9,850.15 565.1,850.35 565.3,850.23 565.5,849.77 565.7,849.89 565.9,849.42 566.1,849.02 566.3,847.79 566.5,847.57 566.7,846.78 566.9,845.86 567.1,845.35 567.3,844.43 567.5,843.79 567.7,842.03 567.9,840.60 568.1,838.94 568.3,836.26 568.5,833.06 568.7,826.04 568.9,818.31 569.1,808.99 569.3,799.16 569.5,789.54 569.7,780.41 569.9,769.44 570.1,758.66 570.3,748.28 570.5,741.59 570.7,736.50 570.9,730.06 571.1,719.52 571.3,710.44 571.5,705.63 571.7,703.01 571.9,701.80 572.1,702.86 572.3,702.63 572.5,703.01 572.7,702.84 572.9,701.42 573.1,699.23 573.3,696.58 573.5,693.34 573.7,687.81 573.9,682.18 574.1,676.95 574.3,678.38 574.5,681.23 574.7,682.07 574.9,682.74 575.1,682.59 575.3,683.61 575.5,683.93 575.7,683.56 575.9,684.10 576.1,683.87 576.3,683.52 576.5,683.56 576.7,683.34 576.9,682.70 577.1,682.61 577.3,682.64 577.5,682.74 577.7,682.68 577.9,683.41 578.1,683.75 578.3,684.42 578.5,684.66 578.7,685.02 578.9,685.67 579.1,685.62 579.3,685.55 579.5,685.22 579.7,684.48 579.9,683.71 580.1,683.28 580.3,682.92 580.5,683.01 580.7,683.78 580.9,683.14 581.1,683.48 581.3,684.08 581.5,684.56 581.7,684.90 581.9,684.72 582.1,685.33 582.3,684.78 582.5,684.59 582.7,684.14 582.9,683.86 583.1,683.47 583.3,683.36 583.5,682.79 583.7,683.10 583.9,683.52 584.1,683.67 584.3,684.08 584.5,683.64 584.7,684.36 584.9,684.40 585.1,684.67 585.3,683.93 585.5,682.26 585.7,681.27 585.9,679.89 586.1,677.94 586.3,676.50"/><polyline class="sp" points="586.5,676.50 586.5,679.05 586.7,699.83 586.9,773.55 587.1,784.28 587.3,789.78 587.5,794.37 587.7,797.62 587.9,803.15 588.1,808.37 588.3,813.23 588.5,818.29 588.7,823.07 588.9,827.55 589.1,831.41 589.3,834.47 589.5,836.76 589.7,838.17 589.9,839.68 590.1,841.37 590.3,842.87 590.5,844.06 590.7,844.69 590.9,845.65 591.1,846.78 591.3,846.62 591.5,847.61 591.7,848.28 591.9,848.96 592.1,849.45 592.3,849.43 592.5,850.30 592.7,850.36 592.9,850.49 593.1,850.39 593.3,850.90 593.5,851.26 593.7,851.54 593.9,851.37 594.1,851.49 594.3,852.02 594.5,851.90 594.7,852.22 594.9,852.73 595.1,852.69 595.3,852.32 595.5,852.26 595.7,852.55 595.9,852.87 596.1,853.08 596.3,852.83 596.5,852.95 596.7,853.51 596.9,852.97 597.1,853.37 597.3,853.06 597.5,853.14 597.7,853.13 597.9,853.08 598.1,853.21 598.3,853.70 598.5,853.73 598.7,853.23 598.9,853.41 599.1,853.98 599.3,854.12 599.5,853.40 599.7,853.08 599.9,853.48 600.1,853.78 600.3,853.68 600.5,854.48 600.7,854.05 600.9,853.56 601.1,853.62 601.3,854.42 601.5,853.58 601.7,853.77 601.9,853.69 602.1,854.00 602.3,853.97 602.5,854.27 602.7,853.92 602.9,853.79 603.1,854.28 603.3,853.96 603.5,854.21 603.7,853.81 603.9,853.84 604.1,854.73 604.3,854.01 604.5,853.88 604.7,854.30 604.9,854.22 605.1,854.22 605.3,854.49 605.5,854.23 605.7,853.81 605.9,854.10 606.1,853.85 606.3,854.00 606.5,853.95 606.7,854.25 606.9,854.09 607.1,853.78 607.3,853.93 607.5,854.24 607.7,854.52 607.9,854.59 608.1,854.30 608.3,854.25 608.5,854.86 608.7,854.33 608.9,854.31 609.1,854.33 609.3,854.56 609.5,853.83 609.7,854.21 609.9,854.81 610.1,854.64 610.3,854.26 610.5,854.34 610.7,854.45 610.9,854.50 611.1,854.56 611.3,854.62 611.5,854.78 611.7,854.37 611.9,855.25 612.1,854.73 612.3,854.22 612.5,854.75 612.7,854.87 612.9,854.07 613.1,854.30 613.3,854.61 613.5,854.73 613.7,854.64 613.9,854.67 614.1,854.65 614.3,854.78 614.5,854.45 614.7,854.73 614.9,855.06 615.1,854.93 615.3,854.59 615.5,854.86 615.7,855.23 615.9,854.20 616.1,854.47 616.3,854.72 616.5,854.73 616.7,854.46 616.9,854.24 617.1,854.76 617.3,854.49 617.5,854.76 617.7,854.51 617.9,854.89 618.1,855.07 618.3,854.58 618.5,854.62 618.7,854.41 618.9,854.77 619.1,854.24 619.3,854.58 619.5,854.20 619.7,854.69 619.9,854.21 620.1,854.62 620.3,854.56 620.5,854.35 620.7,855.06 620.9,854.88 621.1,854.13 621.3,854.99 621.5,854.73 621.7,854.46 621.9,854.22 622.1,854.73 622.3,854.57 622.5,854.89 622.7,854.70 622.9,854.34 623.1,854.52 623.3,854.61 623.5,854.49 623.7,854.56 623.9,854.56 624.1,854.69 624.3,854.85 624.5,854.42 624.7,854.90 624.9,854.34 625.1,854.05 625.3,854.21 625.5,854.00 625.7,854.87 625.9,854.53 626.1,854.81 626.3,854.79 626.5,855.04 626.7,854.91 626.9,854.37 627.1,854.41 627.3,854.28 627.5,854.30 627.7,854.39 627.9,854.80 628.1,854.62 628.3,854.39 628.5,854.24 628.7,854.63 628.9,854.62 629.1,854.55 629.3,853.97 629.5,854.16 629.7,854.31 629.9,854.33 630.1,853.92 630.3,854.35 630.5,853.85 630.7,853.80 630.9,853.65 631.1,853.29 631.3,853.06 631.5,852.20 631.7,852.68 631.9,852.07 632.1,851.78 632.3,851.08 632.5,849.17 632.7,847.48 632.9,842.67 633.1,830.62 633.3,814.74 633.5,798.12 633.7,781.66 633.9,758.91 634.1,736.89 634.3,719.80 634.5,708.43 634.7,706.88 634.9,714.57 635.1,728.58 635.3,756.59 635.5,783.66 635.7,792.88 635.9,797.40 636.1,799.76 636.3,799.48 636.5,794.15 636.7,786.21 636.9,776.17 637.1,764.75 637.3,753.89 637.5,737.96 637.7,722.01 637.9,710.93 638.1,711.07 638.3,721.20 638.5,734.19 638.7,745.67 638.9,758.73 639.1,768.24 639.3,767.90 639.5,751.26 639.7,729.77 639.9,710.16 640.1,687.94 640.3,676.96 640.5,685.03 640.7,705.64 640.9,758.77 641.1,775.54 641.3,719.66 641.5,684.27 641.7,679.15 641.9,691.46 642.1,710.11 642.3,730.80 642.5,759.20 642.7,788.31 642.9,811.65 643.1,834.03 643.3,845.32 643.5,847.52 643.7,848.88 643.9,850.28 644.1,850.64 644.3,851.61 644.5,851.83 644.7,852.36 644.9,852.40 645.1,852.48 645.3,852.79 645.5,852.87 645.7,853.55 645.9,853.45 646.1,853.29 646.3,853.81 646.5,854.04 646.7,854.17 646.9,854.34 647.1,854.25 647.3,854.00 647.5,854.29 647.7,854.45 647.9,854.67 648.1,854.76 648.3,853.87 648.5,854.61 648.7,854.47 648.9,854.62 649.1,854.46 649.3,854.62 649.5,854.49 649.7,854.15 649.9,854.71 650.1,854.40 650.3,854.55 650.5,854.36 650.7,854.72 650.9,854.45 651.1,854.80 651.3,855.02 651.5,854.89 651.7,854.81 651.9,854.85 652.1,854.65 652.3,854.30 652.5,854.87 652.7,854.47 652.9,854.54 653.1,854.76 653.3,854.82 653.5,854.48 653.7,854.47 653.9,854.68 654.1,854.63 654.3,854.60 654.5,854.93 654.7,854.57 654.9,854.52 655.1,854.15 655.3,854.92 655.5,854.81 655.7,854.57 655.9,854.74 656.1,854.70 656.3,854.59 656.5,854.67 656.7,854.60 656.9,854.48 657.1,855.00 657.3,854.45 657.5,855.16 657.7,854.17 657.9,854.36 658.1,854.75 658.3,854.34 658.5,854.63 658.7,854.48 658.9,854.40 659.1,854.51 659.3,854.59 659.5,854.44 659.7,854.64 659.9,854.69 660.1,854.83 660.3,855.05 660.5,854.19 660.7,854.40 660.9,854.94 661.1,854.49 661.3,854.54 661.5,855.14 661.7,854.80 661.9,854.62 662.1,854.16 662.3,854.32 662.5,854.27 662.7,854.51 662.9,854.34 663.1,854.88 663.3,854.43 663.5,854.41 663.7,854.91 663.9,854.53 664.1,854.21 664.3,854.10 664.5,854.23 664.7,854.76 664.9,854.61 665.1,854.72 665.3,854.28 665.5,854.80 665.7,854.85 665.9,854.99 666.1,854.54 666.3,854.48 666.5,854.73 666.7,854.77 666.9,854.63 667.1,854.25 667.3,854.92 667.5,854.59 667.7,854.53 667.9,854.49 668.1,854.27 668.3,854.38 668.5,854.51 668.7,854.22 668.9,854.30 669.1,854.51 669.3,854.52 669.5,854.88 669.7,854.55 669.9,854.78 670.1,854.87 670.3,854.65 670.5,855.01 670.7,854.81 670.9,854.71 671.1,854.50 671.3,854.66 671.5,854.49 671.7,854.19 671.9,854.38 672.1,854.88 672.3,855.03 672.5,854.82 672.7,854.81 672.9,855.09 673.1,855.02 673.3,855.02 673.5,854.75 673.7,854.24 673.9,854.17 674.1,854.85 674.3,854.71 674.5,854.95 674.7,855.01 674.9,854.62 675.1,854.60 675.3,854.77 675.5,854.45 675.7,854.70 675.9,854.34 676.1,854.74 676.3,854.40 676.5,854.67 676.7,854.58 676.9,854.46 677.1,854.95 677.3,854.80 677.5,854.63 677.7,854.69 677.9,854.55 678.1,854.82 678.3,854.95 678.5,854.64 678.7,854.55 678.9,854.82 679.1,854.31 679.3,854.44 679.5,854.40 679.7,854.42 679.9,854.83 680.1,854.08 680.3,854.79 680.5,854.51 680.7,854.43 680.9,854.52 681.1,854.56 681.3,854.80 681.5,854.70 681.7,854.59 681.9,854.27 682.1,854.76 682.3,854.42 682.5,854.48 682.7,854.57 682.9,854.72 683.1,854.62 683.3,855.02 683.5,854.56 683.7,854.50 683.9,854.71 684.1,854.45 684.3,854.50 684.5,854.76 684.7,854.36 684.9,854.71 685.1,853.97 685.3,854.83 685.5,854.77 685.7,854.73 685.9,854.51 686.1,854.28 686.3,854.55 686.5,854.67 686.7,854.10 686.9,854.32 687.1,854.64 687.3,854.60 687.5,854.96 687.7,854.56 687.9,854.14"/>
<rect x="332.9" y="676.5" width="1.6" height="150" fill="#555"/>
<path d="M470.0,751V797 M468.9,775V800 M483.8,678V701 M548.6,770V800 M547.5,785V805" stroke="#111" stroke-width="1.4" fill="none"/>
<rect x="170.2" y="676.5" width="1.4" height="70" fill="#444"/><rect x="170.3" y="746" width="1.2" height="66" fill="#888"/>
<polygon points="30.9,826.5 31.2,800 31.6,783 32.5,781.5 33.1,778 33.3,768 33.5,766.6 33.7,768 33.9,778 34.5,788 34.9,800 35.3,826.5 33.5,827.5" fill="#111"/>
<text class="nl" style="font-size:13.0px" transform="translate(38.00,751.52) rotate(-90)">5.31</text><line class="cn" x1="33.50" y1="751.62" x2="33.50" y2="763.20"/>
<text class="nl" style="font-size:13.0px" transform="translate(175.80,659.26) rotate(-90)">4.30</text><line class="cn" x1="171.30" y1="659.61" x2="171.30" y2="671.70"/>
<text class="nl" style="font-size:13.0px" transform="translate(317.90,804.24) rotate(-90)">3.25</text><line class="cn" x1="313.40" y1="804.34" x2="313.40" y2="816.30"/>
<text class="nl" style="font-size:13.0px" transform="translate(338.90,659.54) rotate(-90)">3.10</text><line class="cn" x1="334.40" y1="659.64" x2="334.40" y2="671.60"/>
<text class="nl" style="font-size:13.0px" transform="translate(474.70,734.60) rotate(-90)">2.10</text><line class="cn" x1="470.20" y1="734.57" x2="470.20" y2="745.90"/>
<text class="nl" style="font-size:13.0px" transform="translate(488.70,659.55) rotate(-90)">2.00</text><line class="cn" x1="484.20" y1="659.52" x2="484.20" y2="671.50"/>
<text class="nl" style="font-size:13.0px" transform="translate(527.20,810.83) rotate(-90)">1.71</text><line class="cn" x1="522.70" y1="810.43" x2="522.70" y2="821.70"/>
<text class="nl" style="font-size:13.0px" transform="translate(553.90,752.27) rotate(-90)">1.52</text><line class="cn" x1="549.40" y1="751.88" x2="549.40" y2="764.80"/>
<text class="nl" style="font-size:13.0px" transform="translate(573.90,658.67) rotate(-90)">1.29</text><polyline class="cn" points="569.40,658.27 569.40,661.27 575.00,668.27 575.00,674.00"/>
<text class="nl" style="font-size:13.0px" transform="translate(588.00,658.67) rotate(-90)">1.26</text><polyline class="cn" points="583.50,658.27 583.50,661.27 582.20,668.27 582.20,673.50"/>
<text class="nl" style="font-size:13.0px" transform="translate(638.20,690.38) rotate(-90)">0.88</text><polyline class="cn" points="633.70,690.48 633.70,693.48 634.40,700.48 634.40,703.90"/>
<text class="nl" style="font-size:13.0px" transform="translate(645.10,659.74) rotate(-90)">0.85</text><line class="cn" x1="640.60" y1="659.84" x2="640.60" y2="672.50"/>
<text class="pl" style="font-size:26px" x="25.29" y="618.40">c)</text>
<text class="rd" style="font-size:14px" transform="translate(36.91,708.96) rotate(-90)">9, 10</text>
<text class="bl" style="font-size:14px" transform="translate(318.21,760.26) rotate(-90)">1’</text>
<text class="bl" style="font-size:13.5px" transform="translate(339.58,625.81) rotate(-90)">N-CH<tspan font-size="9.5px" dy="3.00">3</tspan></text>
<text class="rd" style="font-size:14px" transform="translate(473.83,688.27) rotate(-90)">2</text>
<text class="rd" style="font-size:14px" transform="translate(488.86,627.29) rotate(-90)">8, 11</text>
<text class="bl" style="font-size:14px" transform="translate(525.88,767.48) rotate(-90)">2’</text>
<text class="rd" style="font-size:14px" transform="translate(553.76,706.26) rotate(-90)">3</text>
<text class="rd" style="font-size:14px" transform="translate(561.90,621.30) rotate(-90)">4-7,</text>
<text class="rd" style="font-size:14px" transform="translate(579.12,627.15) rotate(-90)">12-17</text>
<text class="bl" style="font-size:14px" transform="translate(599.16,621.30) rotate(-90)">3’-7’</text>
<line x1="10" y1="872.6" x2="688.3" y2="872.6" stroke="#666" stroke-width="1"/>
<path d="M13.47,872.6v4.0 M20.29,872.6v4.0 M27.10,872.6v4.0 M33.92,872.6v4.0 M40.73,872.6v6.0 M47.54,872.6v4.0 M54.36,872.6v4.0 M61.17,872.6v4.0 M67.99,872.6v4.0 M74.80,872.6v8.0 M81.61,872.6v4.0 M88.43,872.6v4.0 M95.24,872.6v4.0 M102.06,872.6v4.0 M108.87,872.6v6.0 M115.68,872.6v4.0 M122.50,872.6v4.0 M129.31,872.6v4.0 M136.13,872.6v4.0 M142.94,872.6v8.0 M149.75,872.6v4.0 M156.57,872.6v4.0 M163.38,872.6v4.0 M170.20,872.6v4.0 M177.01,872.6v6.0 M183.82,872.6v4.0 M190.64,872.6v4.0 M197.45,872.6v4.0 M204.27,872.6v4.0 M211.08,872.6v8.0 M217.89,872.6v4.0 M224.71,872.6v4.0 M231.52,872.6v4.0 M238.34,872.6v4.0 M245.15,872.6v6.0 M251.96,872.6v4.0 M258.78,872.6v4.0 M265.59,872.6v4.0 M272.41,872.6v4.0 M279.22,872.6v8.0 M286.03,872.6v4.0 M292.85,872.6v4.0 M299.66,872.6v4.0 M306.48,872.6v4.0 M313.29,872.6v6.0 M320.10,872.6v4.0 M326.92,872.6v4.0 M333.73,872.6v4.0 M340.55,872.6v4.0 M347.36,872.6v8.0 M354.17,872.6v4.0 M360.99,872.6v4.0 M367.80,872.6v4.0 M374.62,872.6v4.0 M381.43,872.6v6.0 M388.24,872.6v4.0 M395.06,872.6v4.0 M401.87,872.6v4.0 M408.69,872.6v4.0 M415.50,872.6v8.0 M422.31,872.6v4.0 M429.13,872.6v4.0 M435.94,872.6v4.0 M442.76,872.6v4.0 M449.57,872.6v6.0 M456.38,872.6v4.0 M463.20,872.6v4.0 M470.01,872.6v4.0 M476.83,872.6v4.0 M483.64,872.6v8.0 M490.45,872.6v4.0 M497.27,872.6v4.0 M504.08,872.6v4.0 M510.90,872.6v4.0 M517.71,872.6v6.0 M524.52,872.6v4.0 M531.34,872.6v4.0 M538.15,872.6v4.0 M544.97,872.6v4.0 M551.78,872.6v8.0 M558.59,872.6v4.0 M565.41,872.6v4.0 M572.22,872.6v4.0 M579.04,872.6v4.0 M585.85,872.6v6.0 M592.66,872.6v4.0 M599.48,872.6v4.0 M606.29,872.6v4.0 M613.11,872.6v4.0 M619.92,872.6v8.0 M626.73,872.6v4.0 M633.55,872.6v4.0 M640.36,872.6v4.0 M647.18,872.6v4.0 M653.99,872.6v6.0 M660.80,872.6v4.0 M667.62,872.6v4.0 M674.43,872.6v4.0 M681.25,872.6v4.0 M688.06,872.6v8.0" stroke="#666" stroke-width="1" fill="none"/>
<text class="ax" style="font-size:15px" x="63.56" y="894.49">5.0</text>
<text class="ax" style="font-size:15px" x="131.83" y="894.42">4.5</text>
<text class="ax" style="font-size:15px" x="199.97" y="894.49">4.0</text>
<text class="ax" style="font-size:15px" x="267.98" y="894.49">3.5</text>
<text class="ax" style="font-size:15px" x="336.12" y="894.49">3.0</text>
<text class="ax" style="font-size:15px" x="404.20" y="894.49">2.5</text>
<text class="ax" style="font-size:15px" x="472.34" y="894.49">2.0</text>
<text class="ax" style="font-size:15px" x="540.29" y="894.42">1.5</text>
<text class="ax" style="font-size:15px" x="608.43" y="894.49">1.0</text>
<text class="ax" style="font-size:15px" x="667.06" y="894.49">0.5</text>
<text class="ax" style="font-size:15.5px" x="275.00" y="913.60">Chemical Shift (ppm)</text>
<text class="bl" style="font-size:14px" transform="translate(639.61,44.10) rotate(-90)">8’, <tspan fill="#f00">18</tspan></text>
<text class="bl" style="font-size:14px" transform="translate(641.66,625.05) rotate(-90)">8’, <tspan fill="#f00">18</tspan></text>
<rect x="7.6" y="938.3" width="728.2" height="183.0" fill="none" stroke="#5a5a5a" stroke-width="1.2"/>
<text class="sf" x="19.00" y="983.80">CH<tspan font-size="8.5px" dy="2.2">3</tspan></text>
<text class="sf" x="60.80" y="983.80">(CH<tspan font-size="8.5px" dy="2.2">2</tspan><tspan dy="-2.2">)</tspan><tspan font-size="8.5px" dy="2.2">6</tspan></text>
<text class="sf" x="110.40" y="983.80">CH<tspan font-size="8.5px" dy="2.2">2</tspan></text>
<text class="sf" x="163.60" y="983.80">CH<tspan font-size="8.5px" dy="2.2">2</tspan></text>
<text class="sf" x="199.20" y="983.80">(CH<tspan font-size="8.5px" dy="2.2">2</tspan><tspan dy="-2.2">)</tspan><tspan font-size="8.5px" dy="2.2">4</tspan></text>
<text class="sf" x="251.40" y="983.80">CH<tspan font-size="8.5px" dy="2.2">2</tspan></text>
<text class="sf" x="287.00" y="983.80">CH<tspan font-size="8.5px" dy="2.2">2</tspan></text>
<text class="sf" x="320.80" y="983.80">C</text>
<text class="sf" x="123.90" y="1006.90">C</text>
<text class="sf" x="149.00" y="1006.90">C</text>
<text class="sf" x="110.60" y="1028.70">H</text>
<text class="sf" x="162.90" y="1028.70">H</text>
<text class="sf" x="335.60" y="961.60" style="font-size:11px">O</text>
<text class="sf" x="335.40" y="1008.60" style="font-size:11px">O</text>
<text class="sf" x="357.30" y="983.40">K</text>
<path class="sl" d="M41.4,979.3L59.7,979.3 M95.5,979.3L109.5,979.3 M184.9,979.3L198.6,979.3 M234.3,979.3L251.0,979.3 M272.9,979.3L286.6,979.3 M307.8,979.3L320.5,979.3 M118.4,986.2L125.0,997.4 M124.2,1008.8L118.4,1018.2 M156.6,998.4L164.8,986.8 M156.8,1009.0L163.2,1018.8 M131.6,1000.9L149.0,1000.9 M131.6,1004.6L149.0,1004.6 M328.6,975.6L335.8,963.4 M328.4,987.8L335.4,1000.3 M330.7,986.4L337.7,998.9"/>
<circle cx="337.9" cy="979.2" r="3.5" fill="none" stroke="#333" stroke-width="1.1"/><path d="M335.9,979.2h4" stroke="#333" stroke-width="1.3"/>
<circle cx="371.5" cy="973.3" r="3.5" fill="none" stroke="#333" stroke-width="1.1"/><path d="M370.0,973.3h3M371.5,971.8v3" stroke="#333" stroke-width="1.1"/>
<text class="rd" style="font-size:13px" x="19.96" y="963.25">18</text>
<text class="rd" style="font-size:13px" x="58.81" y="963.31">12-17</text>
<text class="rd" style="font-size:13px" x="110.29" y="963.25">11</text>
<text class="rd" style="font-size:13px" x="168.18" y="963.25">8</text>
<text class="rd" style="font-size:13px" x="206.78" y="963.25">4-7</text>
<text class="rd" style="font-size:13px" x="257.35" y="963.25">3</text>
<text class="rd" style="font-size:13px" x="291.42" y="963.31">2</text>
<text class="rd" style="font-size:13px" x="321.84" y="963.25">1</text>
<text class="rd" style="font-size:13px" x="124.62" y="1025.80">10</text>
<text class="rd" style="font-size:13px" x="148.88" y="1025.80">9</text>
<text class="bb" style="font-size:13.5px" x="59.38" y="1065.38">8’</text>
<text class="bb" style="font-size:13.5px" x="109.26" y="1065.38">6’</text>
<text class="bb" style="font-size:13.5px" x="157.09" y="1065.38">4’</text>
<text class="bb" style="font-size:13.5px" x="204.11" y="1065.74">2’</text>
<text class="bb" style="font-size:13.5px" x="85.00" y="1082.07">7’</text>
<text class="bb" style="font-size:13.5px" x="132.98" y="1082.01">5’</text>
<text class="bb" style="font-size:13.5px" x="180.32" y="1081.47">3’</text>
<text class="bb" style="font-size:13.5px" x="227.53" y="1080.97">1’</text>
<text class="ss" style="font-size:10.5px" x="48.6" y="1084.7">H<tspan font-size="7.5px" dy="1" fill="#777">3</tspan><tspan dy="-1">C</tspan></text>
<polyline class="sl" points="73.6,1085.6 89.6,1094.3 113.1,1081.1 136.4,1094.3 159.7,1081.1 183.2,1094.3 205.7,1080.8 229.9,1094.1 246.5,1085.4"/>
<text class="ss" x="248.8" y="1085.4" style="fill:#2a2ae0">N</text><text class="ss" x="257.0" y="1080.0" style="font-size:7px;fill:#2a2ae0">+</text>
<path class="sl" d="M252.9,1073.2L252.9,1060.9 M261.0,1074.0L270.0,1069.0 M259.3,1085.9L268.2,1089.7"/>
<text class="ss" x="249.0" y="1059.1">CH<tspan font-size="7.5px" dy="1" fill="#666">3</tspan></text>
<text class="ss" x="272.0" y="1073.2">CH<tspan font-size="7.5px" dy="1" fill="#666">3</tspan></text>
<text class="ss" x="272.0" y="1099.2">CH<tspan font-size="7.5px" dy="1" fill="#666">3</tspan></text>
<text class="ss" x="324.2" y="1098.1" style="fill:#a83232">Br<tspan font-size="7px" dy="-4">−</tspan></text>
<text class="sg" style="font-size:12.0px" x="418.56" y="966.58"><tspan fill="#2ea870">R</tspan><tspan fill="#333">O</tspan></text>
<text class="sg" style="font-size:12.0px" x="459.60" y="966.58"><tspan fill="#333">O</tspan><tspan fill="#2ea870">R</tspan></text>
<text class="sg" style="font-size:10.5px" x="491.94" y="979.38"><tspan fill="#333">O</tspan></text>
<text class="sg" style="font-size:12.0px" x="416.76" y="1001.12"><tspan fill="#2ea870">R</tspan><tspan fill="#333">O</tspan></text>
<text class="sg" style="font-size:12.0px" x="486.80" y="1022.42"><tspan fill="#333">O</tspan><tspan fill="#2ea870">R</tspan></text>
<text class="sg" style="font-size:12.0px" x="511.42" y="1029.42"><tspan fill="#333">O</tspan></text>
<text class="sgb" style="font-size:15px" x="519.77" y="1006.08">g1</text>
<path class="sgl" d="M432.6,978.7L466.4,983.5 M466.4,983.5L492.4,976.6 M499.4,978.4L514.8,1003.3 M432.4,967.0L432.6,978.7 M466.4,983.5L448.3,972.6 M448.3,972.6L459.4,966.8 M434.6,997.6L451.9,999.2 M484.6,995.6L489.4,1012.8 M514.8,1003.3L515.6,1021.3 M514.6,1029.4L506.4,1046.5 M506.4,1046.5L524.7,1057.9 M490.5,1052.2L524.7,1057.9 M524.7,1057.9L549.4,1050.6 M557.6,1052.8L576.0,1076.6 M541.8,1069.3L541.8,1058.0 M541.8,1053.8L541.8,1040.6 M490.5,1052.2L478.3,1058.6 M471.0,1057.6L444.8,1045.4 M492.6,1072.2L509.9,1073.9 M576.0,1076.6L590.9,1067.4 M598.6,1068.6L614.3,1077.3 M614.3,1077.3L626.5,1051.8 M626.5,1051.8L663.0,1061.8 M663.0,1061.8L695.2,1053.0 M614.6,1051.3L626.5,1051.8 M643.1,1070.7L638.6,1085.6 M663.0,1061.8L663.0,1068.0 M663.0,1074.2L663.0,1083.4 M695.2,1053.0L714.0,1059.6"/>
<path class="sgb2" d="M432.6,978.7L451.9,999.2 M451.9,999.2L484.6,995.6 M484.6,995.6L514.8,1003.3 M490.5,1052.2L509.9,1073.9 M509.9,1073.9L541.8,1069.3 M541.8,1069.3L576.0,1076.6 M614.3,1077.3L643.1,1070.7 M643.1,1070.7L677.6,1076.2"/>
<path d="M695.2,1053.0 L680.0,1073.2 L683.0,1074.8 Z" fill="#222"/>
<text class="sg" style="font-size:11px" x="549.55" y="1053.26"><tspan fill="#333">O</tspan></text>
<text class="sg" style="font-size:12.0px" x="537.75" y="1039.22"><tspan fill="#333">O</tspan><tspan fill="#2ea870">R</tspan></text>
<text class="sg" style="font-size:12.0px" x="469.62" y="1064.32"><tspan fill="#333">O</tspan></text>
<text class="sg" style="font-size:12.0px" x="475.26" y="1075.72"><tspan fill="#2ea870">R</tspan><tspan fill="#333">O</tspan></text>
<text class="sg" style="font-size:12.0px" x="590.27" y="1070.28"><tspan fill="#333">O</tspan></text>
<text class="sgb" style="font-size:15px" x="564.66" y="1091.64">m1</text>
<text class="sg" style="font-size:12.0px" x="596.81" y="1055.43"><tspan fill="#2ea870">R</tspan><tspan fill="#333">O</tspan></text>
<text class="sg" style="font-size:11px" x="677.94" y="1080.29"><tspan fill="#333">o</tspan></text>
<text class="sg" style="font-size:12.0px" x="636.55" y="1097.53"><tspan fill="#333">O</tspan><tspan fill="#2ea870">R</tspan></text>
<text class="sg" style="font-size:12.0px" x="659.00" y="1093.07"><tspan fill="#333">O</tspan><tspan fill="#2ea870">R</tspan></text>
<text class="sgb" style="font-size:15px" x="681.76" y="1046.54">m1</text>
<path class="sgl" d="M459.7,1024.8 Q449.0,1062.5 459.7,1100.1 M702.9,1024.2 Q714.0,1063.0 702.9,1101.7"/>
<text class="sg" style="font-size:10px" x="710.70" y="1102.19"><tspan fill="#333">n</tspan></text>
<text class="sg" style="font-size:11px" x="589.45" y="985.36"><tspan fill="#2ea870">R:</tspan></text>
<text class="sg" style="font-size:11.5px" x="618.52" y="985.84"><tspan fill="#333">H</tspan></text>
<polyline class="sgl" points="648.0,977.0 656.1,971.1 669.0,977.6 683.5,970.0"/><path class="sgl" d="M669.0,977.6L669.0,987.2"/>
<text class="sg" style="font-size:14.5px;stroke:#333;stroke-width:0.45" x="684.85" y="972.2">CH<tspan style="font-size:10px;stroke-width:0.3" dy="2.6">3</tspan></text>
<text class="sg" style="font-size:12px" x="664.99" y="997.53"><tspan fill="#333">OH</tspan></text>
</svg></body></html>
